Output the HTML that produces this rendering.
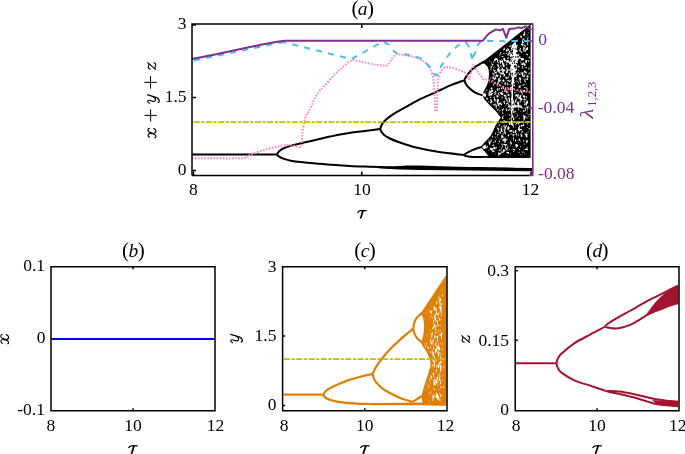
<!DOCTYPE html><html><head><meta charset="utf-8"><title>Bifurcation diagrams</title><style>html,body{margin:0;padding:0;background:#fff;width:685px;height:454px;overflow:hidden;}svg{display:block;will-change:transform;font-family:"Liberation Serif",serif;}</style></head><body><svg width="685" height="454" viewBox="0 0 685 454"><rect width="685" height="454" fill="#fff"/><path d="M277.2,154.4 C277.2,153.5 277.8,152.6 278.8,151.6 C279.8,150.6 281.0,149.5 283.2,148.5 C285.4,147.5 288.3,146.4 292.0,145.4 C295.7,144.4 300.8,143.3 305.2,142.3 C309.6,141.3 314.4,140.2 318.5,139.3 C322.6,138.4 324.4,137.7 330.0,136.6 C335.6,135.5 343.6,133.9 352.0,132.6 C360.4,131.3 375.7,129.6 380.4,129.0" fill="none" stroke="#000" stroke-width="2"/>
<path d="M277.2,154.4 C277.2,155.1 277.8,155.7 278.8,156.4 C279.8,157.1 281.0,157.8 283.2,158.6 C285.4,159.4 288.4,160.3 292.0,161.0 C295.6,161.7 300.3,162.0 305.0,162.5 C309.7,163.0 315.0,163.4 320.0,163.8 C325.0,164.2 330.0,164.7 335.0,165.0 C340.0,165.3 345.0,165.6 350.0,165.9 C355.0,166.2 360.0,166.4 365.0,166.6 C370.0,166.8 370.8,166.8 380.0,167.1 C389.2,167.4 394.8,167.9 420.0,168.2 C445.2,168.5 512.5,168.9 531.0,169.0" fill="none" stroke="#000" stroke-width="2"/>
<path d="M380.4,129.0 C380.4,127.4 381.1,125.9 382.0,124.3 C382.9,122.7 384.1,121.4 386.1,119.6 C388.1,117.8 391.0,115.6 394.1,113.6 C397.2,111.6 400.9,109.8 404.9,107.6 C408.9,105.4 413.4,102.7 418.3,100.2 C423.2,97.7 429.0,95.3 434.4,92.8 C439.8,90.3 445.5,87.5 450.5,85.4 C455.5,83.3 462.2,81.1 464.6,80.2" fill="none" stroke="#000" stroke-width="2"/>
<path d="M380.4,129.0 C380.4,130.9 382.3,133.1 383.9,134.7 C385.5,136.3 387.7,137.3 390.0,138.5 C392.3,139.7 393.3,140.2 397.7,141.7 C402.1,143.2 409.2,145.8 416.2,147.5 C423.1,149.2 431.4,150.8 439.4,152.1 C447.4,153.3 460.1,154.5 464.3,155.0" fill="none" stroke="#000" stroke-width="2"/>
<path d="M464.6,80.0 C464.6,78.7 465.6,77.4 466.5,76.0 C467.4,74.6 468.3,73.4 469.9,71.8 C471.4,70.2 473.9,67.8 475.8,66.4 C477.7,65.0 479.9,64.1 481.3,63.2 C482.7,62.4 483.6,61.6 484.0,61.3" fill="none" stroke="#000" stroke-width="2"/>
<path d="M464.6,80.0 C464.6,81.9 465.5,83.9 466.9,85.7 C468.3,87.5 471.1,89.8 472.9,91.1 C474.7,92.4 475.9,92.9 477.5,93.6 C479.1,94.3 481.6,95.0 482.4,95.3" fill="none" stroke="#000" stroke-width="2"/>
<path d="M464.3,155.2 C464.3,153.8 468.7,152.1 470.6,151.0 C472.6,149.9 474.1,149.5 476.0,148.8 C477.9,148.1 481.0,147.3 482.0,147.0" fill="none" stroke="#000" stroke-width="2"/>
<path d="M464.3,155.2 C464.3,155.6 465.5,156.0 467.0,156.3 C468.5,156.6 470.9,156.9 473.2,157.0 C475.5,157.1 478.4,157.0 481.0,157.0 C483.6,157.0 487.2,156.8 488.5,156.8" fill="none" stroke="#000" stroke-width="2"/>
<path d="M192.0,154.4 L277.2,154.4" fill="none" stroke="#000" stroke-width="2"/>
<path d="M378.0,167.7 C380.0,167.5 386.3,166.9 390.0,166.6 C393.7,166.3 395.0,166.1 400.0,165.9 C405.0,165.7 411.7,165.5 420.0,165.6 C428.3,165.7 438.3,166.2 450.0,166.5 C461.7,166.8 476.3,167.0 490.0,167.3 C503.7,167.6 525.0,168.0 532.0,168.1 L532,171.2 L490,170.8 L450,170.2 L420,169.9 L400,169.4 L390,168.9 L378,168.3 Z" fill="#000"/>
<path d="M480.8,63.2 L530.6,24.3 L530.6,158.0 L487.0,158.0 L488.5,156.0 L486.0,153.0 L483.0,149.8 L481.2,147.5 L481.6,145.5 L486.4,140.4 L490.8,135.6 L493.5,130.3 L495.2,125.9 L500.8,117.5 L496.1,111.6 L489.5,105.0 L484.5,99.5 L482.2,95.2 L483.5,92.0 L485.2,88.5 L486.8,85.5 L488.0,82.0 L488.6,78.5 L489.0,74.2 L488.7,70.0 L487.4,66.5 L484.5,63.8 Z" fill="#000"/>
<path fill="#fff" d="M529.16 29.6h0.33v0.33h-0.33zM529.16 29.93h0.33v0.33h-0.33zM529.16 30.26h0.33v0.33h-0.33zM523.88 31.25h0.66v0.33h-0.66zM523.88 31.58h0.66v0.33h-0.66zM523.88 31.91h0.99v0.33h-0.99zM527.84 31.91h0.33v0.33h-0.33zM523.88 32.24h0.99v0.33h-0.99zM527.84 32.24h0.66v0.33h-0.66zM524.21 32.57h0.99v0.33h-0.99zM527.84 32.57h0.66v0.33h-0.66zM524.21 32.9h0.99v0.33h-0.99zM528.17 32.9h0.33v0.33h-0.33zM524.21 33.23h0.99v0.33h-0.99zM523.88 33.56h1.32v0.33h-1.32zM523.22 33.89h1.98v0.33h-1.98zM526.85 33.89h0.66v0.33h-0.66zM522.89 34.22h1.98v0.33h-1.98zM526.85 34.22h0.66v0.33h-0.66zM523.22 34.55h1.65v0.33h-1.65zM523.22 34.88h1.65v0.33h-1.65zM523.22 35.21h1.65v0.33h-1.65zM521.57 35.54h0.33v0.33h-0.33zM523.88 35.54h0.99v0.33h-0.99zM527.51 35.54h0.66v0.33h-0.66zM520.25 35.87h1.65v0.33h-1.65zM527.51 35.87h0.66v0.33h-0.66zM519.92 36.2h1.98v0.33h-1.98zM527.84 36.2h0.33v0.33h-0.33zM519.92 36.53h1.98v0.33h-1.98zM525.86 36.53h0.33v0.33h-0.33zM527.84 36.53h0.33v0.33h-0.33zM520.25 36.86h1.65v0.33h-1.65zM525.53 36.86h0.66v0.33h-0.66zM520.91 37.19h0.99v0.33h-0.99zM525.53 37.19h0.66v0.33h-0.66zM528.5 37.19h0.66v0.33h-0.66zM521.24 37.52h0.66v0.33h-0.66zM528.5 37.52h0.66v0.33h-0.66zM521.24 37.85h0.33v0.33h-0.33zM527.18 37.85h0.66v0.33h-0.66zM528.5 37.85h0.33v0.33h-0.33zM527.18 38.18h0.99v0.33h-0.99zM522.56 38.51h0.99v0.33h-0.99zM523.88 38.51h0.33v0.33h-0.33zM527.18 38.51h0.99v0.33h-0.99zM522.56 38.84h1.98v0.33h-1.98zM527.18 38.84h0.99v0.33h-0.99zM522.56 39.17h1.98v0.33h-1.98zM527.51 39.17h0.66v0.33h-0.66zM529.49 39.17h0.33v0.33h-0.33zM517.61 39.5h0.33v0.33h-0.33zM522.23 39.5h0.33v0.33h-0.33zM522.89 39.5h1.65v0.33h-1.65zM527.51 39.5h0.66v0.33h-0.66zM517.28 39.83h0.66v0.33h-0.66zM522.23 39.83h0.99v0.33h-0.99zM526.19 39.83h0.33v0.33h-0.33zM527.51 39.83h0.66v0.33h-0.66zM516.62 40.16h1.32v0.33h-1.32zM522.23 40.16h0.99v0.33h-0.99zM526.19 40.16h1.98v0.33h-1.98zM516.62 40.49h0.99v0.33h-0.99zM522.23 40.49h0.66v0.33h-0.66zM525.86 40.49h2.31v0.33h-2.31zM516.62 40.82h0.99v0.33h-0.99zM522.23 40.82h0.66v0.33h-0.66zM525.86 40.82h2.31v0.33h-2.31zM516.95 41.15h0.66v0.33h-0.66zM522.23 41.15h0.99v0.33h-0.99zM525.86 41.15h2.31v0.33h-2.31zM514.97 41.48h0.33v0.33h-0.33zM522.23 41.48h0.99v0.33h-0.99zM524.87 41.48h0.33v0.33h-0.33zM526.19 41.48h1.98v0.33h-1.98zM514.97 41.81h0.33v0.33h-0.33zM521.9 41.81h1.98v0.33h-1.98zM526.19 41.81h1.98v0.33h-1.98zM514.31 42.14h1.32v0.33h-1.32zM521.9 42.14h1.98v0.33h-1.98zM527.18 42.14h0.99v0.33h-0.99zM514.31 42.47h1.65v0.33h-1.65zM521.9 42.47h1.98v0.33h-1.98zM527.51 42.47h0.33v0.33h-0.33zM513.65 42.8h2.31v0.33h-2.31zM521.9 42.8h1.65v0.33h-1.65zM527.51 42.8h0.33v0.33h-0.33zM513.32 43.13h2.64v0.33h-2.64zM521.9 43.13h0.99v0.33h-0.99zM527.51 43.13h0.33v0.33h-0.33zM513.32 43.46h2.64v0.33h-2.64zM521.9 43.46h0.66v0.33h-0.66zM527.18 43.46h0.99v0.33h-0.99zM512.99 43.79h2.97v0.33h-2.97zM520.91 43.79h0.66v0.33h-0.66zM522.23 43.79h0.33v0.33h-0.33zM527.18 43.79h0.99v0.33h-0.99zM512.99 44.12h2.97v0.33h-2.97zM520.91 44.12h2.31v0.33h-2.31zM527.18 44.12h0.99v0.33h-0.99zM512 44.45h4.29v0.33h-4.29zM520.91 44.45h2.64v0.33h-2.64zM527.18 44.45h0.99v0.33h-0.99zM512 44.78h2.31v0.33h-2.31zM514.64 44.78h1.65v0.33h-1.65zM516.95 44.78h0.66v0.33h-0.66zM521.24 44.78h2.31v0.33h-2.31zM524.21 44.78h0.99v0.33h-0.99zM527.18 44.78h0.99v0.33h-0.99zM510.68 45.11h0.99v0.33h-0.99zM512 45.11h2.31v0.33h-2.31zM514.64 45.11h1.65v0.33h-1.65zM516.62 45.11h0.99v0.33h-0.99zM521.9 45.11h1.65v0.33h-1.65zM524.21 45.11h1.32v0.33h-1.32zM527.51 45.11h0.33v0.33h-0.33zM510.35 45.44h0.66v0.33h-0.66zM511.67 45.44h5.94v0.33h-5.94zM521.9 45.44h1.32v0.33h-1.32zM524.21 45.44h1.32v0.33h-1.32zM507.71 45.77h0.33v0.33h-0.33zM509.69 45.77h1.32v0.33h-1.32zM511.67 45.77h5.94v0.33h-5.94zM524.54 45.77h1.32v0.33h-1.32zM507.71 46.1h0.66v0.33h-0.66zM509.36 46.1h1.32v0.33h-1.32zM511.67 46.1h5.61v0.33h-5.61zM524.87 46.1h0.99v0.33h-0.99zM507.71 46.43h0.33v0.33h-0.33zM509.36 46.43h1.32v0.33h-1.32zM511.67 46.43h5.61v0.33h-5.61zM523.88 46.43h0.33v0.33h-0.33zM525.2 46.43h0.66v0.33h-0.66zM509.69 46.76h0.99v0.33h-0.99zM511.67 46.76h5.61v0.33h-5.61zM523.55 46.76h0.99v0.33h-0.99zM525.53 46.76h0.33v0.33h-0.33zM511.34 47.09h5.61v0.33h-5.61zM523.55 47.09h0.99v0.33h-0.99zM527.18 47.09h0.66v0.33h-0.66zM504.08 47.42h0.33v0.33h-0.33zM511.34 47.42h5.61v0.33h-5.61zM518.6 47.42h0.66v0.33h-0.66zM523.22 47.42h1.65v0.33h-1.65zM526.85 47.42h0.99v0.33h-0.99zM503.75 47.75h0.66v0.33h-0.66zM511.34 47.75h5.61v0.33h-5.61zM518.6 47.75h0.66v0.33h-0.66zM523.22 47.75h1.65v0.33h-1.65zM526.52 47.75h1.32v0.33h-1.32zM503.75 48.08h0.99v0.33h-0.99zM507.05 48.08h0.33v0.33h-0.33zM511.01 48.08h1.65v0.33h-1.65zM513.32 48.08h0.99v0.33h-0.99zM514.64 48.08h0.99v0.33h-0.99zM515.96 48.08h0.99v0.33h-0.99zM518.6 48.08h0.33v0.33h-0.33zM519.92 48.08h0.99v0.33h-0.99zM523.22 48.08h0.66v0.33h-0.66zM524.21 48.08h0.66v0.33h-0.66zM526.19 48.08h1.65v0.33h-1.65zM503.75 48.41h0.99v0.33h-0.99zM507.05 48.41h0.66v0.33h-0.66zM511.01 48.41h1.32v0.33h-1.32zM513.32 48.41h0.99v0.33h-0.99zM514.64 48.41h0.66v0.33h-0.66zM516.29 48.41h0.66v0.33h-0.66zM519.92 48.41h0.99v0.33h-0.99zM522.89 48.41h0.99v0.33h-0.99zM524.21 48.41h0.99v0.33h-0.99zM525.86 48.41h1.98v0.33h-1.98zM503.75 48.74h0.99v0.33h-0.99zM506.72 48.74h0.99v0.33h-0.99zM508.37 48.74h0.66v0.33h-0.66zM511.34 48.74h0.99v0.33h-0.99zM513.32 48.74h1.98v0.33h-1.98zM516.29 48.74h0.66v0.33h-0.66zM519.92 48.74h0.66v0.33h-0.66zM522.89 48.74h0.99v0.33h-0.99zM524.21 48.74h0.99v0.33h-0.99zM525.53 48.74h2.64v0.33h-2.64zM503.42 49.07h1.32v0.33h-1.32zM506.72 49.07h0.66v0.33h-0.66zM508.04 49.07h0.99v0.33h-0.99zM511.67 49.07h0.66v0.33h-0.66zM513.32 49.07h2.31v0.33h-2.31zM516.62 49.07h0.33v0.33h-0.33zM519.59 49.07h0.99v0.33h-0.99zM522.89 49.07h0.99v0.33h-0.99zM524.54 49.07h0.33v0.33h-0.33zM525.53 49.07h2.64v0.33h-2.64zM503.42 49.4h1.32v0.33h-1.32zM506.72 49.4h0.66v0.33h-0.66zM508.04 49.4h0.99v0.33h-0.99zM511.67 49.4h0.66v0.33h-0.66zM512.99 49.4h2.64v0.33h-2.64zM516.62 49.4h0.33v0.33h-0.33zM519.59 49.4h0.99v0.33h-0.99zM522.89 49.4h0.99v0.33h-0.99zM525.53 49.4h2.31v0.33h-2.31zM503.09 49.73h1.32v0.33h-1.32zM506.06 49.73h1.65v0.33h-1.65zM508.04 49.73h0.99v0.33h-0.99zM510.68 49.73h5.28v0.33h-5.28zM516.62 49.73h0.33v0.33h-0.33zM519.26 49.73h0.99v0.33h-0.99zM522.89 49.73h0.99v0.33h-0.99zM524.21 49.73h0.66v0.33h-0.66zM525.53 49.73h1.98v0.33h-1.98zM503.42 50.06h0.66v0.33h-0.66zM506.06 50.06h2.97v0.33h-2.97zM510.68 50.06h1.32v0.33h-1.32zM512.66 50.06h4.95v0.33h-4.95zM519.26 50.06h0.99v0.33h-0.99zM523.22 50.06h0.66v0.33h-0.66zM524.21 50.06h0.66v0.33h-0.66zM525.2 50.06h0.99v0.33h-0.99zM503.42 50.39h0.33v0.33h-0.33zM505.73 50.39h2.31v0.33h-2.31zM508.7 50.39h0.33v0.33h-0.33zM510.68 50.39h0.99v0.33h-0.99zM512.99 50.39h4.62v0.33h-4.62zM519.26 50.39h1.65v0.33h-1.65zM523.88 50.39h2.31v0.33h-2.31zM505.73 50.72h1.98v0.33h-1.98zM509.03 50.72h0.66v0.33h-0.66zM510.68 50.72h0.66v0.33h-0.66zM512.99 50.72h4.62v0.33h-4.62zM519.59 50.72h1.65v0.33h-1.65zM523.88 50.72h2.31v0.33h-2.31zM506.06 51.05h1.32v0.33h-1.32zM509.03 51.05h0.99v0.33h-0.99zM512.99 51.05h4.62v0.33h-4.62zM519.92 51.05h1.65v0.33h-1.65zM523.55 51.05h2.31v0.33h-2.31zM509.03 51.38h0.99v0.33h-0.99zM512.99 51.38h4.62v0.33h-4.62zM520.25 51.38h1.32v0.33h-1.32zM523.55 51.38h0.33v0.33h-0.33zM525.2 51.38h0.33v0.33h-0.33zM528.17 51.38h0.33v0.33h-0.33zM509.03 51.71h0.99v0.33h-0.99zM512.99 51.71h4.29v0.33h-4.29zM520.91 51.71h0.66v0.33h-0.66zM523.55 51.71h0.33v0.33h-0.33zM500.78 52.04h0.33v0.33h-0.33zM509.03 52.04h0.99v0.33h-0.99zM512.99 52.04h4.29v0.33h-4.29zM521.24 52.04h0.66v0.33h-0.66zM523.55 52.04h0.33v0.33h-0.33zM500.45 52.37h0.99v0.33h-0.99zM508.37 52.37h1.32v0.33h-1.32zM510.35 52.37h0.33v0.33h-0.33zM511.67 52.37h0.99v0.33h-0.99zM512.99 52.37h2.97v0.33h-2.97zM521.24 52.37h0.99v0.33h-0.99zM500.12 52.7h1.32v0.33h-1.32zM505.73 52.7h0.99v0.33h-0.99zM508.04 52.7h1.65v0.33h-1.65zM510.35 52.7h5.61v0.33h-5.61zM521.24 52.7h0.99v0.33h-0.99zM500.12 53.03h0.99v0.33h-0.99zM503.42 53.03h0.99v0.33h-0.99zM505.73 53.03h0.99v0.33h-0.99zM508.04 53.03h1.65v0.33h-1.65zM510.35 53.03h0.99v0.33h-0.99zM512.33 53.03h3.63v0.33h-3.63zM500.12 53.36h0.66v0.33h-0.66zM503.09 53.36h1.32v0.33h-1.32zM505.73 53.36h0.99v0.33h-0.99zM508.37 53.36h1.32v0.33h-1.32zM510.35 53.36h0.99v0.33h-0.99zM512.66 53.36h3.63v0.33h-3.63zM526.19 53.36h0.33v0.33h-0.33zM499.79 53.69h0.99v0.33h-0.99zM503.09 53.69h1.65v0.33h-1.65zM506.06 53.69h0.33v0.33h-0.33zM507.71 53.69h0.33v0.33h-0.33zM508.7 53.69h0.99v0.33h-0.99zM510.35 53.69h0.99v0.33h-0.99zM512.66 53.69h3.96v0.33h-3.96zM518.6 53.69h0.33v0.33h-0.33zM525.86 53.69h0.99v0.33h-0.99zM497.15 54.02h0.33v0.33h-0.33zM499.79 54.02h0.66v0.33h-0.66zM504.08 54.02h0.33v0.33h-0.33zM507.38 54.02h0.99v0.33h-0.99zM508.7 54.02h0.66v0.33h-0.66zM510.35 54.02h1.32v0.33h-1.32zM512.99 54.02h4.29v0.33h-4.29zM518.6 54.02h0.66v0.33h-0.66zM525.86 54.02h1.98v0.33h-1.98zM499.46 54.35h0.99v0.33h-0.99zM507.38 54.35h1.98v0.33h-1.98zM510.35 54.35h1.65v0.33h-1.65zM512.99 54.35h4.29v0.33h-4.29zM518.27 54.35h0.99v0.33h-0.99zM526.19 54.35h1.98v0.33h-1.98zM499.46 54.68h0.99v0.33h-0.99zM507.38 54.68h1.98v0.33h-1.98zM510.02 54.68h2.31v0.33h-2.31zM512.99 54.68h4.29v0.33h-4.29zM517.61 54.68h1.65v0.33h-1.65zM526.85 54.68h1.32v0.33h-1.32zM499.46 55.01h0.66v0.33h-0.66zM507.38 55.01h1.98v0.33h-1.98zM510.02 55.01h2.31v0.33h-2.31zM512.99 55.01h5.94v0.33h-5.94zM527.18 55.01h0.66v0.33h-0.66zM499.79 55.34h0.33v0.33h-0.33zM508.7 55.34h0.66v0.33h-0.66zM510.02 55.34h8.91v0.33h-8.91zM499.79 55.67h0.33v0.33h-0.33zM501.77 55.67h0.33v0.33h-0.33zM509.03 55.67h0.33v0.33h-0.33zM510.02 55.67h8.58v0.33h-8.58zM499.79 56h0.33v0.33h-0.33zM501.77 56h1.32v0.33h-1.32zM510.02 56h5.61v0.33h-5.61zM516.29 56h0.99v0.33h-0.99zM499.79 56.33h0.33v0.33h-0.33zM501.77 56.33h1.65v0.33h-1.65zM510.02 56.33h1.65v0.33h-1.65zM512.33 56.33h0.66v0.33h-0.66zM513.98 56.33h1.32v0.33h-1.32zM516.29 56.33h0.99v0.33h-0.99zM518.6 56.33h0.99v0.33h-0.99zM519.92 56.33h0.33v0.33h-0.33zM528.83 56.33h0.66v0.33h-0.66zM499.79 56.66h0.33v0.33h-0.33zM502.1 56.66h0.99v0.33h-0.99zM510.02 56.66h0.66v0.33h-0.66zM512.66 56.66h0.33v0.33h-0.33zM513.98 56.66h1.32v0.33h-1.32zM516.29 56.66h0.99v0.33h-0.99zM518.6 56.66h1.98v0.33h-1.98zM528.83 56.66h0.66v0.33h-0.66zM499.46 56.99h0.33v0.33h-0.33zM502.1 56.99h0.99v0.33h-0.99zM507.71 56.99h0.66v0.33h-0.66zM512.66 56.99h0.66v0.33h-0.66zM513.65 56.99h1.32v0.33h-1.32zM516.29 56.99h0.99v0.33h-0.99zM518.6 56.99h1.98v0.33h-1.98zM528.83 56.99h0.99v0.33h-0.99zM499.46 57.32h0.33v0.33h-0.33zM507.71 57.32h0.99v0.33h-0.99zM512.99 57.32h1.98v0.33h-1.98zM515.96 57.32h1.65v0.33h-1.65zM518.6 57.32h1.98v0.33h-1.98zM528.83 57.32h0.99v0.33h-0.99zM504.08 57.65h0.66v0.33h-0.66zM507.71 57.65h0.99v0.33h-0.99zM511.01 57.65h0.66v0.33h-0.66zM512 57.65h5.61v0.33h-5.61zM518.27 57.65h2.31v0.33h-2.31zM528.83 57.65h0.99v0.33h-0.99zM495.5 57.98h0.99v0.33h-0.99zM503.75 57.98h1.32v0.33h-1.32zM507.05 57.98h1.65v0.33h-1.65zM510.02 57.98h4.29v0.33h-4.29zM514.64 57.98h2.97v0.33h-2.97zM518.27 57.98h2.31v0.33h-2.31zM521.57 57.98h0.99v0.33h-0.99zM528.83 57.98h0.99v0.33h-0.99zM494.84 58.31h2.31v0.33h-2.31zM503.09 58.31h1.98v0.33h-1.98zM507.05 58.31h1.32v0.33h-1.32zM510.02 58.31h1.65v0.33h-1.65zM512 58.31h7.59v0.33h-7.59zM520.25 58.31h3.63v0.33h-3.63zM528.83 58.31h0.66v0.33h-0.66zM494.51 58.64h2.97v0.33h-2.97zM503.09 58.64h1.98v0.33h-1.98zM508.04 58.64h0.33v0.33h-0.33zM510.68 58.64h0.66v0.33h-0.66zM512.33 58.64h6.93v0.33h-6.93zM520.58 58.64h3.63v0.33h-3.63zM528.83 58.64h0.33v0.33h-0.33zM494.51 58.97h2.97v0.33h-2.97zM503.42 58.97h1.65v0.33h-1.65zM511.01 58.97h0.33v0.33h-0.33zM512.33 58.97h5.94v0.33h-5.94zM520.91 58.97h3.3v0.33h-3.3zM494.18 59.3h3.63v0.33h-3.63zM501.44 59.3h0.66v0.33h-0.66zM503.42 59.3h1.65v0.33h-1.65zM511.01 59.3h0.66v0.33h-0.66zM512.33 59.3h5.94v0.33h-5.94zM520.91 59.3h3.3v0.33h-3.3zM494.18 59.63h2.31v0.33h-2.31zM496.82 59.63h1.32v0.33h-1.32zM501.44 59.63h0.66v0.33h-0.66zM503.75 59.63h1.98v0.33h-1.98zM507.05 59.63h0.33v0.33h-0.33zM510.68 59.63h4.29v0.33h-4.29zM515.63 59.63h0.33v0.33h-0.33zM516.29 59.63h1.98v0.33h-1.98zM520.91 59.63h2.97v0.33h-2.97zM494.18 59.96h1.98v0.33h-1.98zM497.15 59.96h0.99v0.33h-0.99zM499.79 59.96h0.66v0.33h-0.66zM501.77 59.96h0.99v0.33h-0.99zM503.75 59.96h2.31v0.33h-2.31zM506.72 59.96h0.99v0.33h-0.99zM510.68 59.96h4.29v0.33h-4.29zM515.63 59.96h0.33v0.33h-0.33zM516.29 59.96h1.98v0.33h-1.98zM520.91 59.96h2.31v0.33h-2.31zM526.19 59.96h1.32v0.33h-1.32zM528.5 59.96h0.66v0.33h-0.66zM494.18 60.29h1.65v0.33h-1.65zM497.15 60.29h0.99v0.33h-0.99zM499.46 60.29h1.32v0.33h-1.32zM501.77 60.29h1.32v0.33h-1.32zM504.08 60.29h1.98v0.33h-1.98zM506.72 60.29h2.31v0.33h-2.31zM510.68 60.29h0.99v0.33h-0.99zM512 60.29h1.98v0.33h-1.98zM514.64 60.29h0.33v0.33h-0.33zM515.63 60.29h2.31v0.33h-2.31zM520.91 60.29h0.99v0.33h-0.99zM525.2 60.29h2.31v0.33h-2.31zM528.5 60.29h0.66v0.33h-0.66zM489.23 60.62h0.66v0.33h-0.66zM494.18 60.62h1.32v0.33h-1.32zM497.15 60.62h0.99v0.33h-0.99zM499.13 60.62h1.65v0.33h-1.65zM501.77 60.62h1.32v0.33h-1.32zM504.08 60.62h4.95v0.33h-4.95zM510.35 60.62h0.99v0.33h-0.99zM512 60.62h1.65v0.33h-1.65zM514.97 60.62h2.64v0.33h-2.64zM525.2 60.62h1.65v0.33h-1.65zM528.17 60.62h0.99v0.33h-0.99zM488.9 60.95h1.32v0.33h-1.32zM494.84 60.95h0.33v0.33h-0.33zM497.15 60.95h0.99v0.33h-0.99zM499.13 60.95h1.65v0.33h-1.65zM501.44 60.95h1.65v0.33h-1.65zM504.08 60.95h4.95v0.33h-4.95zM510.35 60.95h0.99v0.33h-0.99zM512 60.95h1.32v0.33h-1.32zM514.64 60.95h2.64v0.33h-2.64zM525.2 60.95h1.65v0.33h-1.65zM528.17 60.95h0.99v0.33h-0.99zM489.23 61.28h0.99v0.33h-0.99zM493.52 61.28h0.66v0.33h-0.66zM497.15 61.28h0.99v0.33h-0.99zM499.46 61.28h3.63v0.33h-3.63zM504.08 61.28h0.33v0.33h-0.33zM505.4 61.28h0.33v0.33h-0.33zM506.06 61.28h2.97v0.33h-2.97zM510.35 61.28h0.99v0.33h-0.99zM512 61.28h1.32v0.33h-1.32zM514.64 61.28h2.64v0.33h-2.64zM520.58 61.28h0.33v0.33h-0.33zM525.2 61.28h1.65v0.33h-1.65zM528.17 61.28h0.66v0.33h-0.66zM491.54 61.61h0.33v0.33h-0.33zM493.19 61.61h0.99v0.33h-0.99zM497.15 61.61h0.99v0.33h-0.99zM499.79 61.61h3.3v0.33h-3.3zM506.39 61.61h2.97v0.33h-2.97zM509.69 61.61h0.33v0.33h-0.33zM510.35 61.61h1.32v0.33h-1.32zM512 61.61h1.32v0.33h-1.32zM514.64 61.61h2.97v0.33h-2.97zM520.58 61.61h0.33v0.33h-0.33zM525.2 61.61h1.65v0.33h-1.65zM528.17 61.61h0.66v0.33h-0.66zM491.54 61.94h0.33v0.33h-0.33zM493.19 61.94h0.99v0.33h-0.99zM497.48 61.94h0.99v0.33h-0.99zM499.79 61.94h1.32v0.33h-1.32zM501.44 61.94h1.65v0.33h-1.65zM506.39 61.94h7.59v0.33h-7.59zM514.64 61.94h2.97v0.33h-2.97zM520.58 61.94h0.33v0.33h-0.33zM525.2 61.94h1.65v0.33h-1.65zM491.54 62.27h0.33v0.33h-0.33zM493.52 62.27h0.66v0.33h-0.66zM495.17 62.27h0.33v0.33h-0.33zM497.48 62.27h0.99v0.33h-0.99zM499.79 62.27h1.32v0.33h-1.32zM501.77 62.27h1.32v0.33h-1.32zM506.39 62.27h7.92v0.33h-7.92zM514.97 62.27h2.97v0.33h-2.97zM520.25 62.27h0.66v0.33h-0.66zM523.22 62.27h0.66v0.33h-0.66zM525.2 62.27h1.65v0.33h-1.65zM491.54 62.6h0.33v0.33h-0.33zM493.52 62.6h0.33v0.33h-0.33zM497.81 62.6h0.99v0.33h-0.99zM499.79 62.6h1.32v0.33h-1.32zM501.77 62.6h1.32v0.33h-1.32zM506.39 62.6h0.99v0.33h-0.99zM508.7 62.6h3.3v0.33h-3.3zM512.66 62.6h1.32v0.33h-1.32zM514.97 62.6h1.32v0.33h-1.32zM516.62 62.6h1.32v0.33h-1.32zM520.25 62.6h0.66v0.33h-0.66zM523.22 62.6h0.99v0.33h-0.99zM525.86 62.6h0.99v0.33h-0.99zM491.54 62.93h0.33v0.33h-0.33zM497.81 62.93h0.99v0.33h-0.99zM499.79 62.93h0.99v0.33h-0.99zM501.77 62.93h1.65v0.33h-1.65zM506.39 62.93h0.99v0.33h-0.99zM509.03 62.93h2.97v0.33h-2.97zM512.99 62.93h0.99v0.33h-0.99zM514.97 62.93h0.99v0.33h-0.99zM516.95 62.93h0.66v0.33h-0.66zM523.22 62.93h0.99v0.33h-0.99zM526.19 62.93h0.66v0.33h-0.66zM491.54 63.26h0.66v0.33h-0.66zM498.14 63.26h0.33v0.33h-0.33zM500.12 63.26h0.66v0.33h-0.66zM502.1 63.26h1.65v0.33h-1.65zM506.72 63.26h0.33v0.33h-0.33zM509.03 63.26h2.97v0.33h-2.97zM512.99 63.26h0.99v0.33h-0.99zM514.97 63.26h0.99v0.33h-0.99zM516.95 63.26h0.33v0.33h-0.33zM521.24 63.26h0.66v0.33h-0.66zM522.23 63.26h1.98v0.33h-1.98zM524.87 63.26h0.33v0.33h-0.33zM491.54 63.59h0.66v0.33h-0.66zM500.12 63.59h0.66v0.33h-0.66zM502.1 63.59h1.65v0.33h-1.65zM509.36 63.59h1.32v0.33h-1.32zM511.01 63.59h1.32v0.33h-1.32zM512.99 63.59h0.99v0.33h-0.99zM514.64 63.59h1.32v0.33h-1.32zM521.24 63.59h3.96v0.33h-3.96zM491.54 63.92h0.66v0.33h-0.66zM500.45 63.92h0.33v0.33h-0.33zM502.43 63.92h1.65v0.33h-1.65zM505.73 63.92h0.33v0.33h-0.33zM509.36 63.92h1.32v0.33h-1.32zM511.01 63.92h4.95v0.33h-4.95zM521.24 63.92h4.29v0.33h-4.29zM491.54 64.25h1.98v0.33h-1.98zM496.82 64.25h0.99v0.33h-0.99zM502.43 64.25h1.65v0.33h-1.65zM506.06 64.25h0.99v0.33h-0.99zM509.36 64.25h1.32v0.33h-1.32zM511.01 64.25h5.94v0.33h-5.94zM521.24 64.25h4.29v0.33h-4.29zM491.54 64.58h1.98v0.33h-1.98zM496.82 64.58h1.98v0.33h-1.98zM502.43 64.58h1.98v0.33h-1.98zM506.06 64.58h0.99v0.33h-0.99zM510.02 64.58h0.33v0.33h-0.33zM511.01 64.58h5.94v0.33h-5.94zM521.57 64.58h1.65v0.33h-1.65zM523.88 64.58h1.65v0.33h-1.65zM491.54 64.91h2.31v0.33h-2.31zM496.82 64.91h1.98v0.33h-1.98zM500.45 64.91h0.33v0.33h-0.33zM502.43 64.91h1.98v0.33h-1.98zM506.06 64.91h0.99v0.33h-0.99zM511.01 64.91h4.29v0.33h-4.29zM515.63 64.91h1.32v0.33h-1.32zM523.88 64.91h1.65v0.33h-1.65zM491.87 65.24h0.99v0.33h-0.99zM497.15 65.24h1.65v0.33h-1.65zM500.45 65.24h0.66v0.33h-0.66zM502.76 65.24h1.98v0.33h-1.98zM506.39 65.24h0.66v0.33h-0.66zM511.34 65.24h3.3v0.33h-3.3zM515.96 65.24h1.32v0.33h-1.32zM518.27 65.24h0.33v0.33h-0.33zM524.21 65.24h0.99v0.33h-0.99zM497.48 65.57h1.32v0.33h-1.32zM500.45 65.57h0.99v0.33h-0.99zM502.76 65.57h1.98v0.33h-1.98zM511.01 65.57h2.97v0.33h-2.97zM515.96 65.57h1.32v0.33h-1.32zM518.27 65.57h0.66v0.33h-0.66zM524.21 65.57h0.99v0.33h-0.99zM491.54 65.9h0.33v0.33h-0.33zM497.81 65.9h0.99v0.33h-0.99zM500.45 65.9h0.99v0.33h-0.99zM502.76 65.9h1.98v0.33h-1.98zM511.01 65.9h2.97v0.33h-2.97zM516.29 65.9h0.99v0.33h-0.99zM517.94 65.9h0.99v0.33h-0.99zM522.56 65.9h0.33v0.33h-0.33zM524.54 65.9h0.33v0.33h-0.33zM491.21 66.23h0.99v0.33h-0.99zM497.81 66.23h0.99v0.33h-0.99zM500.45 66.23h0.99v0.33h-0.99zM502.76 66.23h1.98v0.33h-1.98zM510.35 66.23h3.63v0.33h-3.63zM516.29 66.23h0.33v0.33h-0.33zM516.95 66.23h0.33v0.33h-0.33zM517.94 66.23h1.65v0.33h-1.65zM522.23 66.23h0.99v0.33h-0.99zM490.88 66.56h1.65v0.33h-1.65zM494.18 66.56h0.33v0.33h-0.33zM498.14 66.56h0.99v0.33h-0.99zM500.78 66.56h0.66v0.33h-0.66zM503.09 66.56h1.32v0.33h-1.32zM510.02 66.56h4.29v0.33h-4.29zM514.97 66.56h0.33v0.33h-0.33zM517.94 66.56h1.65v0.33h-1.65zM522.23 66.56h0.99v0.33h-0.99zM490.55 66.89h1.65v0.33h-1.65zM494.18 66.89h0.33v0.33h-0.33zM498.47 66.89h0.99v0.33h-0.99zM510.02 66.89h4.62v0.33h-4.62zM514.97 66.89h0.33v0.33h-0.33zM517.94 66.89h1.65v0.33h-1.65zM522.23 66.89h0.99v0.33h-0.99zM525.86 66.89h0.99v0.33h-0.99zM490.55 67.22h1.32v0.33h-1.32zM493.52 67.22h0.99v0.33h-0.99zM498.47 67.22h1.32v0.33h-1.32zM502.1 67.22h0.33v0.33h-0.33zM506.72 67.22h0.66v0.33h-0.66zM510.02 67.22h4.62v0.33h-4.62zM515.96 67.22h0.66v0.33h-0.66zM518.27 67.22h0.33v0.33h-0.33zM519.26 67.22h0.33v0.33h-0.33zM522.56 67.22h0.66v0.33h-0.66zM525.53 67.22h1.32v0.33h-1.32zM529.16 67.22h0.66v0.33h-0.66zM490.55 67.55h0.99v0.33h-0.99zM493.19 67.55h0.99v0.33h-0.99zM498.47 67.55h1.32v0.33h-1.32zM502.1 67.55h0.33v0.33h-0.33zM506.06 67.55h1.32v0.33h-1.32zM510.02 67.55h4.62v0.33h-4.62zM515.63 67.55h1.65v0.33h-1.65zM522.56 67.55h0.66v0.33h-0.66zM525.53 67.55h1.32v0.33h-1.32zM528.83 67.55h0.99v0.33h-0.99zM490.88 67.88h0.66v0.33h-0.66zM493.52 67.88h0.33v0.33h-0.33zM498.47 67.88h0.99v0.33h-0.99zM501.77 67.88h0.99v0.33h-0.99zM505.73 67.88h1.65v0.33h-1.65zM510.35 67.88h4.29v0.33h-4.29zM515.96 67.88h1.32v0.33h-1.32zM522.56 67.88h0.66v0.33h-0.66zM525.53 67.88h0.99v0.33h-0.99zM528.83 67.88h0.99v0.33h-0.99zM498.14 68.21h0.99v0.33h-0.99zM501.77 68.21h0.99v0.33h-0.99zM505.73 68.21h1.65v0.33h-1.65zM510.68 68.21h3.96v0.33h-3.96zM515.96 68.21h0.33v0.33h-0.33zM516.62 68.21h0.33v0.33h-0.33zM522.23 68.21h1.32v0.33h-1.32zM525.53 68.21h0.66v0.33h-0.66zM528.5 68.21h0.99v0.33h-0.99zM490.88 68.54h0.33v0.33h-0.33zM497.48 68.54h1.65v0.33h-1.65zM501.77 68.54h0.99v0.33h-0.99zM506.06 68.54h1.32v0.33h-1.32zM510.68 68.54h0.99v0.33h-0.99zM512 68.54h2.97v0.33h-2.97zM515.96 68.54h0.33v0.33h-0.33zM516.62 68.54h0.33v0.33h-0.33zM521.57 68.54h0.66v0.33h-0.66zM522.89 68.54h0.33v0.33h-0.33zM528.5 68.54h0.66v0.33h-0.66zM490.55 68.87h0.99v0.33h-0.99zM497.15 68.87h1.98v0.33h-1.98zM501.44 68.87h1.32v0.33h-1.32zM506.72 68.87h0.66v0.33h-0.66zM509.03 68.87h0.33v0.33h-0.33zM510.02 68.87h1.65v0.33h-1.65zM512.33 68.87h3.96v0.33h-3.96zM516.62 68.87h0.33v0.33h-0.33zM521.9 68.87h0.33v0.33h-0.33zM528.5 68.87h0.66v0.33h-0.66zM490.55 69.2h0.99v0.33h-0.99zM493.52 69.2h0.66v0.33h-0.66zM497.15 69.2h2.31v0.33h-2.31zM501.44 69.2h1.32v0.33h-1.32zM503.09 69.2h0.99v0.33h-0.99zM506.72 69.2h0.99v0.33h-0.99zM508.7 69.2h0.99v0.33h-0.99zM510.02 69.2h1.65v0.33h-1.65zM512.33 69.2h4.62v0.33h-4.62zM528.5 69.2h0.66v0.33h-0.66zM490.55 69.53h0.66v0.33h-0.66zM493.19 69.53h0.99v0.33h-0.99zM497.15 69.53h2.64v0.33h-2.64zM500.12 69.53h2.64v0.33h-2.64zM503.09 69.53h1.65v0.33h-1.65zM506.72 69.53h0.99v0.33h-0.99zM508.37 69.53h3.3v0.33h-3.3zM512.33 69.53h4.62v0.33h-4.62zM518.6 69.53h0.33v0.33h-0.33zM528.5 69.53h0.66v0.33h-0.66zM490.55 69.86h0.66v0.33h-0.66zM493.19 69.86h1.32v0.33h-1.32zM495.17 69.86h0.33v0.33h-0.33zM497.15 69.86h5.61v0.33h-5.61zM503.09 69.86h1.98v0.33h-1.98zM506.72 69.86h3.3v0.33h-3.3zM510.35 69.86h1.32v0.33h-1.32zM512.33 69.86h4.62v0.33h-4.62zM518.27 69.86h0.66v0.33h-0.66zM528.83 69.86h0.33v0.33h-0.33zM493.19 70.19h1.32v0.33h-1.32zM494.84 70.19h0.99v0.33h-0.99zM497.15 70.19h3.3v0.33h-3.3zM501.11 70.19h1.65v0.33h-1.65zM503.09 70.19h2.31v0.33h-2.31zM506.72 70.19h2.64v0.33h-2.64zM510.35 70.19h1.32v0.33h-1.32zM512.33 70.19h3.63v0.33h-3.63zM518.6 70.19h0.33v0.33h-0.33zM519.59 70.19h0.33v0.33h-0.33zM489.56 70.52h0.66v0.33h-0.66zM493.19 70.52h2.31v0.33h-2.31zM497.15 70.52h2.97v0.33h-2.97zM501.77 70.52h3.63v0.33h-3.63zM506.72 70.52h1.32v0.33h-1.32zM510.35 70.52h5.61v0.33h-5.61zM519.59 70.52h0.33v0.33h-0.33zM524.21 70.52h0.33v0.33h-0.33zM489.89 70.85h0.33v0.33h-0.33zM493.85 70.85h0.99v0.33h-0.99zM497.15 70.85h2.64v0.33h-2.64zM502.1 70.85h1.65v0.33h-1.65zM504.41 70.85h0.99v0.33h-0.99zM506.39 70.85h1.32v0.33h-1.32zM510.35 70.85h5.61v0.33h-5.61zM523.88 70.85h0.99v0.33h-0.99zM494.18 71.18h0.99v0.33h-0.99zM497.48 71.18h2.31v0.33h-2.31zM502.1 71.18h1.65v0.33h-1.65zM504.74 71.18h0.33v0.33h-0.33zM506.39 71.18h1.32v0.33h-1.32zM509.69 71.18h0.33v0.33h-0.33zM510.35 71.18h4.29v0.33h-4.29zM515.3 71.18h0.66v0.33h-0.66zM523.88 71.18h2.31v0.33h-2.31zM494.51 71.51h0.66v0.33h-0.66zM496.16 71.51h0.66v0.33h-0.66zM497.81 71.51h0.33v0.33h-0.33zM498.47 71.51h1.32v0.33h-1.32zM502.43 71.51h1.32v0.33h-1.32zM506.06 71.51h1.98v0.33h-1.98zM509.69 71.51h0.33v0.33h-0.33zM510.35 71.51h4.29v0.33h-4.29zM515.3 71.51h0.66v0.33h-0.66zM523.88 71.51h2.64v0.33h-2.64zM494.51 71.84h2.31v0.33h-2.31zM498.47 71.84h1.32v0.33h-1.32zM502.43 71.84h1.32v0.33h-1.32zM505.73 71.84h2.31v0.33h-2.31zM509.69 71.84h0.33v0.33h-0.33zM510.68 71.84h4.29v0.33h-4.29zM515.3 71.84h0.33v0.33h-0.33zM517.94 71.84h0.66v0.33h-0.66zM523.88 71.84h2.64v0.33h-2.64zM494.51 72.17h2.31v0.33h-2.31zM498.8 72.17h0.99v0.33h-0.99zM502.43 72.17h1.32v0.33h-1.32zM505.73 72.17h2.64v0.33h-2.64zM509.69 72.17h0.33v0.33h-0.33zM510.68 72.17h4.95v0.33h-4.95zM517.94 72.17h0.66v0.33h-0.66zM520.58 72.17h0.66v0.33h-0.66zM522.23 72.17h0.33v0.33h-0.33zM523.88 72.17h2.64v0.33h-2.64zM494.51 72.5h2.31v0.33h-2.31zM498.8 72.5h2.64v0.33h-2.64zM502.43 72.5h1.32v0.33h-1.32zM505.73 72.5h1.32v0.33h-1.32zM507.71 72.5h0.33v0.33h-0.33zM509.69 72.5h0.66v0.33h-0.66zM510.68 72.5h4.95v0.33h-4.95zM517.61 72.5h0.99v0.33h-0.99zM520.58 72.5h2.97v0.33h-2.97zM525.2 72.5h1.65v0.33h-1.65zM528.83 72.5h0.66v0.33h-0.66zM492.53 72.83h0.66v0.33h-0.66zM494.51 72.83h2.31v0.33h-2.31zM499.13 72.83h2.97v0.33h-2.97zM502.43 72.83h1.32v0.33h-1.32zM506.06 72.83h0.66v0.33h-0.66zM509.69 72.83h0.66v0.33h-0.66zM510.68 72.83h0.33v0.33h-0.33zM511.34 72.83h0.66v0.33h-0.66zM512.99 72.83h2.64v0.33h-2.64zM516.62 72.83h0.66v0.33h-0.66zM517.61 72.83h0.99v0.33h-0.99zM520.91 72.83h2.64v0.33h-2.64zM525.53 72.83h1.32v0.33h-1.32zM528.83 72.83h0.99v0.33h-0.99zM492.53 73.16h0.99v0.33h-0.99zM494.51 73.16h0.33v0.33h-0.33zM499.79 73.16h3.96v0.33h-3.96zM509.69 73.16h0.33v0.33h-0.33zM510.68 73.16h0.33v0.33h-0.33zM513.32 73.16h1.98v0.33h-1.98zM516.62 73.16h0.66v0.33h-0.66zM517.94 73.16h0.33v0.33h-0.33zM521.24 73.16h1.98v0.33h-1.98zM525.86 73.16h0.99v0.33h-0.99zM528.83 73.16h0.99v0.33h-0.99zM492.53 73.49h1.32v0.33h-1.32zM494.18 73.49h0.66v0.33h-0.66zM500.12 73.49h3.96v0.33h-3.96zM508.7 73.49h1.32v0.33h-1.32zM513.32 73.49h1.98v0.33h-1.98zM516.29 73.49h0.99v0.33h-0.99zM519.26 73.49h0.66v0.33h-0.66zM521.57 73.49h1.65v0.33h-1.65zM526.19 73.49h0.33v0.33h-0.33zM528.5 73.49h1.32v0.33h-1.32zM492.53 73.82h1.65v0.33h-1.65zM501.11 73.82h3.63v0.33h-3.63zM508.7 73.82h1.32v0.33h-1.32zM511.34 73.82h0.66v0.33h-0.66zM512.99 73.82h0.99v0.33h-0.99zM514.97 73.82h0.33v0.33h-0.33zM516.29 73.82h0.99v0.33h-0.99zM518.93 73.82h1.65v0.33h-1.65zM521.57 73.82h1.65v0.33h-1.65zM528.17 73.82h1.32v0.33h-1.32zM492.86 74.15h1.32v0.33h-1.32zM501.77 74.15h0.99v0.33h-0.99zM504.08 74.15h0.99v0.33h-0.99zM508.7 74.15h1.32v0.33h-1.32zM511.34 74.15h2.31v0.33h-2.31zM514.97 74.15h0.33v0.33h-0.33zM515.96 74.15h1.32v0.33h-1.32zM518.93 74.15h1.65v0.33h-1.65zM521.9 74.15h1.32v0.33h-1.32zM524.21 74.15h0.66v0.33h-0.66zM528.5 74.15h0.66v0.33h-0.66zM493.19 74.48h0.99v0.33h-0.99zM495.83 74.48h0.99v0.33h-0.99zM500.45 74.48h0.33v0.33h-0.33zM502.1 74.48h0.66v0.33h-0.66zM503.75 74.48h1.32v0.33h-1.32zM508.7 74.48h1.32v0.33h-1.32zM511.34 74.48h3.63v0.33h-3.63zM515.63 74.48h1.32v0.33h-1.32zM518.93 74.48h1.65v0.33h-1.65zM521.9 74.48h1.32v0.33h-1.32zM524.21 74.48h0.99v0.33h-0.99zM493.52 74.81h0.66v0.33h-0.66zM495.83 74.81h1.65v0.33h-1.65zM497.81 74.81h0.66v0.33h-0.66zM500.12 74.81h0.66v0.33h-0.66zM503.75 74.81h1.32v0.33h-1.32zM509.03 74.81h0.99v0.33h-0.99zM511.34 74.81h1.32v0.33h-1.32zM512.99 74.81h1.98v0.33h-1.98zM515.3 74.81h1.32v0.33h-1.32zM519.26 74.81h0.33v0.33h-0.33zM521.9 74.81h1.32v0.33h-1.32zM524.21 74.81h0.99v0.33h-0.99zM493.85 75.14h0.66v0.33h-0.66zM495.83 75.14h2.64v0.33h-2.64zM500.12 75.14h0.66v0.33h-0.66zM503.42 75.14h1.65v0.33h-1.65zM509.69 75.14h0.66v0.33h-0.66zM511.01 75.14h1.32v0.33h-1.32zM512.99 75.14h1.98v0.33h-1.98zM515.3 75.14h1.32v0.33h-1.32zM521.9 75.14h1.32v0.33h-1.32zM524.21 75.14h0.99v0.33h-0.99zM526.85 75.14h0.66v0.33h-0.66zM493.85 75.47h0.66v0.33h-0.66zM495.5 75.47h2.97v0.33h-2.97zM499.79 75.47h0.99v0.33h-0.99zM503.42 75.47h1.32v0.33h-1.32zM510.02 75.47h0.33v0.33h-0.33zM511.01 75.47h1.32v0.33h-1.32zM512.99 75.47h3.63v0.33h-3.63zM522.23 75.47h1.32v0.33h-1.32zM524.21 75.47h0.99v0.33h-0.99zM526.52 75.47h1.32v0.33h-1.32zM493.85 75.8h0.66v0.33h-0.66zM495.5 75.8h2.64v0.33h-2.64zM499.79 75.8h1.32v0.33h-1.32zM503.42 75.8h1.32v0.33h-1.32zM508.7 75.8h0.33v0.33h-0.33zM510.02 75.8h0.33v0.33h-0.33zM511.01 75.8h1.32v0.33h-1.32zM512.99 75.8h3.63v0.33h-3.63zM522.56 75.8h2.31v0.33h-2.31zM526.52 75.8h1.65v0.33h-1.65zM493.85 76.13h0.66v0.33h-0.66zM495.5 76.13h0.99v0.33h-0.99zM496.82 76.13h1.32v0.33h-1.32zM499.79 76.13h1.32v0.33h-1.32zM503.42 76.13h0.99v0.33h-0.99zM508.37 76.13h0.66v0.33h-0.66zM511.34 76.13h5.28v0.33h-5.28zM522.56 76.13h2.31v0.33h-2.31zM526.52 76.13h1.98v0.33h-1.98zM492.53 76.46h1.65v0.33h-1.65zM495.5 76.46h0.99v0.33h-0.99zM497.15 76.46h0.99v0.33h-0.99zM499.79 76.46h1.32v0.33h-1.32zM503.75 76.46h0.66v0.33h-0.66zM505.73 76.46h0.66v0.33h-0.66zM508.37 76.46h0.66v0.33h-0.66zM511.34 76.46h2.31v0.33h-2.31zM513.98 76.46h2.31v0.33h-2.31zM522.56 76.46h2.31v0.33h-2.31zM526.52 76.46h2.31v0.33h-2.31zM492.53 76.79h1.32v0.33h-1.32zM495.17 76.79h0.99v0.33h-0.99zM497.15 76.79h0.66v0.33h-0.66zM499.79 76.79h0.99v0.33h-0.99zM505.4 76.79h1.32v0.33h-1.32zM508.04 76.79h0.99v0.33h-0.99zM511.34 76.79h3.96v0.33h-3.96zM523.88 76.79h0.99v0.33h-0.99zM526.85 76.79h1.98v0.33h-1.98zM490.88 77.12h0.33v0.33h-0.33zM492.53 77.12h1.32v0.33h-1.32zM495.17 77.12h0.99v0.33h-0.99zM499.79 77.12h0.99v0.33h-0.99zM505.4 77.12h1.32v0.33h-1.32zM507.71 77.12h1.32v0.33h-1.32zM511.34 77.12h2.97v0.33h-2.97zM514.64 77.12h0.33v0.33h-0.33zM526.85 77.12h0.66v0.33h-0.66zM528.5 77.12h0.33v0.33h-0.33zM490.55 77.45h0.66v0.33h-0.66zM492.53 77.45h0.99v0.33h-0.99zM495.17 77.45h0.66v0.33h-0.66zM499.79 77.45h0.66v0.33h-0.66zM502.43 77.45h0.33v0.33h-0.33zM505.4 77.45h1.32v0.33h-1.32zM507.38 77.45h1.32v0.33h-1.32zM511.67 77.45h2.64v0.33h-2.64zM518.93 77.45h1.65v0.33h-1.65zM526.85 77.45h0.66v0.33h-0.66zM490.55 77.78h0.66v0.33h-0.66zM492.53 77.78h1.32v0.33h-1.32zM494.84 77.78h0.99v0.33h-0.99zM499.79 77.78h0.33v0.33h-0.33zM502.76 77.78h0.33v0.33h-0.33zM505.4 77.78h2.64v0.33h-2.64zM512 77.78h2.31v0.33h-2.31zM516.29 77.78h0.33v0.33h-0.33zM518.93 77.78h1.98v0.33h-1.98zM526.52 77.78h0.99v0.33h-0.99zM490.55 78.11h0.66v0.33h-0.66zM492.53 78.11h1.65v0.33h-1.65zM494.51 78.11h1.32v0.33h-1.32zM499.13 78.11h0.99v0.33h-0.99zM505.4 78.11h2.31v0.33h-2.31zM512 78.11h2.31v0.33h-2.31zM516.29 78.11h0.66v0.33h-0.66zM518.93 78.11h1.98v0.33h-1.98zM526.52 78.11h0.99v0.33h-0.99zM490.55 78.44h0.33v0.33h-0.33zM492.53 78.44h3.63v0.33h-3.63zM498.47 78.44h1.65v0.33h-1.65zM505.73 78.44h1.32v0.33h-1.32zM512 78.44h1.98v0.33h-1.98zM516.29 78.44h0.66v0.33h-0.66zM518.93 78.44h1.98v0.33h-1.98zM524.87 78.44h0.99v0.33h-0.99zM526.52 78.44h1.32v0.33h-1.32zM492.53 78.77h0.33v0.33h-0.33zM493.19 78.77h3.3v0.33h-3.3zM498.14 78.77h1.65v0.33h-1.65zM506.39 78.77h0.33v0.33h-0.33zM512 78.77h1.98v0.33h-1.98zM516.62 78.77h0.33v0.33h-0.33zM518.93 78.77h1.98v0.33h-1.98zM523.55 78.77h0.33v0.33h-0.33zM524.87 78.77h0.66v0.33h-0.66zM526.52 78.77h1.32v0.33h-1.32zM489.89 79.1h0.33v0.33h-0.33zM494.18 79.1h1.32v0.33h-1.32zM496.16 79.1h0.33v0.33h-0.33zM498.14 79.1h1.65v0.33h-1.65zM511.67 79.1h2.31v0.33h-2.31zM519.26 79.1h1.65v0.33h-1.65zM523.55 79.1h0.66v0.33h-0.66zM524.87 79.1h0.66v0.33h-0.66zM526.52 79.1h1.32v0.33h-1.32zM489.89 79.43h0.33v0.33h-0.33zM494.18 79.43h0.99v0.33h-0.99zM498.14 79.43h1.32v0.33h-1.32zM500.12 79.43h0.66v0.33h-0.66zM503.09 79.43h0.99v0.33h-0.99zM511.67 79.43h2.31v0.33h-2.31zM518.27 79.43h0.66v0.33h-0.66zM519.92 79.43h0.99v0.33h-0.99zM521.57 79.43h0.33v0.33h-0.33zM523.55 79.43h0.99v0.33h-0.99zM524.87 79.43h0.66v0.33h-0.66zM526.52 79.43h1.32v0.33h-1.32zM489.89 79.76h0.33v0.33h-0.33zM492.53 79.76h0.99v0.33h-0.99zM494.51 79.76h0.66v0.33h-0.66zM498.14 79.76h1.32v0.33h-1.32zM500.12 79.76h0.99v0.33h-0.99zM502.76 79.76h1.32v0.33h-1.32zM507.71 79.76h0.66v0.33h-0.66zM510.02 79.76h0.33v0.33h-0.33zM511.67 79.76h2.64v0.33h-2.64zM518.27 79.76h0.66v0.33h-0.66zM519.92 79.76h0.99v0.33h-0.99zM521.57 79.76h0.33v0.33h-0.33zM524.21 79.76h0.99v0.33h-0.99zM526.52 79.76h1.32v0.33h-1.32zM492.53 80.09h0.99v0.33h-0.99zM498.14 80.09h1.32v0.33h-1.32zM500.12 80.09h0.99v0.33h-0.99zM502.43 80.09h1.98v0.33h-1.98zM507.38 80.09h1.32v0.33h-1.32zM509.69 80.09h0.99v0.33h-0.99zM511.67 80.09h2.64v0.33h-2.64zM519.59 80.09h0.99v0.33h-0.99zM524.21 80.09h0.99v0.33h-0.99zM492.53 80.42h0.99v0.33h-0.99zM498.14 80.42h2.97v0.33h-2.97zM502.43 80.42h1.98v0.33h-1.98zM507.38 80.42h1.32v0.33h-1.32zM509.69 80.42h0.99v0.33h-0.99zM511.67 80.42h2.64v0.33h-2.64zM516.62 80.42h0.66v0.33h-0.66zM519.59 80.42h0.99v0.33h-0.99zM524.21 80.42h0.99v0.33h-0.99zM498.14 80.75h2.64v0.33h-2.64zM502.43 80.75h1.98v0.33h-1.98zM506.06 80.75h0.66v0.33h-0.66zM507.38 80.75h3.3v0.33h-3.3zM511.67 80.75h2.64v0.33h-2.64zM515.63 80.75h0.33v0.33h-0.33zM516.62 80.75h0.99v0.33h-0.99zM519.59 80.75h0.99v0.33h-0.99zM524.54 80.75h0.99v0.33h-0.99zM498.14 81.08h2.31v0.33h-2.31zM502.43 81.08h1.98v0.33h-1.98zM506.06 81.08h0.33v0.33h-0.33zM508.7 81.08h1.65v0.33h-1.65zM511.67 81.08h2.31v0.33h-2.31zM515.63 81.08h0.33v0.33h-0.33zM516.62 81.08h0.99v0.33h-0.99zM519.59 81.08h0.99v0.33h-0.99zM524.54 81.08h1.32v0.33h-1.32zM497.81 81.41h2.31v0.33h-2.31zM503.42 81.41h0.66v0.33h-0.66zM508.7 81.41h1.32v0.33h-1.32zM511.67 81.41h2.31v0.33h-2.31zM515.63 81.41h0.33v0.33h-0.33zM516.62 81.41h0.99v0.33h-0.99zM519.59 81.41h0.66v0.33h-0.66zM524.87 81.41h0.99v0.33h-0.99zM497.81 81.74h0.66v0.33h-0.66zM499.46 81.74h0.33v0.33h-0.33zM509.03 81.74h0.66v0.33h-0.66zM511.67 81.74h2.31v0.33h-2.31zM516.62 81.74h0.66v0.33h-0.66zM518.6 81.74h0.33v0.33h-0.33zM519.92 81.74h0.33v0.33h-0.33zM520.58 81.74h0.33v0.33h-0.33zM524.87 81.74h0.66v0.33h-0.66zM489.23 82.07h0.33v0.33h-0.33zM497.48 82.07h0.99v0.33h-0.99zM501.77 82.07h0.33v0.33h-0.33zM511.67 82.07h2.97v0.33h-2.97zM518.27 82.07h0.66v0.33h-0.66zM520.25 82.07h0.99v0.33h-0.99zM525.2 82.07h0.33v0.33h-0.33zM489.23 82.4h0.66v0.33h-0.66zM494.84 82.4h0.33v0.33h-0.33zM497.48 82.4h1.32v0.33h-1.32zM501.44 82.4h0.99v0.33h-0.99zM504.74 82.4h0.99v0.33h-0.99zM506.72 82.4h0.66v0.33h-0.66zM511.01 82.4h3.96v0.33h-3.96zM517.94 82.4h0.66v0.33h-0.66zM520.25 82.4h0.99v0.33h-0.99zM488.9 82.73h0.66v0.33h-0.66zM494.51 82.73h1.32v0.33h-1.32zM497.48 82.73h1.32v0.33h-1.32zM501.44 82.73h0.99v0.33h-0.99zM504.41 82.73h1.65v0.33h-1.65zM506.72 82.73h0.99v0.33h-0.99zM511.01 82.73h3.63v0.33h-3.63zM517.94 82.73h0.66v0.33h-0.66zM520.25 82.73h0.99v0.33h-0.99zM488.9 83.06h0.33v0.33h-0.33zM494.84 83.06h0.99v0.33h-0.99zM497.48 83.06h1.32v0.33h-1.32zM501.77 83.06h0.66v0.33h-0.66zM504.41 83.06h1.65v0.33h-1.65zM506.72 83.06h0.99v0.33h-0.99zM511.01 83.06h3.63v0.33h-3.63zM517.94 83.06h0.66v0.33h-0.66zM493.19 83.39h0.66v0.33h-0.66zM495.17 83.39h0.66v0.33h-0.66zM497.81 83.39h0.99v0.33h-0.99zM504.41 83.39h1.32v0.33h-1.32zM507.05 83.39h0.66v0.33h-0.66zM511.01 83.39h0.33v0.33h-0.33zM511.67 83.39h1.32v0.33h-1.32zM513.65 83.39h0.66v0.33h-0.66zM493.19 83.72h0.66v0.33h-0.66zM495.17 83.72h0.66v0.33h-0.66zM498.14 83.72h0.66v0.33h-0.66zM504.41 83.72h1.32v0.33h-1.32zM507.05 83.72h0.66v0.33h-0.66zM511.67 83.72h1.32v0.33h-1.32zM493.19 84.05h0.66v0.33h-0.66zM499.79 84.05h0.33v0.33h-0.33zM504.41 84.05h1.32v0.33h-1.32zM506.72 84.05h0.99v0.33h-0.99zM509.69 84.05h0.33v0.33h-0.33zM511.67 84.05h1.32v0.33h-1.32zM523.55 84.05h0.99v0.33h-0.99zM493.19 84.38h0.99v0.33h-0.99zM499.46 84.38h0.66v0.33h-0.66zM504.74 84.38h0.66v0.33h-0.66zM506.72 84.38h2.31v0.33h-2.31zM509.69 84.38h0.66v0.33h-0.66zM511.67 84.38h1.32v0.33h-1.32zM513.65 84.38h0.99v0.33h-0.99zM523.22 84.38h1.65v0.33h-1.65zM526.52 84.38h0.66v0.33h-0.66zM493.52 84.71h0.66v0.33h-0.66zM497.15 84.71h0.33v0.33h-0.33zM498.8 84.71h1.32v0.33h-1.32zM504.08 84.71h0.33v0.33h-0.33zM506.72 84.71h0.99v0.33h-0.99zM508.37 84.71h0.33v0.33h-0.33zM510.02 84.71h0.66v0.33h-0.66zM511.67 84.71h1.32v0.33h-1.32zM513.65 84.71h1.32v0.33h-1.32zM522.56 84.71h1.98v0.33h-1.98zM526.52 84.71h0.33v0.33h-0.33zM493.52 85.04h0.66v0.33h-0.66zM497.15 85.04h0.66v0.33h-0.66zM498.8 85.04h1.32v0.33h-1.32zM507.05 85.04h0.66v0.33h-0.66zM510.02 85.04h0.66v0.33h-0.66zM511.67 85.04h1.32v0.33h-1.32zM513.32 85.04h1.65v0.33h-1.65zM519.59 85.04h0.66v0.33h-0.66zM522.23 85.04h1.65v0.33h-1.65zM493.52 85.37h0.66v0.33h-0.66zM496.82 85.37h0.99v0.33h-0.99zM498.8 85.37h0.99v0.33h-0.99zM510.35 85.37h0.33v0.33h-0.33zM511.67 85.37h1.32v0.33h-1.32zM513.32 85.37h1.65v0.33h-1.65zM519.59 85.37h0.99v0.33h-0.99zM522.56 85.37h0.99v0.33h-0.99zM493.52 85.7h0.66v0.33h-0.66zM497.15 85.7h0.99v0.33h-0.99zM503.09 85.7h0.33v0.33h-0.33zM511.67 85.7h1.32v0.33h-1.32zM513.32 85.7h1.65v0.33h-1.65zM519.26 85.7h1.32v0.33h-1.32zM497.48 86.03h0.66v0.33h-0.66zM502.76 86.03h0.66v0.33h-0.66zM511.67 86.03h1.32v0.33h-1.32zM513.65 86.03h0.99v0.33h-0.99zM518.93 86.03h1.65v0.33h-1.65zM497.81 86.36h0.33v0.33h-0.33zM502.76 86.36h0.99v0.33h-0.99zM511.67 86.36h1.32v0.33h-1.32zM513.65 86.36h0.66v0.33h-0.66zM518.6 86.36h1.98v0.33h-1.98zM502.76 86.69h0.99v0.33h-0.99zM511.67 86.69h1.32v0.33h-1.32zM518.6 86.69h1.98v0.33h-1.98zM525.86 86.69h0.33v0.33h-0.33zM502.76 87.02h0.99v0.33h-0.99zM507.38 87.02h0.33v0.33h-0.33zM510.02 87.02h0.33v0.33h-0.33zM511.01 87.02h0.33v0.33h-0.33zM511.67 87.02h1.32v0.33h-1.32zM518.6 87.02h1.98v0.33h-1.98zM523.88 87.02h0.99v0.33h-0.99zM525.86 87.02h0.66v0.33h-0.66zM491.21 87.35h0.66v0.33h-0.66zM501.44 87.35h0.33v0.33h-0.33zM503.09 87.35h0.66v0.33h-0.66zM505.73 87.35h0.33v0.33h-0.33zM507.05 87.35h0.66v0.33h-0.66zM510.02 87.35h2.97v0.33h-2.97zM518.6 87.35h1.98v0.33h-1.98zM523.88 87.35h0.99v0.33h-0.99zM525.53 87.35h0.99v0.33h-0.99zM490.88 87.68h1.32v0.33h-1.32zM501.11 87.68h1.32v0.33h-1.32zM503.42 87.68h0.66v0.33h-0.66zM505.4 87.68h0.66v0.33h-0.66zM507.38 87.68h0.66v0.33h-0.66zM510.02 87.68h2.97v0.33h-2.97zM523.88 87.68h0.66v0.33h-0.66zM525.2 87.68h1.32v0.33h-1.32zM490.55 88.01h1.98v0.33h-1.98zM497.15 88.01h0.33v0.33h-0.33zM498.8 88.01h0.99v0.33h-0.99zM501.11 88.01h1.32v0.33h-1.32zM503.09 88.01h0.99v0.33h-0.99zM505.4 88.01h0.66v0.33h-0.66zM507.71 88.01h0.33v0.33h-0.33zM510.02 88.01h3.63v0.33h-3.63zM523.88 88.01h0.33v0.33h-0.33zM524.87 88.01h0.66v0.33h-0.66zM526.19 88.01h0.99v0.33h-0.99zM490.55 88.34h1.98v0.33h-1.98zM496.82 88.34h0.99v0.33h-0.99zM498.8 88.34h0.99v0.33h-0.99zM501.11 88.34h1.32v0.33h-1.32zM503.09 88.34h0.66v0.33h-0.66zM505.07 88.34h0.99v0.33h-0.99zM507.71 88.34h0.33v0.33h-0.33zM510.02 88.34h3.63v0.33h-3.63zM525.2 88.34h0.33v0.33h-0.33zM526.52 88.34h0.99v0.33h-0.99zM490.55 88.67h1.65v0.33h-1.65zM496.82 88.67h0.99v0.33h-0.99zM498.8 88.67h0.99v0.33h-0.99zM501.11 88.67h1.32v0.33h-1.32zM503.09 88.67h0.66v0.33h-0.66zM505.07 88.67h0.99v0.33h-0.99zM507.71 88.67h0.33v0.33h-0.33zM509.69 88.67h3.96v0.33h-3.96zM520.91 88.67h0.66v0.33h-0.66zM526.52 88.67h0.99v0.33h-0.99zM490.88 89h1.32v0.33h-1.32zM496.82 89h0.99v0.33h-0.99zM498.8 89h0.99v0.33h-0.99zM501.11 89h0.99v0.33h-0.99zM503.42 89h0.33v0.33h-0.33zM504.74 89h1.32v0.33h-1.32zM507.71 89h0.66v0.33h-0.66zM509.69 89h3.96v0.33h-3.96zM520.91 89h0.66v0.33h-0.66zM526.52 89h0.99v0.33h-0.99zM486.59 89.33h0.33v0.33h-0.33zM491.21 89.33h0.99v0.33h-0.99zM496.82 89.33h0.99v0.33h-0.99zM498.47 89.33h0.99v0.33h-0.99zM504.74 89.33h1.65v0.33h-1.65zM507.71 89.33h0.66v0.33h-0.66zM509.69 89.33h3.3v0.33h-3.3zM521.24 89.33h0.33v0.33h-0.33zM526.52 89.33h0.99v0.33h-0.99zM486.26 89.66h0.99v0.33h-0.99zM491.87 89.66h0.66v0.33h-0.66zM497.15 89.66h0.99v0.33h-0.99zM498.47 89.66h0.99v0.33h-0.99zM504.41 89.66h1.65v0.33h-1.65zM507.71 89.66h0.66v0.33h-0.66zM509.69 89.66h3.3v0.33h-3.3zM522.89 89.66h0.33v0.33h-0.33zM524.21 89.66h0.33v0.33h-0.33zM526.85 89.66h0.66v0.33h-0.66zM486.26 89.99h0.99v0.33h-0.99zM491.87 89.99h0.99v0.33h-0.99zM497.15 89.99h0.99v0.33h-0.99zM498.47 89.99h0.99v0.33h-0.99zM504.41 89.99h1.32v0.33h-1.32zM508.04 89.99h0.33v0.33h-0.33zM509.69 89.99h0.33v0.33h-0.33zM510.35 89.99h0.99v0.33h-0.99zM511.67 89.99h1.32v0.33h-1.32zM522.89 89.99h0.66v0.33h-0.66zM524.21 89.99h0.66v0.33h-0.66zM526.85 89.99h0.66v0.33h-0.66zM486.26 90.32h0.99v0.33h-0.99zM489.23 90.32h0.33v0.33h-0.33zM490.55 90.32h0.99v0.33h-0.99zM491.87 90.32h1.32v0.33h-1.32zM497.15 90.32h0.66v0.33h-0.66zM502.1 90.32h0.33v0.33h-0.33zM504.41 90.32h0.99v0.33h-0.99zM510.68 90.32h0.33v0.33h-0.33zM511.67 90.32h1.32v0.33h-1.32zM515.96 90.32h0.33v0.33h-0.33zM521.57 90.32h0.66v0.33h-0.66zM522.89 90.32h0.66v0.33h-0.66zM523.88 90.32h0.99v0.33h-0.99zM526.85 90.32h0.66v0.33h-0.66zM488.9 90.65h0.99v0.33h-0.99zM490.55 90.65h2.64v0.33h-2.64zM495.17 90.65h0.66v0.33h-0.66zM497.15 90.65h0.66v0.33h-0.66zM502.1 90.65h0.33v0.33h-0.33zM504.41 90.65h0.99v0.33h-0.99zM510.68 90.65h0.33v0.33h-0.33zM511.67 90.65h1.32v0.33h-1.32zM515.63 90.65h0.99v0.33h-0.99zM521.24 90.65h0.99v0.33h-0.99zM523.22 90.65h1.98v0.33h-1.98zM526.85 90.65h0.66v0.33h-0.66zM488.9 90.98h3.96v0.33h-3.96zM495.17 90.98h0.66v0.33h-0.66zM502.1 90.98h0.66v0.33h-0.66zM504.41 90.98h0.99v0.33h-0.99zM510.68 90.98h2.31v0.33h-2.31zM515.96 90.98h0.66v0.33h-0.66zM518.93 90.98h0.33v0.33h-0.33zM520.58 90.98h1.65v0.33h-1.65zM523.22 90.98h2.31v0.33h-2.31zM485.27 91.31h0.33v0.33h-0.33zM489.23 91.31h3.63v0.33h-3.63zM495.17 91.31h0.99v0.33h-0.99zM502.1 91.31h0.99v0.33h-0.99zM504.41 91.31h2.31v0.33h-2.31zM510.68 91.31h2.31v0.33h-2.31zM516.29 91.31h0.33v0.33h-0.33zM518.93 91.31h0.66v0.33h-0.66zM520.58 91.31h1.65v0.33h-1.65zM523.22 91.31h2.31v0.33h-2.31zM484.94 91.64h0.66v0.33h-0.66zM489.23 91.64h2.31v0.33h-2.31zM491.87 91.64h0.66v0.33h-0.66zM494.18 91.64h0.33v0.33h-0.33zM495.17 91.64h0.99v0.33h-0.99zM499.79 91.64h0.33v0.33h-0.33zM502.1 91.64h0.99v0.33h-0.99zM504.41 91.64h2.64v0.33h-2.64zM510.68 91.64h2.31v0.33h-2.31zM518.93 91.64h0.66v0.33h-0.66zM520.58 91.64h1.32v0.33h-1.32zM523.22 91.64h0.99v0.33h-0.99zM524.87 91.64h0.66v0.33h-0.66zM485.27 91.97h0.33v0.33h-0.33zM488.9 91.97h0.66v0.33h-0.66zM490.22 91.97h1.32v0.33h-1.32zM493.85 91.97h0.99v0.33h-0.99zM495.17 91.97h0.99v0.33h-0.99zM499.46 91.97h0.99v0.33h-0.99zM502.1 91.97h0.66v0.33h-0.66zM506.06 91.97h0.99v0.33h-0.99zM511.01 91.97h1.98v0.33h-1.98zM514.31 91.97h1.32v0.33h-1.32zM518.93 91.97h0.66v0.33h-0.66zM520.91 91.97h0.99v0.33h-0.99zM523.22 91.97h0.66v0.33h-0.66zM525.2 91.97h0.33v0.33h-0.33zM485.27 92.3h0.33v0.33h-0.33zM488.57 92.3h0.99v0.33h-0.99zM490.22 92.3h1.32v0.33h-1.32zM493.85 92.3h0.99v0.33h-0.99zM495.17 92.3h0.66v0.33h-0.66zM499.46 92.3h0.99v0.33h-0.99zM500.78 92.3h1.65v0.33h-1.65zM506.39 92.3h0.66v0.33h-0.66zM511.67 92.3h1.32v0.33h-1.32zM514.31 92.3h1.32v0.33h-1.32zM521.24 92.3h0.99v0.33h-0.99zM488.57 92.63h1.32v0.33h-1.32zM490.55 92.63h0.99v0.33h-0.99zM493.85 92.63h0.99v0.33h-0.99zM497.81 92.63h0.66v0.33h-0.66zM499.46 92.63h2.64v0.33h-2.64zM506.39 92.63h0.33v0.33h-0.33zM511.67 92.63h1.32v0.33h-1.32zM514.31 92.63h0.99v0.33h-0.99zM521.24 92.63h1.65v0.33h-1.65zM488.57 92.96h1.65v0.33h-1.65zM490.88 92.96h1.98v0.33h-1.98zM497.81 92.96h0.99v0.33h-0.99zM500.12 92.96h1.98v0.33h-1.98zM506.06 92.96h0.66v0.33h-0.66zM511.34 92.96h1.65v0.33h-1.65zM514.64 92.96h0.33v0.33h-0.33zM521.57 92.96h1.32v0.33h-1.32zM488.57 93.29h1.98v0.33h-1.98zM491.21 93.29h1.65v0.33h-1.65zM495.17 93.29h0.66v0.33h-0.66zM497.81 93.29h0.99v0.33h-0.99zM500.45 93.29h2.97v0.33h-2.97zM506.06 93.29h0.66v0.33h-0.66zM511.34 93.29h1.65v0.33h-1.65zM521.57 93.29h0.99v0.33h-0.99zM488.57 93.62h1.98v0.33h-1.98zM491.21 93.62h1.65v0.33h-1.65zM494.51 93.62h1.98v0.33h-1.98zM497.81 93.62h0.99v0.33h-0.99zM500.45 93.62h2.97v0.33h-2.97zM506.06 93.62h0.33v0.33h-0.33zM511.34 93.62h1.65v0.33h-1.65zM521.9 93.62h0.66v0.33h-0.66zM488.57 93.95h3.96v0.33h-3.96zM494.51 93.95h1.98v0.33h-1.98zM498.14 93.95h0.66v0.33h-0.66zM500.78 93.95h2.64v0.33h-2.64zM511.34 93.95h1.65v0.33h-1.65zM515.96 93.95h0.66v0.33h-0.66zM518.27 93.95h0.66v0.33h-0.66zM521.9 93.95h0.66v0.33h-0.66zM488.57 94.28h3.96v0.33h-3.96zM494.51 94.28h0.99v0.33h-0.99zM498.14 94.28h0.99v0.33h-0.99zM500.78 94.28h2.64v0.33h-2.64zM507.38 94.28h1.98v0.33h-1.98zM511.67 94.28h1.32v0.33h-1.32zM515.63 94.28h0.99v0.33h-0.99zM517.61 94.28h1.32v0.33h-1.32zM521.9 94.28h0.66v0.33h-0.66zM488.57 94.61h0.99v0.33h-0.99zM489.89 94.61h2.31v0.33h-2.31zM494.51 94.61h0.99v0.33h-0.99zM498.47 94.61h0.99v0.33h-0.99zM501.11 94.61h1.98v0.33h-1.98zM504.08 94.61h0.33v0.33h-0.33zM505.73 94.61h0.33v0.33h-0.33zM507.38 94.61h1.98v0.33h-1.98zM511.67 94.61h1.32v0.33h-1.32zM515.63 94.61h0.99v0.33h-0.99zM517.28 94.61h1.65v0.33h-1.65zM520.58 94.61h0.33v0.33h-0.33zM521.9 94.61h0.33v0.33h-0.33zM484.28 94.94h1.32v0.33h-1.32zM488.57 94.94h0.99v0.33h-0.99zM490.22 94.94h1.98v0.33h-1.98zM496.49 94.94h0.66v0.33h-0.66zM498.47 94.94h1.32v0.33h-1.32zM503.75 94.94h0.99v0.33h-0.99zM505.4 94.94h0.66v0.33h-0.66zM507.38 94.94h1.98v0.33h-1.98zM511.67 94.94h1.32v0.33h-1.32zM515.3 94.94h3.3v0.33h-3.3zM519.59 94.94h0.33v0.33h-0.33zM520.58 94.94h0.66v0.33h-0.66zM521.9 94.94h0.33v0.33h-0.33zM484.28 95.27h1.65v0.33h-1.65zM488.57 95.27h1.32v0.33h-1.32zM490.22 95.27h1.98v0.33h-1.98zM496.49 95.27h0.99v0.33h-0.99zM498.8 95.27h0.99v0.33h-0.99zM503.75 95.27h2.64v0.33h-2.64zM507.71 95.27h1.65v0.33h-1.65zM511.67 95.27h1.32v0.33h-1.32zM513.32 95.27h0.33v0.33h-0.33zM515.3 95.27h3.3v0.33h-3.3zM519.59 95.27h1.65v0.33h-1.65zM522.89 95.27h0.66v0.33h-0.66zM484.61 95.6h1.32v0.33h-1.32zM488.57 95.6h1.32v0.33h-1.32zM490.88 95.6h0.33v0.33h-0.33zM496.49 95.6h1.65v0.33h-1.65zM503.75 95.6h2.64v0.33h-2.64zM508.04 95.6h1.32v0.33h-1.32zM511.34 95.6h1.65v0.33h-1.65zM515.3 95.6h2.97v0.33h-2.97zM519.59 95.6h1.65v0.33h-1.65zM522.56 95.6h2.31v0.33h-2.31zM483.62 95.93h0.33v0.33h-0.33zM484.61 95.93h1.32v0.33h-1.32zM488.9 95.93h0.66v0.33h-0.66zM496.49 95.93h1.65v0.33h-1.65zM504.08 95.93h2.31v0.33h-2.31zM509.03 95.93h0.33v0.33h-0.33zM511.34 95.93h1.65v0.33h-1.65zM515.63 95.93h2.64v0.33h-2.64zM519.59 95.93h1.32v0.33h-1.32zM522.89 95.93h2.31v0.33h-2.31zM483.95 96.26h0.33v0.33h-0.33zM484.61 96.26h0.99v0.33h-0.99zM496.49 96.26h1.98v0.33h-1.98zM504.41 96.26h2.31v0.33h-2.31zM511.34 96.26h1.65v0.33h-1.65zM515.63 96.26h0.66v0.33h-0.66zM516.95 96.26h1.32v0.33h-1.32zM519.59 96.26h1.32v0.33h-1.32zM522.89 96.26h2.31v0.33h-2.31zM526.19 96.26h0.66v0.33h-0.66zM483.95 96.59h0.33v0.33h-0.33zM484.61 96.59h0.66v0.33h-0.66zM490.55 96.59h0.66v0.33h-0.66zM493.85 96.59h0.66v0.33h-0.66zM496.49 96.59h1.98v0.33h-1.98zM501.77 96.59h0.66v0.33h-0.66zM504.74 96.59h0.66v0.33h-0.66zM506.39 96.59h0.33v0.33h-0.33zM511.34 96.59h1.65v0.33h-1.65zM515.63 96.59h0.33v0.33h-0.33zM517.28 96.59h1.32v0.33h-1.32zM519.59 96.59h1.32v0.33h-1.32zM522.89 96.59h2.31v0.33h-2.31zM525.86 96.59h0.99v0.33h-0.99zM484.28 96.92h0.66v0.33h-0.66zM490.55 96.92h0.99v0.33h-0.99zM493.52 96.92h1.32v0.33h-1.32zM496.49 96.92h1.98v0.33h-1.98zM501.77 96.92h0.66v0.33h-0.66zM504.74 96.92h0.66v0.33h-0.66zM506.39 96.92h0.33v0.33h-0.33zM511.34 96.92h1.65v0.33h-1.65zM515.63 96.92h0.33v0.33h-0.33zM517.28 96.92h1.32v0.33h-1.32zM519.59 96.92h1.32v0.33h-1.32zM523.22 96.92h1.98v0.33h-1.98zM525.86 96.92h0.99v0.33h-0.99zM487.58 97.25h0.33v0.33h-0.33zM490.22 97.25h0.99v0.33h-0.99zM493.52 97.25h1.32v0.33h-1.32zM497.81 97.25h0.66v0.33h-0.66zM501.77 97.25h0.66v0.33h-0.66zM505.07 97.25h0.33v0.33h-0.33zM506.39 97.25h0.66v0.33h-0.66zM511.34 97.25h1.65v0.33h-1.65zM517.61 97.25h3.3v0.33h-3.3zM523.55 97.25h1.32v0.33h-1.32zM525.86 97.25h0.99v0.33h-0.99zM487.58 97.58h0.33v0.33h-0.33zM490.22 97.58h0.99v0.33h-0.99zM493.52 97.58h1.32v0.33h-1.32zM495.83 97.58h0.33v0.33h-0.33zM501.44 97.58h0.99v0.33h-0.99zM505.07 97.58h0.66v0.33h-0.66zM506.72 97.58h0.33v0.33h-0.33zM508.37 97.58h0.99v0.33h-0.99zM511.34 97.58h1.65v0.33h-1.65zM517.61 97.58h3.63v0.33h-3.63zM524.21 97.58h0.66v0.33h-0.66zM526.19 97.58h0.66v0.33h-0.66zM487.25 97.91h0.66v0.33h-0.66zM490.55 97.91h0.33v0.33h-0.33zM494.18 97.91h0.66v0.33h-0.66zM495.83 97.91h0.33v0.33h-0.33zM501.44 97.91h0.99v0.33h-0.99zM504.74 97.91h0.99v0.33h-0.99zM506.72 97.91h0.33v0.33h-0.33zM508.37 97.91h1.32v0.33h-1.32zM511.34 97.91h1.65v0.33h-1.65zM517.94 97.91h3.63v0.33h-3.63zM524.54 97.91h0.33v0.33h-0.33zM526.19 97.91h0.66v0.33h-0.66zM486.26 98.24h1.65v0.33h-1.65zM488.57 98.24h0.33v0.33h-0.33zM494.18 98.24h0.66v0.33h-0.66zM501.77 98.24h0.33v0.33h-0.33zM504.74 98.24h1.32v0.33h-1.32zM506.39 98.24h0.66v0.33h-0.66zM508.37 98.24h1.65v0.33h-1.65zM511.34 98.24h1.65v0.33h-1.65zM518.27 98.24h3.63v0.33h-3.63zM526.19 98.24h0.66v0.33h-0.66zM485.93 98.57h1.98v0.33h-1.98zM494.18 98.57h0.66v0.33h-0.66zM497.48 98.57h0.33v0.33h-0.33zM504.74 98.57h2.31v0.33h-2.31zM508.37 98.57h1.65v0.33h-1.65zM510.68 98.57h2.31v0.33h-2.31zM514.64 98.57h0.33v0.33h-0.33zM516.29 98.57h0.99v0.33h-0.99zM518.93 98.57h3.3v0.33h-3.3zM524.54 98.57h0.66v0.33h-0.66zM485.93 98.9h1.65v0.33h-1.65zM493.85 98.9h0.99v0.33h-0.99zM497.15 98.9h1.32v0.33h-1.32zM506.06 98.9h1.32v0.33h-1.32zM508.37 98.9h1.65v0.33h-1.65zM510.68 98.9h2.31v0.33h-2.31zM514.64 98.9h0.33v0.33h-0.33zM515.96 98.9h1.32v0.33h-1.32zM519.59 98.9h2.97v0.33h-2.97zM524.21 98.9h1.32v0.33h-1.32zM485.93 99.23h1.65v0.33h-1.65zM490.22 99.23h0.99v0.33h-0.99zM493.85 99.23h1.32v0.33h-1.32zM497.15 99.23h1.65v0.33h-1.65zM506.06 99.23h1.32v0.33h-1.32zM508.7 99.23h1.32v0.33h-1.32zM510.68 99.23h2.31v0.33h-2.31zM515.96 99.23h0.99v0.33h-0.99zM519.92 99.23h3.3v0.33h-3.3zM524.21 99.23h1.65v0.33h-1.65zM490.22 99.56h1.32v0.33h-1.32zM493.85 99.56h2.31v0.33h-2.31zM497.15 99.56h1.65v0.33h-1.65zM506.39 99.56h0.99v0.33h-0.99zM509.03 99.56h0.99v0.33h-0.99zM511.01 99.56h1.98v0.33h-1.98zM513.32 99.56h0.33v0.33h-0.33zM515.63 99.56h0.99v0.33h-0.99zM520.25 99.56h1.65v0.33h-1.65zM522.56 99.56h0.99v0.33h-0.99zM523.88 99.56h1.98v0.33h-1.98zM490.22 99.89h1.32v0.33h-1.32zM493.85 99.89h2.31v0.33h-2.31zM496.82 99.89h1.98v0.33h-1.98zM506.39 99.89h1.32v0.33h-1.32zM509.03 99.89h0.99v0.33h-0.99zM511.34 99.89h1.32v0.33h-1.32zM513.32 99.89h0.66v0.33h-0.66zM515.63 99.89h0.66v0.33h-0.66zM520.58 99.89h0.99v0.33h-0.99zM522.89 99.89h0.33v0.33h-0.33zM523.88 99.89h1.98v0.33h-1.98zM490.22 100.22h1.65v0.33h-1.65zM494.18 100.22h1.32v0.33h-1.32zM496.82 100.22h1.98v0.33h-1.98zM506.39 100.22h1.32v0.33h-1.32zM509.03 100.22h0.99v0.33h-0.99zM511.34 100.22h1.32v0.33h-1.32zM512.99 100.22h0.99v0.33h-0.99zM515.3 100.22h0.99v0.33h-0.99zM520.58 100.22h0.99v0.33h-0.99zM524.21 100.22h0.99v0.33h-0.99zM526.85 100.22h0.33v0.33h-0.33zM490.55 100.55h1.32v0.33h-1.32zM494.51 100.55h0.99v0.33h-0.99zM496.82 100.55h1.98v0.33h-1.98zM504.08 100.55h0.33v0.33h-0.33zM506.39 100.55h1.32v0.33h-1.32zM508.7 100.55h1.32v0.33h-1.32zM511.34 100.55h1.32v0.33h-1.32zM512.99 100.55h0.99v0.33h-0.99zM514.97 100.55h1.32v0.33h-1.32zM520.58 100.55h0.99v0.33h-0.99zM526.52 100.55h0.99v0.33h-0.99zM487.91 100.88h0.66v0.33h-0.66zM490.88 100.88h1.32v0.33h-1.32zM494.84 100.88h0.33v0.33h-0.33zM496.82 100.88h1.98v0.33h-1.98zM504.08 100.88h0.66v0.33h-0.66zM506.39 100.88h1.32v0.33h-1.32zM508.7 100.88h1.32v0.33h-1.32zM511.34 100.88h1.32v0.33h-1.32zM512.99 100.88h0.99v0.33h-0.99zM514.97 100.88h1.32v0.33h-1.32zM519.92 100.88h1.32v0.33h-1.32zM523.88 100.88h0.66v0.33h-0.66zM526.52 100.88h0.99v0.33h-0.99zM487.91 101.21h0.66v0.33h-0.66zM491.21 101.21h0.99v0.33h-0.99zM494.84 101.21h0.33v0.33h-0.33zM496.82 101.21h1.98v0.33h-1.98zM503.75 101.21h1.32v0.33h-1.32zM507.05 101.21h0.33v0.33h-0.33zM508.7 101.21h1.65v0.33h-1.65zM511.34 101.21h2.64v0.33h-2.64zM514.97 101.21h1.32v0.33h-1.32zM519.59 101.21h1.32v0.33h-1.32zM523.88 101.21h0.66v0.33h-0.66zM526.52 101.21h1.32v0.33h-1.32zM487.91 101.54h0.66v0.33h-0.66zM490.88 101.54h1.65v0.33h-1.65zM494.84 101.54h0.66v0.33h-0.66zM496.82 101.54h1.98v0.33h-1.98zM501.44 101.54h0.33v0.33h-0.33zM503.75 101.54h1.32v0.33h-1.32zM508.7 101.54h1.65v0.33h-1.65zM511.34 101.54h2.31v0.33h-2.31zM514.64 101.54h1.65v0.33h-1.65zM519.59 101.54h0.99v0.33h-0.99zM523.55 101.54h0.99v0.33h-0.99zM526.19 101.54h1.98v0.33h-1.98zM487.91 101.87h0.66v0.33h-0.66zM490.22 101.87h2.31v0.33h-2.31zM494.84 101.87h0.66v0.33h-0.66zM496.82 101.87h1.32v0.33h-1.32zM502.76 101.87h1.98v0.33h-1.98zM507.71 101.87h0.66v0.33h-0.66zM509.03 101.87h1.32v0.33h-1.32zM511.34 101.87h2.31v0.33h-2.31zM514.64 101.87h1.65v0.33h-1.65zM517.28 101.87h1.32v0.33h-1.32zM519.59 101.87h0.99v0.33h-0.99zM523.55 101.87h0.99v0.33h-0.99zM526.19 101.87h1.98v0.33h-1.98zM489.89 102.2h2.31v0.33h-2.31zM494.84 102.2h0.33v0.33h-0.33zM496.82 102.2h1.32v0.33h-1.32zM503.09 102.2h0.33v0.33h-0.33zM503.75 102.2h0.99v0.33h-0.99zM507.38 102.2h0.99v0.33h-0.99zM509.36 102.2h0.99v0.33h-0.99zM511.34 102.2h2.31v0.33h-2.31zM514.64 102.2h1.32v0.33h-1.32zM517.28 102.2h1.65v0.33h-1.65zM519.59 102.2h0.66v0.33h-0.66zM523.55 102.2h0.99v0.33h-0.99zM525.86 102.2h2.31v0.33h-2.31zM489.89 102.53h1.98v0.33h-1.98zM496.82 102.53h1.32v0.33h-1.32zM499.13 102.53h1.32v0.33h-1.32zM503.75 102.53h0.99v0.33h-0.99zM507.38 102.53h0.99v0.33h-0.99zM511.34 102.53h2.31v0.33h-2.31zM514.64 102.53h0.66v0.33h-0.66zM516.95 102.53h1.98v0.33h-1.98zM519.92 102.53h0.33v0.33h-0.33zM523.88 102.53h0.66v0.33h-0.66zM525.53 102.53h2.64v0.33h-2.64zM490.22 102.86h1.32v0.33h-1.32zM496.82 102.86h1.32v0.33h-1.32zM499.13 102.86h1.65v0.33h-1.65zM504.08 102.86h0.99v0.33h-0.99zM507.05 102.86h1.32v0.33h-1.32zM511.34 102.86h2.64v0.33h-2.64zM514.64 102.86h0.33v0.33h-0.33zM516.95 102.86h1.98v0.33h-1.98zM525.53 102.86h2.64v0.33h-2.64zM496.82 103.19h4.29v0.33h-4.29zM504.08 103.19h0.99v0.33h-0.99zM506.06 103.19h2.31v0.33h-2.31zM511.34 103.19h2.64v0.33h-2.64zM514.31 103.19h0.33v0.33h-0.33zM516.95 103.19h2.31v0.33h-2.31zM525.53 103.19h2.31v0.33h-2.31zM495.17 103.52h0.33v0.33h-0.33zM497.48 103.52h3.96v0.33h-3.96zM504.08 103.52h0.99v0.33h-0.99zM506.06 103.52h1.65v0.33h-1.65zM511.34 103.52h3.3v0.33h-3.3zM517.28 103.52h1.98v0.33h-1.98zM524.54 103.52h0.66v0.33h-0.66zM525.53 103.52h1.65v0.33h-1.65zM493.52 103.85h0.66v0.33h-0.66zM494.84 103.85h0.99v0.33h-0.99zM497.81 103.85h4.29v0.33h-4.29zM504.41 103.85h0.33v0.33h-0.33zM506.06 103.85h1.32v0.33h-1.32zM508.37 103.85h0.66v0.33h-0.66zM511.34 103.85h1.32v0.33h-1.32zM513.98 103.85h0.66v0.33h-0.66zM517.61 103.85h1.65v0.33h-1.65zM524.21 103.85h0.99v0.33h-0.99zM525.53 103.85h1.65v0.33h-1.65zM491.21 104.18h0.66v0.33h-0.66zM493.52 104.18h0.66v0.33h-0.66zM494.84 104.18h0.99v0.33h-0.99zM497.81 104.18h1.98v0.33h-1.98zM500.45 104.18h1.65v0.33h-1.65zM506.72 104.18h0.66v0.33h-0.66zM508.37 104.18h0.99v0.33h-0.99zM511.34 104.18h1.32v0.33h-1.32zM513.98 104.18h0.66v0.33h-0.66zM517.61 104.18h1.65v0.33h-1.65zM524.21 104.18h0.99v0.33h-0.99zM525.53 104.18h1.32v0.33h-1.32zM491.21 104.51h0.66v0.33h-0.66zM493.19 104.51h2.64v0.33h-2.64zM496.49 104.51h0.33v0.33h-0.33zM498.14 104.51h1.32v0.33h-1.32zM500.78 104.51h1.32v0.33h-1.32zM508.37 104.51h0.99v0.33h-0.99zM511.34 104.51h1.32v0.33h-1.32zM513.65 104.51h1.32v0.33h-1.32zM517.28 104.51h1.98v0.33h-1.98zM524.21 104.51h0.99v0.33h-0.99zM525.86 104.51h0.99v0.33h-0.99zM493.19 104.84h2.31v0.33h-2.31zM496.16 104.84h0.99v0.33h-0.99zM497.81 104.84h1.32v0.33h-1.32zM501.11 104.84h0.99v0.33h-0.99zM508.37 104.84h0.99v0.33h-0.99zM511.34 104.84h1.32v0.33h-1.32zM513.65 104.84h2.31v0.33h-2.31zM517.28 104.84h1.98v0.33h-1.98zM524.21 104.84h0.99v0.33h-0.99zM525.53 104.84h1.32v0.33h-1.32zM493.85 105.17h1.32v0.33h-1.32zM495.83 105.17h1.32v0.33h-1.32zM497.81 105.17h1.32v0.33h-1.32zM505.07 105.17h0.66v0.33h-0.66zM508.37 105.17h0.99v0.33h-0.99zM511.34 105.17h1.32v0.33h-1.32zM513.32 105.17h3.3v0.33h-3.3zM517.28 105.17h2.31v0.33h-2.31zM520.25 105.17h0.66v0.33h-0.66zM524.21 105.17h0.66v0.33h-0.66zM525.86 105.17h0.66v0.33h-0.66zM494.18 105.5h0.66v0.33h-0.66zM495.83 105.5h0.99v0.33h-0.99zM498.14 105.5h1.32v0.33h-1.32zM505.07 105.5h0.66v0.33h-0.66zM508.37 105.5h1.98v0.33h-1.98zM511.34 105.5h2.64v0.33h-2.64zM514.31 105.5h2.64v0.33h-2.64zM517.28 105.5h3.96v0.33h-3.96zM526.19 105.5h0.33v0.33h-0.33zM495.83 105.83h0.99v0.33h-0.99zM498.47 105.83h0.99v0.33h-0.99zM504.74 105.83h0.66v0.33h-0.66zM508.37 105.83h2.31v0.33h-2.31zM511.34 105.83h2.64v0.33h-2.64zM514.31 105.83h2.64v0.33h-2.64zM517.28 105.83h4.29v0.33h-4.29zM528.17 105.83h0.33v0.33h-0.33zM495.5 106.16h0.99v0.33h-0.99zM498.8 106.16h0.99v0.33h-0.99zM504.74 106.16h0.33v0.33h-0.33zM508.04 106.16h2.64v0.33h-2.64zM511.34 106.16h2.64v0.33h-2.64zM514.31 106.16h7.26v0.33h-7.26zM527.84 106.16h0.66v0.33h-0.66zM495.5 106.49h0.99v0.33h-0.99zM499.13 106.49h0.66v0.33h-0.66zM508.04 106.49h2.64v0.33h-2.64zM511.34 106.49h10.56v0.33h-10.56zM526.52 106.49h2.31v0.33h-2.31zM495.5 106.82h0.99v0.33h-0.99zM507.38 106.82h0.66v0.33h-0.66zM508.37 106.82h13.86v0.33h-13.86zM526.52 106.82h1.98v0.33h-1.98zM495.5 107.15h1.32v0.33h-1.32zM499.79 107.15h0.33v0.33h-0.33zM507.38 107.15h0.66v0.33h-0.66zM509.36 107.15h6.93v0.33h-6.93zM517.94 107.15h0.99v0.33h-0.99zM519.92 107.15h2.64v0.33h-2.64zM526.19 107.15h2.31v0.33h-2.31zM495.83 107.48h0.99v0.33h-0.99zM499.79 107.48h0.33v0.33h-0.33zM507.38 107.48h0.33v0.33h-0.33zM510.68 107.48h1.98v0.33h-1.98zM513.32 107.48h0.99v0.33h-0.99zM514.64 107.48h0.66v0.33h-0.66zM518.27 107.48h0.66v0.33h-0.66zM520.25 107.48h0.33v0.33h-0.33zM521.24 107.48h1.32v0.33h-1.32zM523.88 107.48h0.33v0.33h-0.33zM524.87 107.48h0.66v0.33h-0.66zM526.19 107.48h1.98v0.33h-1.98zM496.16 107.81h0.66v0.33h-0.66zM510.68 107.81h1.98v0.33h-1.98zM513.32 107.81h0.66v0.33h-0.66zM518.27 107.81h0.66v0.33h-0.66zM521.57 107.81h0.99v0.33h-0.99zM523.55 107.81h0.66v0.33h-0.66zM524.87 107.81h0.66v0.33h-0.66zM526.52 107.81h1.65v0.33h-1.65zM496.16 108.14h0.66v0.33h-0.66zM503.42 108.14h0.33v0.33h-0.33zM506.06 108.14h0.33v0.33h-0.33zM511.01 108.14h1.65v0.33h-1.65zM513.32 108.14h0.66v0.33h-0.66zM521.57 108.14h0.99v0.33h-0.99zM523.55 108.14h0.66v0.33h-0.66zM524.87 108.14h0.99v0.33h-0.99zM527.51 108.14h0.66v0.33h-0.66zM497.81 108.47h0.66v0.33h-0.66zM503.09 108.47h0.66v0.33h-0.66zM506.06 108.47h0.66v0.33h-0.66zM509.36 108.47h0.66v0.33h-0.66zM511.34 108.47h1.32v0.33h-1.32zM513.32 108.47h0.33v0.33h-0.33zM521.57 108.47h0.99v0.33h-0.99zM524.87 108.47h0.99v0.33h-0.99zM527.18 108.47h0.99v0.33h-0.99zM497.48 108.8h0.99v0.33h-0.99zM502.43 108.8h1.65v0.33h-1.65zM505.73 108.8h0.99v0.33h-0.99zM509.36 108.8h0.99v0.33h-0.99zM511.34 108.8h2.31v0.33h-2.31zM517.94 108.8h0.66v0.33h-0.66zM525.2 108.8h0.66v0.33h-0.66zM527.18 108.8h0.66v0.33h-0.66zM497.48 109.13h0.99v0.33h-0.99zM502.1 109.13h1.65v0.33h-1.65zM505.73 109.13h0.99v0.33h-0.99zM509.03 109.13h1.32v0.33h-1.32zM511.34 109.13h2.31v0.33h-2.31zM517.94 109.13h0.66v0.33h-0.66zM525.2 109.13h0.66v0.33h-0.66zM527.18 109.13h0.66v0.33h-0.66zM497.15 109.46h1.32v0.33h-1.32zM502.1 109.46h0.99v0.33h-0.99zM505.73 109.46h1.32v0.33h-1.32zM508.7 109.46h1.32v0.33h-1.32zM511.34 109.46h2.31v0.33h-2.31zM517.94 109.46h0.66v0.33h-0.66zM525.2 109.46h0.99v0.33h-0.99zM527.18 109.46h0.66v0.33h-0.66zM497.15 109.79h1.32v0.33h-1.32zM499.79 109.79h0.66v0.33h-0.66zM501.77 109.79h1.32v0.33h-1.32zM506.06 109.79h1.32v0.33h-1.32zM508.37 109.79h0.99v0.33h-0.99zM511.34 109.79h2.31v0.33h-2.31zM517.94 109.79h0.66v0.33h-0.66zM519.92 109.79h0.33v0.33h-0.33zM524.87 109.79h1.32v0.33h-1.32zM527.18 109.79h0.33v0.33h-0.33zM497.15 110.12h1.32v0.33h-1.32zM499.46 110.12h0.99v0.33h-0.99zM502.1 110.12h0.99v0.33h-0.99zM506.06 110.12h1.32v0.33h-1.32zM508.04 110.12h1.32v0.33h-1.32zM510.68 110.12h2.97v0.33h-2.97zM517.94 110.12h0.66v0.33h-0.66zM522.89 110.12h0.66v0.33h-0.66zM524.87 110.12h1.32v0.33h-1.32zM527.18 110.12h0.33v0.33h-0.33zM499.46 110.45h0.99v0.33h-0.99zM502.1 110.45h0.99v0.33h-0.99zM506.06 110.45h1.32v0.33h-1.32zM508.37 110.45h0.99v0.33h-0.99zM510.68 110.45h1.98v0.33h-1.98zM513.32 110.45h0.33v0.33h-0.33zM522.89 110.45h0.99v0.33h-0.99zM524.21 110.45h1.65v0.33h-1.65zM499.46 110.78h0.99v0.33h-0.99zM502.1 110.78h0.99v0.33h-0.99zM506.39 110.78h0.66v0.33h-0.66zM508.7 110.78h0.33v0.33h-0.33zM510.68 110.78h1.98v0.33h-1.98zM513.32 110.78h0.66v0.33h-0.66zM515.3 110.78h0.33v0.33h-0.33zM522.89 110.78h2.31v0.33h-2.31zM499.46 111.11h0.66v0.33h-0.66zM502.43 111.11h0.66v0.33h-0.66zM511.01 111.11h1.32v0.33h-1.32zM513.32 111.11h0.66v0.33h-0.66zM514.64 111.11h1.32v0.33h-1.32zM522.89 111.11h1.98v0.33h-1.98zM527.18 111.11h0.33v0.33h-0.33zM511.01 111.44h1.32v0.33h-1.32zM513.32 111.44h0.66v0.33h-0.66zM514.64 111.44h1.32v0.33h-1.32zM520.25 111.44h0.99v0.33h-0.99zM522.89 111.44h0.66v0.33h-0.66zM526.85 111.44h0.66v0.33h-0.66zM511.01 111.77h1.32v0.33h-1.32zM512.99 111.77h0.99v0.33h-0.99zM514.31 111.77h1.32v0.33h-1.32zM520.25 111.77h0.99v0.33h-0.99zM527.18 111.77h0.33v0.33h-0.33zM498.8 112.1h0.33v0.33h-0.33zM502.76 112.1h0.33v0.33h-0.33zM511.01 112.1h1.32v0.33h-1.32zM512.99 112.1h0.99v0.33h-0.99zM514.31 112.1h0.99v0.33h-0.99zM527.18 112.1h0.33v0.33h-0.33zM498.47 112.43h0.66v0.33h-0.66zM502.43 112.43h0.66v0.33h-0.66zM511.01 112.43h1.32v0.33h-1.32zM512.99 112.43h0.99v0.33h-0.99zM514.31 112.43h0.66v0.33h-0.66zM498.8 112.76h0.33v0.33h-0.33zM502.43 112.76h0.99v0.33h-0.99zM511.01 112.76h1.32v0.33h-1.32zM502.43 113.09h0.99v0.33h-0.99zM511.34 113.09h0.99v0.33h-0.99zM515.63 113.09h0.66v0.33h-0.66zM525.53 113.09h0.66v0.33h-0.66zM527.18 113.09h0.33v0.33h-0.33zM502.1 113.42h0.99v0.33h-0.99zM511.34 113.42h0.99v0.33h-0.99zM515.63 113.42h0.66v0.33h-0.66zM525.53 113.42h0.66v0.33h-0.66zM527.18 113.42h0.66v0.33h-0.66zM502.43 113.75h0.66v0.33h-0.66zM508.7 113.75h0.33v0.33h-0.33zM511.34 113.75h0.99v0.33h-0.99zM515.96 113.75h0.33v0.33h-0.33zM527.18 113.75h0.66v0.33h-0.66zM529.16 113.75h0.66v0.33h-0.66zM508.7 114.08h0.66v0.33h-0.66zM511.34 114.08h0.99v0.33h-0.99zM528.83 114.08h0.99v0.33h-0.99zM505.07 114.41h0.33v0.33h-0.33zM509.03 114.41h0.99v0.33h-0.99zM511.34 114.41h0.99v0.33h-0.99zM517.28 114.41h0.66v0.33h-0.66zM518.93 114.41h0.33v0.33h-0.33zM528.83 114.41h0.99v0.33h-0.99zM505.07 114.74h0.33v0.33h-0.33zM509.36 114.74h0.66v0.33h-0.66zM511.34 114.74h1.32v0.33h-1.32zM517.28 114.74h0.99v0.33h-0.99zM522.89 114.74h0.33v0.33h-0.33zM529.16 114.74h0.66v0.33h-0.66zM505.07 115.07h0.33v0.33h-0.33zM509.36 115.07h0.66v0.33h-0.66zM511.34 115.07h1.65v0.33h-1.65zM517.28 115.07h0.99v0.33h-0.99zM522.89 115.07h0.66v0.33h-0.66zM529.49 115.07h0.33v0.33h-0.33zM503.09 115.4h0.66v0.33h-0.66zM504.74 115.4h0.33v0.33h-0.33zM509.36 115.4h0.66v0.33h-0.66zM511.34 115.4h1.98v0.33h-1.98zM517.28 115.4h0.99v0.33h-0.99zM522.89 115.4h0.99v0.33h-0.99zM524.21 115.4h1.32v0.33h-1.32zM502.76 115.73h0.99v0.33h-0.99zM504.74 115.73h0.33v0.33h-0.33zM509.36 115.73h0.33v0.33h-0.33zM511.34 115.73h1.98v0.33h-1.98zM517.28 115.73h0.66v0.33h-0.66zM523.22 115.73h2.31v0.33h-2.31zM528.17 115.73h0.33v0.33h-0.33zM502.76 116.06h0.99v0.33h-0.99zM511.34 116.06h1.98v0.33h-1.98zM517.28 116.06h0.66v0.33h-0.66zM523.22 116.06h2.31v0.33h-2.31zM527.84 116.06h0.99v0.33h-0.99zM502.43 116.39h0.99v0.33h-0.99zM511.34 116.39h1.98v0.33h-1.98zM523.22 116.39h2.31v0.33h-2.31zM527.84 116.39h0.66v0.33h-0.66zM502.43 116.72h0.66v0.33h-0.66zM511.34 116.72h1.98v0.33h-1.98zM515.96 116.72h0.33v0.33h-0.33zM523.22 116.72h2.31v0.33h-2.31zM501.77 117.05h1.32v0.33h-1.32zM511.34 117.05h1.98v0.33h-1.98zM515.63 117.05h0.66v0.33h-0.66zM523.88 117.05h1.65v0.33h-1.65zM526.52 117.05h0.66v0.33h-0.66zM501.77 117.38h1.32v0.33h-1.32zM511.01 117.38h1.32v0.33h-1.32zM512.66 117.38h0.99v0.33h-0.99zM515.63 117.38h0.66v0.33h-0.66zM522.89 117.38h0.33v0.33h-0.33zM523.88 117.38h1.65v0.33h-1.65zM526.52 117.38h0.66v0.33h-0.66zM501.77 117.71h1.32v0.33h-1.32zM511.01 117.71h0.99v0.33h-0.99zM512.99 117.71h0.99v0.33h-0.99zM515.3 117.71h0.99v0.33h-0.99zM523.22 117.71h2.31v0.33h-2.31zM526.52 117.71h0.99v0.33h-0.99zM501.77 118.04h1.65v0.33h-1.65zM509.69 118.04h0.66v0.33h-0.66zM511.01 118.04h0.66v0.33h-0.66zM512.99 118.04h0.99v0.33h-0.99zM519.59 118.04h0.33v0.33h-0.33zM523.22 118.04h1.98v0.33h-1.98zM526.52 118.04h0.99v0.33h-0.99zM502.1 118.37h1.32v0.33h-1.32zM509.69 118.37h0.99v0.33h-0.99zM511.01 118.37h0.33v0.33h-0.33zM512.99 118.37h1.32v0.33h-1.32zM518.27 118.37h0.33v0.33h-0.33zM519.26 118.37h0.66v0.33h-0.66zM523.22 118.37h1.98v0.33h-1.98zM526.85 118.37h0.33v0.33h-0.33zM502.43 118.7h0.66v0.33h-0.66zM507.71 118.7h0.66v0.33h-0.66zM509.36 118.7h1.32v0.33h-1.32zM511.01 118.7h0.33v0.33h-0.33zM512.99 118.7h1.32v0.33h-1.32zM519.26 118.7h0.66v0.33h-0.66zM523.55 118.7h1.32v0.33h-1.32zM507.71 119.03h0.66v0.33h-0.66zM509.36 119.03h0.99v0.33h-0.99zM511.01 119.03h0.66v0.33h-0.66zM512.99 119.03h1.32v0.33h-1.32zM519.26 119.03h0.33v0.33h-0.33zM523.55 119.03h0.99v0.33h-0.99zM509.36 119.36h0.66v0.33h-0.66zM511.01 119.36h0.66v0.33h-0.66zM512.99 119.36h1.32v0.33h-1.32zM523.55 119.36h0.99v0.33h-0.99zM511.01 119.69h0.66v0.33h-0.66zM512.99 119.69h0.99v0.33h-0.99zM523.55 119.69h0.99v0.33h-0.99zM503.75 120.02h0.33v0.33h-0.33zM511.01 120.02h0.66v0.33h-0.66zM513.32 120.02h0.33v0.33h-0.33zM523.55 120.02h0.99v0.33h-0.99zM503.42 120.35h0.99v0.33h-0.99zM506.72 120.35h0.33v0.33h-0.33zM511.01 120.35h1.32v0.33h-1.32zM523.55 120.35h0.66v0.33h-0.66zM500.45 120.68h0.66v0.33h-0.66zM503.42 120.68h1.98v0.33h-1.98zM506.72 120.68h0.33v0.33h-0.33zM511.01 120.68h1.32v0.33h-1.32zM523.55 120.68h0.33v0.33h-0.33zM526.52 120.68h0.66v0.33h-0.66zM500.45 121.01h0.66v0.33h-0.66zM503.75 121.01h2.31v0.33h-2.31zM506.72 121.01h0.66v0.33h-0.66zM511.01 121.01h1.98v0.33h-1.98zM521.9 121.01h0.33v0.33h-0.33zM523.55 121.01h0.33v0.33h-0.33zM526.85 121.01h0.66v0.33h-0.66zM504.08 121.34h1.98v0.33h-1.98zM506.72 121.34h0.99v0.33h-0.99zM510.02 121.34h0.33v0.33h-0.33zM511.01 121.34h1.98v0.33h-1.98zM518.27 121.34h1.32v0.33h-1.32zM521.57 121.34h0.99v0.33h-0.99zM523.22 121.34h0.33v0.33h-0.33zM526.85 121.34h0.66v0.33h-0.66zM527.84 121.34h0.66v0.33h-0.66zM504.41 121.67h3.3v0.33h-3.3zM509.69 121.67h2.64v0.33h-2.64zM512.66 121.67h0.33v0.33h-0.33zM516.29 121.67h0.33v0.33h-0.33zM518.27 121.67h1.65v0.33h-1.65zM521.24 121.67h2.31v0.33h-2.31zM527.18 121.67h1.32v0.33h-1.32zM504.41 122h2.97v0.33h-2.97zM509.69 122h0.99v0.33h-0.99zM511.01 122h1.32v0.33h-1.32zM515.96 122h0.99v0.33h-0.99zM518.27 122h1.98v0.33h-1.98zM520.91 122h1.32v0.33h-1.32zM522.56 122h0.99v0.33h-0.99zM527.51 122h0.99v0.33h-0.99zM503.09 122.33h0.33v0.33h-0.33zM504.74 122.33h2.31v0.33h-2.31zM509.36 122.33h1.32v0.33h-1.32zM511.01 122.33h1.32v0.33h-1.32zM515.96 122.33h0.99v0.33h-0.99zM517.94 122.33h2.31v0.33h-2.31zM521.24 122.33h0.66v0.33h-0.66zM522.56 122.33h0.99v0.33h-0.99zM503.09 122.66h0.66v0.33h-0.66zM509.03 122.66h1.65v0.33h-1.65zM511.01 122.66h1.32v0.33h-1.32zM515.96 122.66h1.32v0.33h-1.32zM517.94 122.66h2.31v0.33h-2.31zM522.89 122.66h0.66v0.33h-0.66zM503.09 122.99h0.66v0.33h-0.66zM509.03 122.99h1.65v0.33h-1.65zM511.01 122.99h1.32v0.33h-1.32zM515.96 122.99h1.32v0.33h-1.32zM517.61 122.99h2.31v0.33h-2.31zM522.89 122.99h0.66v0.33h-0.66zM509.03 123.32h1.65v0.33h-1.65zM511.01 123.32h1.65v0.33h-1.65zM513.65 123.32h0.33v0.33h-0.33zM515.96 123.32h0.99v0.33h-0.99zM517.61 123.32h1.32v0.33h-1.32zM522.89 123.32h0.66v0.33h-0.66zM526.85 123.32h0.66v0.33h-0.66zM499.46 123.65h0.33v0.33h-0.33zM509.03 123.65h1.65v0.33h-1.65zM511.01 123.65h1.98v0.33h-1.98zM513.32 123.65h0.66v0.33h-0.66zM515.63 123.65h0.99v0.33h-0.99zM517.94 123.65h0.66v0.33h-0.66zM523.22 123.65h0.33v0.33h-0.33zM526.52 123.65h0.99v0.33h-0.99zM498.8 123.98h1.32v0.33h-1.32zM509.03 123.98h1.65v0.33h-1.65zM511.01 123.98h2.64v0.33h-2.64zM515.63 123.98h0.66v0.33h-0.66zM517.94 123.98h0.66v0.33h-0.66zM523.22 123.98h0.66v0.33h-0.66zM526.85 123.98h0.66v0.33h-0.66zM498.8 124.31h0.99v0.33h-0.99zM502.1 124.31h0.33v0.33h-0.33zM504.08 124.31h0.33v0.33h-0.33zM509.03 124.31h1.65v0.33h-1.65zM511.01 124.31h2.31v0.33h-2.31zM515.3 124.31h0.99v0.33h-0.99zM518.27 124.31h0.33v0.33h-0.33zM523.22 124.31h0.66v0.33h-0.66zM526.85 124.31h0.66v0.33h-0.66zM498.8 124.64h0.66v0.33h-0.66zM502.1 124.64h0.33v0.33h-0.33zM503.75 124.64h0.66v0.33h-0.66zM511.01 124.64h2.31v0.33h-2.31zM515.63 124.64h0.33v0.33h-0.33zM518.27 124.64h0.33v0.33h-0.33zM521.9 124.64h0.33v0.33h-0.33zM523.22 124.64h0.99v0.33h-0.99zM527.18 124.64h0.33v0.33h-0.33zM498.8 124.97h0.66v0.33h-0.66zM503.75 124.97h0.66v0.33h-0.66zM505.73 124.97h0.66v0.33h-0.66zM512 124.97h1.32v0.33h-1.32zM518.27 124.97h0.33v0.33h-0.33zM521.24 124.97h1.32v0.33h-1.32zM522.89 124.97h1.32v0.33h-1.32zM498.8 125.3h0.66v0.33h-0.66zM503.42 125.3h0.99v0.33h-0.99zM505.73 125.3h0.99v0.33h-0.99zM512.33 125.3h0.99v0.33h-0.99zM518.93 125.3h0.66v0.33h-0.66zM520.91 125.3h3.3v0.33h-3.3zM498.47 125.63h0.99v0.33h-0.99zM501.77 125.63h0.33v0.33h-0.33zM503.42 125.63h0.99v0.33h-0.99zM505.4 125.63h1.65v0.33h-1.65zM512.33 125.63h1.32v0.33h-1.32zM518.93 125.63h0.99v0.33h-0.99zM520.91 125.63h2.97v0.33h-2.97zM496.16 125.96h0.66v0.33h-0.66zM498.47 125.96h0.99v0.33h-0.99zM501.44 125.96h0.66v0.33h-0.66zM503.42 125.96h0.99v0.33h-0.99zM505.4 125.96h1.65v0.33h-1.65zM512.66 125.96h0.99v0.33h-0.99zM518.93 125.96h0.99v0.33h-0.99zM520.91 125.96h1.32v0.33h-1.32zM496.16 126.29h0.66v0.33h-0.66zM501.44 126.29h0.66v0.33h-0.66zM503.42 126.29h1.32v0.33h-1.32zM505.4 126.29h1.32v0.33h-1.32zM512.99 126.29h0.99v0.33h-0.99zM516.29 126.29h0.66v0.33h-0.66zM519.26 126.29h0.99v0.33h-0.99zM520.91 126.29h1.32v0.33h-1.32zM501.11 126.62h0.99v0.33h-0.99zM503.75 126.62h0.99v0.33h-0.99zM505.4 126.62h0.99v0.33h-0.99zM508.04 126.62h0.99v0.33h-0.99zM513.32 126.62h0.66v0.33h-0.66zM519.26 126.62h0.99v0.33h-0.99zM521.24 126.62h0.66v0.33h-0.66zM526.85 126.62h0.33v0.33h-0.33zM501.11 126.95h1.32v0.33h-1.32zM504.41 126.95h1.65v0.33h-1.65zM507.38 126.95h1.65v0.33h-1.65zM513.32 126.95h0.66v0.33h-0.66zM519.26 126.95h0.66v0.33h-0.66zM526.85 126.95h0.66v0.33h-0.66zM497.48 127.28h0.66v0.33h-0.66zM501.77 127.28h0.66v0.33h-0.66zM504.41 127.28h1.65v0.33h-1.65zM507.38 127.28h1.98v0.33h-1.98zM513.32 127.28h0.66v0.33h-0.66zM518.27 127.28h1.65v0.33h-1.65zM526.85 127.28h0.66v0.33h-0.66zM497.15 127.61h0.99v0.33h-0.99zM500.78 127.61h0.33v0.33h-0.33zM502.1 127.61h0.33v0.33h-0.33zM504.41 127.61h1.65v0.33h-1.65zM507.38 127.61h1.98v0.33h-1.98zM513.65 127.61h0.66v0.33h-0.66zM517.94 127.61h1.65v0.33h-1.65zM526.85 127.61h0.66v0.33h-0.66zM497.15 127.94h1.32v0.33h-1.32zM500.78 127.94h0.66v0.33h-0.66zM504.41 127.94h1.65v0.33h-1.65zM507.38 127.94h2.31v0.33h-2.31zM513.65 127.94h0.33v0.33h-0.33zM517.94 127.94h1.65v0.33h-1.65zM528.83 127.94h0.99v0.33h-0.99zM497.15 128.27h1.65v0.33h-1.65zM500.45 128.27h1.32v0.33h-1.32zM504.41 128.27h1.65v0.33h-1.65zM507.38 128.27h2.31v0.33h-2.31zM518.27 128.27h1.65v0.33h-1.65zM528.5 128.27h1.32v0.33h-1.32zM497.15 128.6h1.65v0.33h-1.65zM500.45 128.6h1.65v0.33h-1.65zM503.75 128.6h0.33v0.33h-0.33zM504.74 128.6h0.99v0.33h-0.99zM507.38 128.6h1.98v0.33h-1.98zM518.27 128.6h1.98v0.33h-1.98zM528.5 128.6h1.32v0.33h-1.32zM497.15 128.93h1.98v0.33h-1.98zM500.45 128.93h1.65v0.33h-1.65zM503.42 128.93h0.66v0.33h-0.66zM505.07 128.93h0.66v0.33h-0.66zM507.38 128.93h1.65v0.33h-1.65zM517.94 128.93h4.29v0.33h-4.29zM528.5 128.93h1.32v0.33h-1.32zM497.81 129.26h1.32v0.33h-1.32zM500.78 129.26h1.32v0.33h-1.32zM503.42 129.26h0.99v0.33h-0.99zM505.07 129.26h0.33v0.33h-0.33zM507.38 129.26h1.32v0.33h-1.32zM517.94 129.26h4.29v0.33h-4.29zM524.21 129.26h0.33v0.33h-0.33zM498.14 129.59h0.99v0.33h-0.99zM501.11 129.59h0.99v0.33h-0.99zM503.75 129.59h1.65v0.33h-1.65zM507.38 129.59h0.99v0.33h-0.99zM517.94 129.59h3.96v0.33h-3.96zM524.21 129.59h0.33v0.33h-0.33zM498.14 129.92h0.66v0.33h-0.66zM501.11 129.92h0.99v0.33h-0.99zM503.75 129.92h1.65v0.33h-1.65zM508.04 129.92h0.33v0.33h-0.33zM510.68 129.92h0.99v0.33h-0.99zM515.3 129.92h0.33v0.33h-0.33zM517.94 129.92h2.64v0.33h-2.64zM520.91 129.92h0.66v0.33h-0.66zM498.14 130.25h0.66v0.33h-0.66zM501.11 130.25h1.32v0.33h-1.32zM504.08 130.25h0.99v0.33h-0.99zM509.69 130.25h2.97v0.33h-2.97zM514.97 130.25h0.99v0.33h-0.99zM518.27 130.25h0.66v0.33h-0.66zM519.26 130.25h0.99v0.33h-0.99zM498.14 130.58h0.33v0.33h-0.33zM500.78 130.58h1.98v0.33h-1.98zM504.08 130.58h0.99v0.33h-0.99zM509.03 130.58h3.63v0.33h-3.63zM514.97 130.58h1.65v0.33h-1.65zM519.26 130.58h0.99v0.33h-0.99zM527.84 130.58h0.33v0.33h-0.33zM497.81 130.91h0.66v0.33h-0.66zM500.78 130.91h1.98v0.33h-1.98zM504.08 130.91h0.66v0.33h-0.66zM508.7 130.91h3.96v0.33h-3.96zM514.97 130.91h1.65v0.33h-1.65zM519.59 130.91h0.33v0.33h-0.33zM522.89 130.91h0.33v0.33h-0.33zM527.84 130.91h0.66v0.33h-0.66zM497.81 131.24h0.66v0.33h-0.66zM500.78 131.24h1.98v0.33h-1.98zM504.08 131.24h0.66v0.33h-0.66zM505.73 131.24h0.33v0.33h-0.33zM509.03 131.24h3.63v0.33h-3.63zM513.32 131.24h0.66v0.33h-0.66zM514.97 131.24h1.32v0.33h-1.32zM519.59 131.24h0.33v0.33h-0.33zM521.57 131.24h1.65v0.33h-1.65zM527.84 131.24h0.66v0.33h-0.66zM498.14 131.57h0.33v0.33h-0.33zM500.45 131.57h0.99v0.33h-0.99zM501.77 131.57h0.33v0.33h-0.33zM504.08 131.57h0.66v0.33h-0.66zM505.4 131.57h0.66v0.33h-0.66zM510.35 131.57h0.99v0.33h-0.99zM512.99 131.57h0.99v0.33h-0.99zM514.64 131.57h1.65v0.33h-1.65zM519.59 131.57h0.33v0.33h-0.33zM521.24 131.57h1.98v0.33h-1.98zM527.84 131.57h0.66v0.33h-0.66zM498.14 131.9h0.33v0.33h-0.33zM499.79 131.9h1.32v0.33h-1.32zM503.42 131.9h1.32v0.33h-1.32zM505.4 131.9h0.66v0.33h-0.66zM512.99 131.9h1.32v0.33h-1.32zM514.64 131.9h1.32v0.33h-1.32zM521.24 131.9h1.98v0.33h-1.98zM526.52 131.9h0.33v0.33h-0.33zM527.84 131.9h0.33v0.33h-0.33zM498.14 132.23h0.66v0.33h-0.66zM499.79 132.23h0.99v0.33h-0.99zM503.42 132.23h1.32v0.33h-1.32zM505.4 132.23h0.66v0.33h-0.66zM512.99 132.23h1.32v0.33h-1.32zM514.64 132.23h1.32v0.33h-1.32zM521.24 132.23h0.66v0.33h-0.66zM526.52 132.23h0.66v0.33h-0.66zM494.84 132.56h0.66v0.33h-0.66zM498.47 132.56h0.33v0.33h-0.33zM499.46 132.56h1.65v0.33h-1.65zM503.75 132.56h2.31v0.33h-2.31zM512.99 132.56h0.99v0.33h-0.99zM514.97 132.56h0.99v0.33h-0.99zM521.24 132.56h0.33v0.33h-0.33zM526.52 132.56h0.66v0.33h-0.66zM494.84 132.89h0.99v0.33h-0.99zM499.46 132.89h1.65v0.33h-1.65zM504.74 132.89h1.32v0.33h-1.32zM526.85 132.89h0.33v0.33h-0.33zM494.84 133.22h0.99v0.33h-0.99zM499.46 133.22h1.65v0.33h-1.65zM504.74 133.22h1.32v0.33h-1.32zM510.68 133.22h0.99v0.33h-0.99zM515.96 133.22h0.66v0.33h-0.66zM494.84 133.55h0.99v0.33h-0.99zM499.46 133.55h0.33v0.33h-0.33zM502.43 133.55h0.99v0.33h-0.99zM504.74 133.55h0.99v0.33h-0.99zM510.68 133.55h0.99v0.33h-0.99zM515.96 133.55h0.99v0.33h-0.99zM520.58 133.55h0.66v0.33h-0.66zM524.54 133.55h1.32v0.33h-1.32zM526.19 133.55h0.99v0.33h-0.99zM494.84 133.88h0.66v0.33h-0.66zM497.48 133.88h0.99v0.33h-0.99zM502.43 133.88h1.32v0.33h-1.32zM504.74 133.88h0.99v0.33h-0.99zM510.35 133.88h1.32v0.33h-1.32zM512.66 133.88h0.66v0.33h-0.66zM515.96 133.88h0.99v0.33h-0.99zM520.25 133.88h1.32v0.33h-1.32zM524.54 133.88h2.97v0.33h-2.97zM497.15 134.21h1.65v0.33h-1.65zM502.76 134.21h0.99v0.33h-0.99zM510.68 134.21h0.66v0.33h-0.66zM512.66 134.21h1.32v0.33h-1.32zM515.63 134.21h1.32v0.33h-1.32zM518.27 134.21h0.33v0.33h-0.33zM520.25 134.21h1.65v0.33h-1.65zM524.87 134.21h2.64v0.33h-2.64zM497.15 134.54h1.65v0.33h-1.65zM502.76 134.54h0.99v0.33h-0.99zM508.37 134.54h0.66v0.33h-0.66zM512.66 134.54h1.65v0.33h-1.65zM515.63 134.54h1.32v0.33h-1.32zM517.94 134.54h0.66v0.33h-0.66zM520.25 134.54h0.33v0.33h-0.33zM521.24 134.54h0.99v0.33h-0.99zM524.87 134.54h2.64v0.33h-2.64zM497.15 134.87h0.99v0.33h-0.99zM508.04 134.87h1.32v0.33h-1.32zM512.66 134.87h1.65v0.33h-1.65zM515.96 134.87h0.66v0.33h-0.66zM517.94 134.87h0.99v0.33h-0.99zM521.24 134.87h0.99v0.33h-0.99zM525.2 134.87h2.31v0.33h-2.31zM497.15 135.2h0.99v0.33h-0.99zM501.11 135.2h0.66v0.33h-0.66zM502.43 135.2h0.33v0.33h-0.33zM507.71 135.2h1.65v0.33h-1.65zM512.66 135.2h1.32v0.33h-1.32zM515.96 135.2h0.66v0.33h-0.66zM517.94 135.2h0.99v0.33h-0.99zM520.91 135.2h1.32v0.33h-1.32zM525.53 135.2h1.98v0.33h-1.98zM497.48 135.53h0.33v0.33h-0.33zM501.11 135.53h1.98v0.33h-1.98zM507.71 135.53h1.32v0.33h-1.32zM512.66 135.53h0.99v0.33h-0.99zM515.96 135.53h0.66v0.33h-0.66zM518.6 135.53h0.33v0.33h-0.33zM520.58 135.53h1.98v0.33h-1.98zM525.53 135.53h1.65v0.33h-1.65zM491.87 135.86h0.66v0.33h-0.66zM501.11 135.86h1.98v0.33h-1.98zM507.71 135.86h1.32v0.33h-1.32zM512.66 135.86h0.66v0.33h-0.66zM520.58 135.86h1.98v0.33h-1.98zM525.53 135.86h1.65v0.33h-1.65zM491.87 136.19h0.99v0.33h-0.99zM494.18 136.19h0.66v0.33h-0.66zM501.11 136.19h2.31v0.33h-2.31zM505.73 136.19h0.33v0.33h-0.33zM512.66 136.19h0.66v0.33h-0.66zM520.58 136.19h1.98v0.33h-1.98zM525.53 136.19h1.98v0.33h-1.98zM491.87 136.52h0.99v0.33h-0.99zM494.18 136.52h0.66v0.33h-0.66zM496.16 136.52h0.66v0.33h-0.66zM501.44 136.52h1.98v0.33h-1.98zM512.99 136.52h0.33v0.33h-0.33zM520.91 136.52h0.99v0.33h-0.99zM525.53 136.52h1.98v0.33h-1.98zM491.87 136.85h0.99v0.33h-0.99zM495.17 136.85h0.66v0.33h-0.66zM497.48 136.85h0.66v0.33h-0.66zM501.44 136.85h2.31v0.33h-2.31zM526.19 136.85h1.32v0.33h-1.32zM491.87 137.18h0.66v0.33h-0.66zM495.17 137.18h0.33v0.33h-0.33zM497.48 137.18h0.66v0.33h-0.66zM501.44 137.18h2.31v0.33h-2.31zM504.74 137.18h0.33v0.33h-0.33zM526.52 137.18h0.66v0.33h-0.66zM495.17 137.51h0.33v0.33h-0.33zM497.48 137.51h0.66v0.33h-0.66zM501.11 137.51h2.31v0.33h-2.31zM504.74 137.51h0.66v0.33h-0.66zM513.32 137.51h0.66v0.33h-0.66zM495.17 137.84h0.33v0.33h-0.33zM501.11 137.84h0.33v0.33h-0.33zM504.74 137.84h0.66v0.33h-0.66zM512.99 137.84h0.99v0.33h-0.99zM497.15 138.17h0.33v0.33h-0.33zM504.41 138.17h0.99v0.33h-0.99zM512.99 138.17h0.99v0.33h-0.99zM499.46 138.5h0.99v0.33h-0.99zM501.11 138.5h0.66v0.33h-0.66zM503.75 138.5h1.65v0.33h-1.65zM507.05 138.5h0.33v0.33h-0.33zM512.99 138.5h0.99v0.33h-0.99zM499.79 138.83h0.66v0.33h-0.66zM501.44 138.83h0.33v0.33h-0.33zM503.09 138.83h2.31v0.33h-2.31zM506.72 138.83h0.66v0.33h-0.66zM512.99 138.83h0.99v0.33h-0.99zM519.26 138.83h0.66v0.33h-0.66zM496.16 139.16h0.66v0.33h-0.66zM500.12 139.16h0.33v0.33h-0.33zM501.44 139.16h0.33v0.33h-0.33zM502.76 139.16h2.97v0.33h-2.97zM506.39 139.16h0.99v0.33h-0.99zM511.67 139.16h0.33v0.33h-0.33zM514.97 139.16h0.66v0.33h-0.66zM518.93 139.16h1.32v0.33h-1.32zM488.24 139.49h0.33v0.33h-0.33zM490.88 139.49h0.66v0.33h-0.66zM496.49 139.49h0.33v0.33h-0.33zM502.43 139.49h4.62v0.33h-4.62zM511.67 139.49h0.33v0.33h-0.33zM514.97 139.49h0.66v0.33h-0.66zM518.27 139.49h1.98v0.33h-1.98zM525.86 139.49h0.33v0.33h-0.33zM488.24 139.82h0.66v0.33h-0.66zM490.55 139.82h1.32v0.33h-1.32zM502.43 139.82h4.62v0.33h-4.62zM512.99 139.82h0.99v0.33h-0.99zM514.97 139.82h0.99v0.33h-0.99zM517.94 139.82h2.31v0.33h-2.31zM523.55 139.82h0.66v0.33h-0.66zM525.86 139.82h0.33v0.33h-0.33zM527.51 139.82h0.66v0.33h-0.66zM488.24 140.15h0.66v0.33h-0.66zM490.55 140.15h1.32v0.33h-1.32zM502.43 140.15h1.32v0.33h-1.32zM504.08 140.15h2.97v0.33h-2.97zM512.99 140.15h0.99v0.33h-0.99zM514.97 140.15h0.99v0.33h-0.99zM517.61 140.15h2.31v0.33h-2.31zM523.55 140.15h0.99v0.33h-0.99zM525.86 140.15h0.66v0.33h-0.66zM527.51 140.15h0.66v0.33h-0.66zM488.57 140.48h0.33v0.33h-0.33zM490.55 140.48h1.32v0.33h-1.32zM494.84 140.48h0.66v0.33h-0.66zM498.8 140.48h0.99v0.33h-0.99zM502.43 140.48h0.99v0.33h-0.99zM504.08 140.48h1.65v0.33h-1.65zM506.39 140.48h0.66v0.33h-0.66zM513.65 140.48h0.33v0.33h-0.33zM514.97 140.48h0.99v0.33h-0.99zM517.61 140.48h0.33v0.33h-0.33zM523.22 140.48h0.99v0.33h-0.99zM527.18 140.48h0.99v0.33h-0.99zM490.55 140.81h0.99v0.33h-0.99zM494.51 140.81h1.32v0.33h-1.32zM498.8 140.81h0.99v0.33h-0.99zM502.76 140.81h0.66v0.33h-0.66zM504.41 140.81h0.99v0.33h-0.99zM510.35 140.81h0.66v0.33h-0.66zM514.97 140.81h0.99v0.33h-0.99zM523.22 140.81h0.66v0.33h-0.66zM526.19 140.81h1.98v0.33h-1.98zM488.9 141.14h0.66v0.33h-0.66zM490.55 141.14h0.99v0.33h-0.99zM494.51 141.14h1.32v0.33h-1.32zM498.8 141.14h0.99v0.33h-0.99zM502.76 141.14h0.66v0.33h-0.66zM504.41 141.14h1.32v0.33h-1.32zM510.02 141.14h0.99v0.33h-0.99zM515.3 141.14h0.66v0.33h-0.66zM523.22 141.14h0.33v0.33h-0.33zM525.86 141.14h1.98v0.33h-1.98zM488.24 141.47h2.97v0.33h-2.97zM494.84 141.47h0.99v0.33h-0.99zM498.8 141.47h0.99v0.33h-0.99zM504.41 141.47h1.32v0.33h-1.32zM510.35 141.47h0.99v0.33h-0.99zM515.3 141.47h0.33v0.33h-0.33zM520.25 141.47h0.66v0.33h-0.66zM523.22 141.47h0.33v0.33h-0.33zM525.86 141.47h1.65v0.33h-1.65zM488.57 141.8h1.98v0.33h-1.98zM493.52 141.8h0.33v0.33h-0.33zM494.84 141.8h0.99v0.33h-0.99zM498.8 141.8h0.99v0.33h-0.99zM504.08 141.8h1.65v0.33h-1.65zM510.35 141.8h0.99v0.33h-0.99zM518.6 141.8h0.33v0.33h-0.33zM520.25 141.8h0.66v0.33h-0.66zM523.22 141.8h0.33v0.33h-0.33zM525.86 141.8h1.65v0.33h-1.65zM488.57 142.13h1.98v0.33h-1.98zM493.19 142.13h0.99v0.33h-0.99zM504.41 142.13h1.32v0.33h-1.32zM510.02 142.13h1.32v0.33h-1.32zM518.6 142.13h0.33v0.33h-0.33zM526.19 142.13h1.32v0.33h-1.32zM488.57 142.46h1.98v0.33h-1.98zM493.19 142.46h0.99v0.33h-0.99zM504.74 142.46h0.99v0.33h-0.99zM509.69 142.46h1.65v0.33h-1.65zM526.19 142.46h0.99v0.33h-0.99zM488.57 142.79h1.98v0.33h-1.98zM493.19 142.79h0.99v0.33h-0.99zM501.77 142.79h0.33v0.33h-0.33zM505.07 142.79h0.33v0.33h-0.33zM509.69 142.79h1.98v0.33h-1.98zM526.85 142.79h0.33v0.33h-0.33zM488.9 143.12h1.32v0.33h-1.32zM498.14 143.12h0.33v0.33h-0.33zM501.77 143.12h0.33v0.33h-0.33zM510.35 143.12h1.65v0.33h-1.65zM488.9 143.45h1.32v0.33h-1.32zM498.14 143.45h0.66v0.33h-0.66zM501.77 143.45h0.66v0.33h-0.66zM510.68 143.45h1.32v0.33h-1.32zM524.54 143.45h0.33v0.33h-0.33zM488.9 143.78h0.99v0.33h-0.99zM498.14 143.78h0.66v0.33h-0.66zM501.77 143.78h0.66v0.33h-0.66zM504.08 143.78h0.66v0.33h-0.66zM510.68 143.78h0.99v0.33h-0.99zM524.21 143.78h0.66v0.33h-0.66zM488.9 144.11h0.99v0.33h-0.99zM493.85 144.11h0.33v0.33h-0.33zM501.44 144.11h0.99v0.33h-0.99zM503.09 144.11h1.98v0.33h-1.98zM505.4 144.11h1.32v0.33h-1.32zM510.68 144.11h0.99v0.33h-0.99zM515.3 144.11h0.33v0.33h-0.33zM515.96 144.11h0.99v0.33h-0.99zM524.21 144.11h0.66v0.33h-0.66zM484.61 144.44h0.99v0.33h-0.99zM488.9 144.44h0.66v0.33h-0.66zM493.52 144.44h0.66v0.33h-0.66zM501.44 144.44h0.99v0.33h-0.99zM503.09 144.44h3.96v0.33h-3.96zM510.68 144.44h0.66v0.33h-0.66zM515.3 144.44h1.65v0.33h-1.65zM517.28 144.44h0.99v0.33h-0.99zM524.21 144.44h0.33v0.33h-0.33zM484.61 144.77h1.32v0.33h-1.32zM488.9 144.77h0.66v0.33h-0.66zM492.86 144.77h1.32v0.33h-1.32zM501.77 144.77h0.66v0.33h-0.66zM504.08 144.77h3.3v0.33h-3.3zM515.3 144.77h2.97v0.33h-2.97zM484.61 145.1h1.32v0.33h-1.32zM492.2 145.1h1.98v0.33h-1.98zM502.1 145.1h0.33v0.33h-0.33zM504.41 145.1h1.65v0.33h-1.65zM506.72 145.1h0.66v0.33h-0.66zM515.3 145.1h2.97v0.33h-2.97zM484.61 145.43h0.66v0.33h-0.66zM487.58 145.43h0.33v0.33h-0.33zM492.2 145.43h1.65v0.33h-1.65zM502.1 145.43h0.33v0.33h-0.33zM504.74 145.43h1.32v0.33h-1.32zM507.05 145.43h0.33v0.33h-0.33zM515.63 145.43h2.31v0.33h-2.31zM487.25 145.76h0.66v0.33h-0.66zM492.2 145.76h0.33v0.33h-0.33zM502.1 145.76h0.66v0.33h-0.66zM505.07 145.76h0.66v0.33h-0.66zM506.72 145.76h0.66v0.33h-0.66zM510.02 145.76h0.66v0.33h-0.66zM515.63 145.76h2.31v0.33h-2.31zM486.92 146.09h0.99v0.33h-0.99zM501.77 146.09h0.99v0.33h-0.99zM505.07 146.09h0.66v0.33h-0.66zM506.72 146.09h0.66v0.33h-0.66zM510.35 146.09h0.33v0.33h-0.33zM515.63 146.09h1.98v0.33h-1.98zM520.25 146.09h0.66v0.33h-0.66zM486.59 146.42h1.32v0.33h-1.32zM499.13 146.42h0.66v0.33h-0.66zM501.77 146.42h0.99v0.33h-0.99zM507.05 146.42h0.33v0.33h-0.33zM515.63 146.42h1.98v0.33h-1.98zM520.25 146.42h0.66v0.33h-0.66zM486.26 146.75h1.65v0.33h-1.65zM493.52 146.75h1.32v0.33h-1.32zM496.16 146.75h0.33v0.33h-0.33zM499.13 146.75h0.66v0.33h-0.66zM501.77 146.75h0.99v0.33h-0.99zM505.07 146.75h0.33v0.33h-0.33zM507.38 146.75h0.99v0.33h-0.99zM515.63 146.75h1.65v0.33h-1.65zM520.25 146.75h0.66v0.33h-0.66zM486.26 147.08h1.32v0.33h-1.32zM493.52 147.08h1.32v0.33h-1.32zM495.83 147.08h0.99v0.33h-0.99zM499.13 147.08h0.33v0.33h-0.33zM501.77 147.08h0.66v0.33h-0.66zM505.07 147.08h0.66v0.33h-0.66zM507.38 147.08h0.99v0.33h-0.99zM515.63 147.08h1.32v0.33h-1.32zM520.58 147.08h0.33v0.33h-0.33zM527.51 147.08h0.33v0.33h-0.33zM486.26 147.41h0.99v0.33h-0.99zM493.19 147.41h3.63v0.33h-3.63zM501.77 147.41h0.33v0.33h-0.33zM505.07 147.41h0.99v0.33h-0.99zM507.38 147.41h0.99v0.33h-0.99zM526.85 147.41h0.99v0.33h-0.99zM485.93 147.74h0.99v0.33h-0.99zM489.56 147.74h0.99v0.33h-0.99zM492.86 147.74h3.96v0.33h-3.96zM501.77 147.74h0.33v0.33h-0.33zM505.07 147.74h0.99v0.33h-0.99zM507.38 147.74h0.99v0.33h-0.99zM526.52 147.74h1.32v0.33h-1.32zM485.93 148.07h0.66v0.33h-0.66zM489.89 148.07h1.98v0.33h-1.98zM492.53 148.07h3.96v0.33h-3.96zM501.44 148.07h0.66v0.33h-0.66zM505.07 148.07h1.32v0.33h-1.32zM507.05 148.07h0.66v0.33h-0.66zM518.27 148.07h0.33v0.33h-0.33zM526.52 148.07h0.99v0.33h-0.99zM489.89 148.4h5.61v0.33h-5.61zM500.78 148.4h0.99v0.33h-0.99zM505.4 148.4h2.31v0.33h-2.31zM518.27 148.4h0.33v0.33h-0.33zM489.89 148.73h3.63v0.33h-3.63zM494.18 148.73h0.99v0.33h-0.99zM500.45 148.73h1.32v0.33h-1.32zM505.4 148.73h1.98v0.33h-1.98zM512.66 148.73h0.66v0.33h-0.66zM525.2 148.73h2.31v0.33h-2.31zM489.89 149.06h3.3v0.33h-3.3zM494.51 149.06h0.66v0.33h-0.66zM500.78 149.06h0.66v0.33h-0.66zM503.09 149.06h0.33v0.33h-0.33zM506.06 149.06h1.32v0.33h-1.32zM509.69 149.06h0.33v0.33h-0.33zM512.66 149.06h1.98v0.33h-1.98zM519.26 149.06h0.66v0.33h-0.66zM524.87 149.06h2.97v0.33h-2.97zM490.22 149.39h1.98v0.33h-1.98zM492.53 149.39h0.66v0.33h-0.66zM494.84 149.39h0.33v0.33h-0.33zM498.8 149.39h0.99v0.33h-0.99zM500.78 149.39h0.66v0.33h-0.66zM502.76 149.39h1.65v0.33h-1.65zM506.39 149.39h0.99v0.33h-0.99zM509.36 149.39h0.66v0.33h-0.66zM512.33 149.39h2.64v0.33h-2.64zM518.93 149.39h1.32v0.33h-1.32zM524.54 149.39h3.3v0.33h-3.3zM490.55 149.72h1.32v0.33h-1.32zM492.53 149.72h0.66v0.33h-0.66zM494.84 149.72h0.33v0.33h-0.33zM498.8 149.72h0.99v0.33h-0.99zM500.78 149.72h0.66v0.33h-0.66zM502.76 149.72h2.64v0.33h-2.64zM506.39 149.72h0.99v0.33h-0.99zM509.36 149.72h0.66v0.33h-0.66zM513.32 149.72h2.31v0.33h-2.31zM519.26 149.72h0.99v0.33h-0.99zM524.87 149.72h2.97v0.33h-2.97zM488.57 150.05h0.66v0.33h-0.66zM490.88 150.05h0.99v0.33h-0.99zM492.53 150.05h0.66v0.33h-0.66zM494.84 150.05h0.33v0.33h-0.33zM498.8 150.05h0.99v0.33h-0.99zM500.45 150.05h0.66v0.33h-0.66zM502.76 150.05h2.64v0.33h-2.64zM506.72 150.05h0.99v0.33h-0.99zM513.98 150.05h0.99v0.33h-0.99zM526.85 150.05h0.66v0.33h-0.66zM488.57 150.38h0.66v0.33h-0.66zM492.2 150.38h1.32v0.33h-1.32zM494.84 150.38h0.33v0.33h-0.33zM498.8 150.38h0.99v0.33h-0.99zM500.45 150.38h0.66v0.33h-0.66zM503.09 150.38h2.31v0.33h-2.31zM506.72 150.38h0.66v0.33h-0.66zM514.31 150.38h0.33v0.33h-0.33zM488.57 150.71h0.66v0.33h-0.66zM492.2 150.71h1.98v0.33h-1.98zM494.84 150.71h0.33v0.33h-0.33zM498.8 150.71h0.99v0.33h-0.99zM503.09 150.71h1.98v0.33h-1.98zM492.2 151.04h2.31v0.33h-2.31zM503.09 151.04h1.98v0.33h-1.98zM492.2 151.37h2.31v0.33h-2.31zM501.11 151.37h0.99v0.33h-0.99zM503.09 151.37h0.99v0.33h-0.99zM504.74 151.37h0.33v0.33h-0.33zM512.99 151.37h0.99v0.33h-0.99zM522.56 151.37h0.66v0.33h-0.66zM492.2 151.7h1.32v0.33h-1.32zM501.11 151.7h2.64v0.33h-2.64zM507.71 151.7h0.99v0.33h-0.99zM512.99 151.7h0.99v0.33h-0.99zM518.6 151.7h0.66v0.33h-0.66zM522.56 151.7h0.99v0.33h-0.99zM492.2 152.03h0.99v0.33h-0.99zM495.5 152.03h0.33v0.33h-0.33zM500.78 152.03h2.97v0.33h-2.97zM507.05 152.03h1.98v0.33h-1.98zM512.99 152.03h0.33v0.33h-0.33zM518.27 152.03h1.32v0.33h-1.32zM522.23 152.03h1.32v0.33h-1.32zM498.47 152.36h0.66v0.33h-0.66zM500.78 152.36h1.65v0.33h-1.65zM502.76 152.36h0.66v0.33h-0.66zM506.39 152.36h2.64v0.33h-2.64zM518.6 152.36h0.99v0.33h-0.99zM522.56 152.36h0.66v0.33h-0.66zM498.14 152.69h0.99v0.33h-0.99zM500.78 152.69h0.99v0.33h-0.99zM506.39 152.69h2.64v0.33h-2.64zM522.56 152.69h0.66v0.33h-0.66zM497.81 153.02h2.97v0.33h-2.97zM501.11 153.02h0.33v0.33h-0.33zM506.39 153.02h2.64v0.33h-2.64zM510.35 153.02h0.33v0.33h-0.33zM524.21 153.02h0.33v0.33h-0.33zM495.17 153.35h0.33v0.33h-0.33zM498.14 153.35h2.64v0.33h-2.64zM508.04 153.35h0.66v0.33h-0.66zM510.02 153.35h0.66v0.33h-0.66zM524.21 153.35h0.66v0.33h-0.66zM494.84 153.68h0.66v0.33h-0.66zM498.14 153.68h2.64v0.33h-2.64zM510.02 153.68h0.66v0.33h-0.66zM524.54 153.68h0.33v0.33h-0.33zM495.17 154.01h0.33v0.33h-0.33zM498.47 154.01h2.31v0.33h-2.31zM502.76 154.01h0.66v0.33h-0.66zM498.47 154.34h0.66v0.33h-0.66zM499.46 154.34h0.99v0.33h-0.99zM520.58 154.34h0.66v0.33h-0.66zM490.88 154.67h0.33v0.33h-0.33zM498.47 154.67h0.66v0.33h-0.66zM520.58 154.67h0.66v0.33h-0.66zM490.88 155h0.33v0.33h-0.33zM498.47 155h0.33v0.33h-0.33zM520.91 155h0.33v0.33h-0.33zM498.14 155.33h0.66v0.33h-0.66zM498.14 155.66h0.66v0.33h-0.66z"/>
<circle cx="484.3" cy="147.1" r="1.9" fill="#fff"/><circle cx="484.4" cy="94.8" r="1.7" fill="#fff"/>
<path d="M193.6,122.1 L531,122.1" stroke="#BFBF00" stroke-width="1.8" stroke-dasharray="6.1 1.5 3.2 1.46" fill="none"/>
<path d="M192.0,158.2 C200.3,158.2 232.8,158.6 242.0,158.2 C251.2,157.8 245.6,156.8 247.5,156.0 C249.4,155.2 250.5,154.8 253.4,153.7 C256.3,152.6 261.1,150.8 265.0,149.6 C268.9,148.4 272.8,147.5 276.7,146.7 C280.6,145.9 285.3,145.0 288.4,144.9 C291.5,144.8 293.3,145.7 295.4,145.9 C297.5,146.2 300.0,148.2 301.2,146.4 C302.4,144.6 301.8,139.1 302.3,135.0 C302.8,130.9 303.5,125.2 304.2,122.0 C304.9,118.8 305.5,117.4 306.3,115.5 C307.1,113.6 308.1,112.6 309.1,110.8 C310.1,109.0 311.1,106.9 312.1,104.7 C313.1,102.5 314.1,99.6 315.2,97.5 C316.3,95.4 317.4,93.8 318.8,92.0 C320.2,90.2 321.1,89.5 323.8,86.6 C326.5,83.7 331.4,78.0 334.8,74.5 C338.2,71.0 341.6,67.9 344.5,65.5 C347.4,63.1 349.8,61.0 352.0,60.2 C354.2,59.5 355.8,60.6 358.0,61.0 C360.2,61.4 362.2,61.9 365.0,62.5 C367.8,63.1 371.6,64.1 375.0,64.6 C378.4,65.1 383.5,65.8 385.7,65.7 C387.9,65.6 387.3,65.2 388.3,64.1 C389.3,63.0 390.6,60.6 391.9,59.0 C393.2,57.4 394.2,55.1 395.9,54.4 C397.6,53.7 400.0,54.6 402.1,54.9 C404.2,55.2 406.4,55.6 408.7,56.0 C411.0,56.4 413.5,56.6 415.9,57.5 C418.3,58.4 421.1,59.9 423.0,61.1 C424.9,62.3 425.8,63.1 427.1,64.6 C428.4,66.1 429.8,68.4 430.7,70.3 C431.6,72.2 432.4,75.0 432.7,75.9" fill="none" stroke="#FF85C2" stroke-width="2" stroke-dasharray="1.6 1.47"/>
<path d="M433.2,76 L435.4,111 M436.6,111 L438.4,76" fill="none" stroke="#FF85C2" stroke-width="2" stroke-dasharray="1.6 1.47"/>
<path d="M438.5,75.9 C439.0,75.1 440.4,72.2 441.4,70.8 C442.4,69.4 442.9,68.2 444.5,67.7 C446.1,67.2 448.3,67.0 451.0,67.5 C453.7,68.0 458.3,69.7 460.8,70.7 C463.3,71.8 464.7,72.3 466.1,73.8 C467.5,75.3 468.7,78.9 469.2,79.9" fill="none" stroke="#FF85C2" stroke-width="2" stroke-dasharray="1.6 1.47"/>
<path d="M469.2,79.9 L471.8,70.2 L473.0,64.1" fill="none" stroke="#FF85C2" stroke-width="2" stroke-dasharray="1.6 1.47"/>
<path d="M473.0,66.5 L475.8,69.4 L480.2,74.6 L482.9,79.0 L487.3,79.9 L492.5,81.7 L505.4,88.0 L507.0,93.0 L509.0,88.5 L520.0,90.5 L527.8,92.0 L531.0,92.0" fill="none" stroke="#FF85C2" stroke-width="2" stroke-dasharray="1.6 1.47"/>
<path d="M192.0,60.8 L215.0,56.2 L239.0,51.3 L262.0,46.4 L280.0,42.8 L284.0,42.2" fill="none" stroke="#4DBEEE" stroke-width="2" stroke-dasharray="6.1 6.2" stroke-dashoffset="10.3"/>
<path d="M284.0,42.2 L351.3,59.1 L383.0,41.5 L389.3,45.0 L393.4,50.8 L396.5,53.4 L404.6,54.2 L409.2,54.9 L416.9,57.0 L421.0,58.7 L426.1,63.1 L430.2,67.2 L433.8,73.8 L435.8,75.4 L437.3,74.3 L440.4,67.7 L443.0,63.1 L450.3,52.6 L458.0,45.5 L464.1,41.2" fill="none" stroke="#4DBEEE" stroke-width="2" stroke-dasharray="6.1 6.2" stroke-dashoffset="3.77"/>
<path d="M465.5,41.9 L467.2,44 L469.2,47.2" fill="none" stroke="#4DBEEE" stroke-width="2"/>
<path d="M470.7,53.2 L472.1,58.2 L475.8,51.4" fill="none" stroke="#4DBEEE" stroke-width="2" stroke-linejoin="round"/>
<path d="M477.2,45.6 L480.9,41.1" fill="none" stroke="#4DBEEE" stroke-width="2"/>
<path d="M480.9,41.1 L503.0,41.1 L505.9,42.2 L508.0,41.1 L531.0,41.1" fill="none" stroke="#4DBEEE" stroke-width="2" stroke-dasharray="6.2 6.2" stroke-dashoffset="6.2"/>
<path d="M192.0,59.0 L215.0,54.4 L239.3,49.2 L262.0,44.6 L279.0,41.4 L285.0,40.8 L482.8,40.8 L487.4,35.0 L490.0,32.9 L496.0,29.4 L499.9,30.4 L502.9,28.9 L506.4,37.8 L509.3,28.9 L514.8,28.4 L518.7,27.4 L521.7,27.9 L525.7,26.4 L529.6,28.9 L531.5,29.9" fill="none" stroke="#7E2F8E" stroke-width="2" stroke-linejoin="round"/>
<path d="M192,175.4 L192,24 L532.8,24 M192,175.4 L531,175.4" fill="none" stroke="#000" stroke-width="1.5"/>
<path d="M532.8,23.2 L532.8,176.2" fill="none" stroke="#7E2F8E" stroke-width="1.6"/>
<path d="M192,97.4 L196,97.4 M192,170.6 L196,170.6 M361.8,175.4 L361.8,171.4 M361.8,24 L361.8,28 M531,175.4 L531,171.4 M193.5,175.4 L193.5,171.4 M192,25 L196,25" stroke="#000" stroke-width="1.5" fill="none"/>
<path d="M532.8,41 L528.8,41 M532.8,108.2 L528.8,108.2 M532.8,175.2 L528.8,175.2" stroke="#7E2F8E" stroke-width="1.5" fill="none"/>
<g font-family="Liberation Serif" font-size="17.5" fill="#000" text-anchor="end"><text x="186.5" y="29.1">3</text><text x="186.5" y="102.4">1.5</text><text x="186.6" y="175.2">0</text></g>
<g font-family="Liberation Serif" font-size="17.5" fill="#000" text-anchor="middle"><text x="193.4" y="195.4">8</text><text x="361.9" y="195.4">10</text><text x="530.6" y="195.4">12</text></g>
<g font-family="Liberation Serif" font-size="17.5" fill="#7E2F8E" text-anchor="start"><text x="538.3" y="44.9">0</text><text x="537.7" y="112.7">-0.04</text><text x="538.1" y="179.1">-0.08</text></g>
<text font-family="Liberation Serif" font-size="19.5" letter-spacing="-0.6" font-style="italic" x="362.4" y="14.6" text-anchor="middle"><tspan font-style="normal" font-size="21">(</tspan>a<tspan font-style="normal" font-size="21">)</tspan></text>
<path d="M357.60,212.70 C358.35,211.30 359.05,210.60 360.25,210.55 L366.80,210.55" fill="none" stroke="#000" stroke-width="1.35"/><path d="M362.95,210.70 L361.25,216.40 C361.05,217.20 360.85,217.60 360.55,217.80" fill="none" stroke="#000" stroke-width="1.75" stroke-linecap="round"/>
<g transform="translate(155.8,132.9) rotate(-90) scale(0.97)" fill="none" stroke="#000" stroke-linecap="round"><path d="M-4.6,-6.4 C-4.0,-7.8 -2.0,-8.6 -0.9,-7.3 C-0.3,-6.5 -0.5,-4.8 -0.9,-3.2 C-1.3,-1.6 -1.9,-0.1 -3.6,0.1 C-4.5,0.2 -5.2,-0.4 -5.0,-1.0" stroke-width="1.15"/><path d="M4.7,-6.6 C4.6,-7.6 3.6,-8.4 2.2,-8.0 C0.9,-7.6 0.4,-5.8 -0.1,-4.0 C-0.5,-2.4 -0.6,-0.4 0.8,0.0 C2.2,0.4 3.9,-0.6 4.6,-2.2" stroke-width="1.15"/></g>
<path d="M144.40,115.40 H156.80 M150.60,109.20 V121.60" stroke="#000" stroke-width="1.0" fill="none"/>
<g transform="translate(155.6,98.85) rotate(-90) scale(1.0)" fill="none" stroke="#000" stroke-linecap="round"><path d="M-4.4,-6.0 C-3.8,-7.6 -2.5,-8.4 -1.7,-7.7 C-1.1,-7.1 -1.5,-5.6 -2.1,-4.0 C-2.7,-2.4 -2.9,-0.8 -1.6,-0.2 C-0.3,0.3 1.3,-0.9 2.1,-2.4" stroke-width="1.15"/><path d="M3.9,-8.0 L2.0,-1.2 C1.4,1.4 -0.2,3.6 -2.2,3.6 C-3.1,3.6 -3.7,3.1 -3.5,2.5" stroke-width="1.25"/></g>
<path d="M144.30,82.35 H156.70 M150.50,76.15 V88.55" stroke="#000" stroke-width="1.0" fill="none"/>
<g transform="translate(155.8,65.85) rotate(-90) scale(1.0)" fill="none" stroke="#000" stroke-linecap="round" stroke-linejoin="round"><path d="M-3.4,-5.4 C-3.0,-7.2 -1.8,-8.0 -0.6,-7.4 C0.6,-6.8 1.6,-6.6 2.4,-7.2 C2.9,-7.6 3.2,-8.1 3.3,-8.1 L-3.6,-0.2 M-3.6,-0.2 C-2.8,-1.2 -1.8,-1.2 -0.6,-0.6 C0.6,0.0 1.8,0.3 2.6,-0.8 C2.9,-1.2 3.0,-1.8 3.0,-1.8" stroke-width="1.1"/></g>
<text font-family="Liberation Serif" font-size="19" font-style="italic" fill="#7E2F8E" transform="translate(593.4,113.6) rotate(-90) scale(1.2,1)" text-anchor="middle">λ</text>
<text font-family="Liberation Serif" font-size="12.6" fill="#7E2F8E" transform="translate(595.6,94.2) rotate(-90)" text-anchor="middle">1,2,3</text>
<path d="M51.5,339 L214.5,339" stroke="#0000FA" stroke-width="2" fill="none"/>
<path d="M51,266.8 L215,266.8 L215,410.8 L51,410.8 Z" fill="none" stroke="#000" stroke-width="1.5"/>
<path d="M51,338.8 L53.6,338.8 M133,266.8 L133,269.3 M133,410.8 L133,408.3" stroke="#000" stroke-width="1.5" fill="none"/>
<g font-family="Liberation Serif" font-size="17.5" fill="#000" text-anchor="end"><text x="45" y="271.0">0.1</text><text x="45.4" y="343.0">0</text><text x="45" y="415.0">-0.1</text></g>
<g font-family="Liberation Serif" font-size="17.5" fill="#000" text-anchor="middle"><text x="50.8" y="431.2">8</text><text x="133.1" y="431.2">10</text><text x="215.5" y="431.2">12</text></g>
<text font-family="Liberation Serif" font-size="19.5" letter-spacing="-0.6" font-style="italic" x="133.1" y="257.4" text-anchor="middle"><tspan font-style="normal" font-size="21">(</tspan>b<tspan font-style="normal" font-size="21">)</tspan></text>
<path d="M128.55,448.00 C129.30,446.60 130.00,445.90 131.20,445.85 L137.75,445.85" fill="none" stroke="#000" stroke-width="1.35"/><path d="M133.90,446.00 L132.20,451.70 C132.00,452.50 131.80,452.90 131.50,453.10" fill="none" stroke="#000" stroke-width="1.75" stroke-linecap="round"/>
<g transform="translate(8.5,339.0) rotate(-90) scale(0.95)" fill="none" stroke="#000" stroke-linecap="round"><path d="M-4.6,-6.4 C-4.0,-7.8 -2.0,-8.6 -0.9,-7.3 C-0.3,-6.5 -0.5,-4.8 -0.9,-3.2 C-1.3,-1.6 -1.9,-0.1 -3.6,0.1 C-4.5,0.2 -5.2,-0.4 -5.0,-1.0" stroke-width="1.15"/><path d="M4.7,-6.6 C4.6,-7.6 3.6,-8.4 2.2,-8.0 C0.9,-7.6 0.4,-5.8 -0.1,-4.0 C-0.5,-2.4 -0.6,-0.4 0.8,0.0 C2.2,0.4 3.9,-0.6 4.6,-2.2" stroke-width="1.15"/></g>
<path d="M323.8,394.7 C323.8,393.7 324.5,392.5 325.2,391.6 C325.9,390.7 326.2,390.3 328.2,389.2 C330.2,388.1 333.7,386.3 337.0,384.8 C340.3,383.3 344.0,381.8 348.0,380.4 C352.0,379.0 357.0,377.6 361.2,376.5 C365.4,375.4 371.0,374.2 373.0,373.8" fill="none" stroke="#DF7F06" stroke-width="2.2"/>
<path d="M323.8,394.7 C323.8,395.7 324.5,396.9 325.2,397.6 C325.9,398.3 326.2,398.4 328.2,399.1 C330.2,399.8 332.8,400.9 337.0,401.6 C341.2,402.3 348.0,403.0 353.5,403.4 C359.0,403.8 362.9,403.9 370.0,404.0 C377.1,404.1 383.3,404.1 396.0,404.2 C408.7,404.2 437.7,404.3 446.0,404.3" fill="none" stroke="#DF7F06" stroke-width="2.2"/>
<path d="M373.0,373.8 C373.0,372.5 373.6,371.5 374.4,369.9 C375.2,368.3 376.6,366.0 377.7,364.4 C378.8,362.8 379.3,362.2 381.0,360.0 C382.7,357.8 384.7,354.8 387.9,351.4 C391.1,348.0 395.9,343.4 400.1,339.6 C404.4,335.8 411.2,330.3 413.4,328.4" fill="none" stroke="#DF7F06" stroke-width="2.2"/>
<path d="M373.0,373.8 C373.0,375.8 373.4,377.9 374.4,379.8 C375.4,381.7 377.0,383.6 378.8,385.3 C380.6,387.1 381.4,388.2 385.0,390.3 C388.6,392.4 395.4,396.1 400.1,398.0 C404.8,399.9 411.1,401.3 413.3,402.0" fill="none" stroke="#DF7F06" stroke-width="2.2"/>
<path d="M413.4,328.4 C413.4,326.5 413.8,324.4 414.3,322.7 C414.8,321.0 415.5,319.6 416.5,318.2 C417.5,316.8 419.5,315.2 420.4,314.3 C421.3,313.4 421.7,313.2 422.0,313.0" fill="none" stroke="#DF7F06" stroke-width="2.2"/>
<path d="M413.4,328.4 C413.4,330.3 414.0,332.4 414.7,334.1 C415.4,335.8 416.2,337.2 417.4,338.5 C418.6,339.8 420.9,341.4 421.8,342.1 C422.7,342.9 422.8,342.9 423.0,343.0" fill="none" stroke="#DF7F06" stroke-width="2.2"/>
<path d="M413.3,402.0 C413.3,400.8 416.6,399.5 418.0,398.5 C419.4,397.5 421.3,396.4 422.0,396.0" fill="none" stroke="#DF7F06" stroke-width="2.2"/>
<path d="M283.5,394.7 L323.8,394.7" fill="none" stroke="#DF7F06" stroke-width="2.2"/>
<path d="M373.8,403.3 C400,402.5 430,402.5 446,402.6 L446,405.6 C430,405.4 400,405.2 373.8,404.6 Z" fill="#DF7F06"/>
<path d="M420.4,313.8 L445.8,275.5 L446.6,275.5 L446.6,404.0 L423.0,404.0 L421.3,397.5 L422.2,392.7 L424.7,384.2 L428.1,374.0 L430.7,365.6 L429.8,358.8 L425.6,350.3 L422.2,345.5 L421.3,342.0 L423.1,335.9 L424.0,329.7 L424.0,322.7 L422.7,316.5 Z" fill="#DF7F06"/>
<path fill="#fff" d="M441.25 289.25h0.25v0.25h-0.25zM441.25 289.5h0.5v0.25h-0.5zM441.25 289.75h0.75v0.25h-0.75zM441.25 290h0.25v0.25h-0.25zM441.75 290h0.25v0.25h-0.25zM441.75 290.25h0.25v0.25h-0.25zM442.75 291.5h0.25v0.25h-0.25zM442.5 291.75h0.25v0.25h-0.25zM442.5 292h0.25v0.25h-0.25zM442.25 294.25h0.5v0.25h-0.5zM442.25 294.5h0.5v0.25h-0.5zM439.75 294.75h0.25v0.25h-0.25zM442.25 294.75h0.5v0.25h-0.5zM439.75 295h0.25v0.25h-0.25zM442.25 295h0.5v0.25h-0.5zM442.25 295.25h0.75v0.25h-0.75zM440.75 295.5h0.25v0.25h-0.25zM442 295.5h1v0.25h-1zM439 295.75h0.25v0.25h-0.25zM440.75 295.75h0.25v0.25h-0.25zM442 295.75h1v0.25h-1zM438.75 296h0.5v0.25h-0.5zM442.25 296h0.75v0.25h-0.75zM438.75 296.25h0.5v0.25h-0.5zM442.25 296.25h0.5v0.25h-0.5zM438.75 296.5h0.5v0.25h-0.5zM442.25 296.5h0.5v0.25h-0.5zM438.75 296.75h0.5v0.25h-0.5zM438.75 297h0.5v0.25h-0.5zM438.5 297.25h0.75v0.25h-0.75zM438.5 297.5h0.75v0.25h-0.75zM438.5 297.75h0.75v0.25h-0.75zM438.5 298h0.75v0.25h-0.75zM440.25 298h0.5v0.25h-0.5zM438.5 298.25h0.75v0.25h-0.75zM440.25 298.25h0.75v0.25h-0.75zM438.5 298.5h0.75v0.25h-0.75zM440 298.5h1v0.25h-1zM438.5 298.75h0.75v0.25h-0.75zM440 298.75h1.25v0.25h-1.25zM438.5 299h0.75v0.25h-0.75zM440 299h1.25v0.25h-1.25zM438.5 299.25h0.75v0.25h-0.75zM439.75 299.25h1.5v0.25h-1.5zM438.5 299.5h0.5v0.25h-0.5zM439.5 299.5h1.75v0.25h-1.75zM438.5 299.75h0.5v0.25h-0.5zM439.5 299.75h1.75v0.25h-1.75zM438.5 300h0.5v0.25h-0.5zM439.5 300h1.75v0.25h-1.75zM439.5 300.25h1.5v0.25h-1.5zM439.25 300.5h1.75v0.25h-1.75zM439.25 300.75h1.5v0.25h-1.5zM437 301h0.25v0.25h-0.25zM439.25 301h1v0.25h-1zM437 301.25h0.25v0.25h-0.25zM439.25 301.25h1v0.25h-1zM436.25 301.5h1.25v0.25h-1.25zM439.5 301.5h0.75v0.25h-0.75zM436.25 301.75h1.25v0.25h-1.25zM439.5 301.75h0.75v0.25h-0.75zM436 302h1.5v0.25h-1.5zM439.5 302h0.5v0.25h-0.5zM441.25 302h0.25v0.25h-0.25zM436 302.25h1.5v0.25h-1.5zM439.5 302.25h0.5v0.25h-0.5zM441.25 302.25h0.25v0.25h-0.25zM436 302.5h1.5v0.25h-1.5zM439.5 302.5h0.5v0.25h-0.5zM440.75 302.5h0.75v0.25h-0.75zM432.25 302.75h0.25v0.25h-0.25zM436 302.75h1v0.25h-1zM439.5 302.75h0.5v0.25h-0.5zM440.75 302.75h0.75v0.25h-0.75zM432 303h0.25v0.25h-0.25zM436 303h0.75v0.25h-0.75zM439.5 303h0.5v0.25h-0.5zM440.5 303h1v0.25h-1zM436 303.25h0.75v0.25h-0.75zM439.5 303.25h0.5v0.25h-0.5zM440.5 303.25h1v0.25h-1zM442 303.25h0.25v0.25h-0.25zM436 303.5h0.75v0.25h-0.75zM439.5 303.5h0.5v0.25h-0.5zM440.5 303.5h1v0.25h-1zM442 303.5h0.25v0.25h-0.25zM436 303.75h0.75v0.25h-0.75zM439.5 303.75h0.5v0.25h-0.5zM440.5 303.75h1v0.25h-1zM442 303.75h0.25v0.25h-0.25zM436 304h0.5v0.25h-0.5zM439.5 304h0.5v0.25h-0.5zM440.5 304h1v0.25h-1zM442 304h0.25v0.25h-0.25zM436 304.25h0.5v0.25h-0.5zM439.5 304.25h0.5v0.25h-0.5zM440.5 304.25h1v0.25h-1zM442 304.25h0.25v0.25h-0.25zM439.5 304.5h0.5v0.25h-0.5zM440.5 304.5h1v0.25h-1zM439.5 304.75h0.25v0.25h-0.25zM440.5 304.75h1v0.25h-1zM439.5 305h0.25v0.25h-0.25zM440.75 305h0.75v0.25h-0.75zM440.75 305.25h0.75v0.25h-0.75zM440.75 305.5h0.75v0.25h-0.75zM440.75 305.75h0.5v0.25h-0.5zM434.25 306h0.25v0.25h-0.25zM439.75 306h0.25v0.25h-0.25zM440.75 306h0.5v0.25h-0.5zM434.25 306.25h0.25v0.25h-0.25zM439.5 306.25h1v0.25h-1zM440.75 306.25h0.5v0.25h-0.5zM433.25 306.5h0.25v0.25h-0.25zM434.25 306.5h0.5v0.25h-0.5zM439.5 306.5h1.75v0.25h-1.75zM433.25 306.75h0.5v0.25h-0.5zM434 306.75h0.75v0.25h-0.75zM439.25 306.75h2v0.25h-2zM433.25 307h0.5v0.25h-0.5zM434 307h0.75v0.25h-0.75zM439.25 307h2.25v0.25h-2.25zM433.25 307.25h0.5v0.25h-0.5zM434 307.25h1v0.25h-1zM436.25 307.25h0.25v0.25h-0.25zM439.25 307.25h2.25v0.25h-2.25zM433.25 307.5h0.5v0.25h-0.5zM434 307.5h1.5v0.25h-1.5zM436.25 307.5h0.25v0.25h-0.25zM439.25 307.5h2.25v0.25h-2.25zM433.25 307.75h0.5v0.25h-0.5zM434 307.75h1.5v0.25h-1.5zM436 307.75h0.5v0.25h-0.5zM439.25 307.75h2.25v0.25h-2.25zM433.25 308h0.25v0.25h-0.25zM434 308h1.5v0.25h-1.5zM436 308h0.5v0.25h-0.5zM439.25 308h2.25v0.25h-2.25zM433.25 308.25h0.25v0.25h-0.25zM434 308.25h1.75v0.25h-1.75zM436 308.25h0.5v0.25h-0.5zM439.5 308.25h2v0.25h-2zM434.25 308.5h1.5v0.25h-1.5zM436 308.5h0.5v0.25h-0.5zM439.5 308.5h2v0.25h-2zM434.25 308.75h1.5v0.25h-1.5zM436 308.75h0.5v0.25h-0.5zM439.75 308.75h1.75v0.25h-1.75zM428.75 309h0.25v0.25h-0.25zM434.25 309h1.5v0.25h-1.5zM436 309h0.5v0.25h-0.5zM439.75 309h1.75v0.25h-1.75zM428.75 309.25h0.25v0.25h-0.25zM434.25 309.25h1.5v0.25h-1.5zM436 309.25h0.5v0.25h-0.5zM440 309.25h1.5v0.25h-1.5zM428.75 309.5h0.25v0.25h-0.25zM434.25 309.5h1.5v0.25h-1.5zM436 309.5h0.5v0.25h-0.5zM440 309.5h1.5v0.25h-1.5zM428.75 309.75h0.25v0.25h-0.25zM434.25 309.75h1.5v0.25h-1.5zM436 309.75h0.5v0.25h-0.5zM440.25 309.75h1.25v0.25h-1.25zM428.75 310h0.25v0.25h-0.25zM432.5 310h0.5v0.25h-0.5zM434.25 310h1.5v0.25h-1.5zM436 310h0.75v0.25h-0.75zM440.5 310h1v0.25h-1zM428.75 310.25h0.25v0.25h-0.25zM430.25 310.25h0.5v0.25h-0.5zM432.5 310.25h0.5v0.25h-0.5zM434.25 310.25h1.5v0.25h-1.5zM436 310.25h0.75v0.25h-0.75zM440.5 310.25h1v0.25h-1zM428.75 310.5h0.25v0.25h-0.25zM430.25 310.5h0.75v0.25h-0.75zM432.5 310.5h0.75v0.25h-0.75zM435 310.5h0.5v0.25h-0.5zM436 310.5h0.75v0.25h-0.75zM439.25 310.5h0.25v0.25h-0.25zM440.5 310.5h1v0.25h-1zM428.75 310.75h0.25v0.25h-0.25zM430.25 310.75h0.75v0.25h-0.75zM432.5 310.75h0.5v0.25h-0.5zM435.25 310.75h0.25v0.25h-0.25zM436 310.75h0.75v0.25h-0.75zM439.25 310.75h0.25v0.25h-0.25zM440.5 310.75h1v0.25h-1zM430 311h1v0.25h-1zM431.5 311h0.25v0.25h-0.25zM432.75 311h0.25v0.25h-0.25zM436 311h0.75v0.25h-0.75zM439.25 311h0.25v0.25h-0.25zM440.5 311h1v0.25h-1zM430 311.25h1v0.25h-1zM431.25 311.25h0.75v0.25h-0.75zM436 311.25h0.75v0.25h-0.75zM439.25 311.25h0.25v0.25h-0.25zM440.5 311.25h1v0.25h-1zM430 311.5h1v0.25h-1zM431.25 311.5h0.75v0.25h-0.75zM436.25 311.5h0.5v0.25h-0.5zM439.25 311.5h0.25v0.25h-0.25zM440.5 311.5h1v0.25h-1zM426.25 311.75h0.25v0.25h-0.25zM430 311.75h1v0.25h-1zM431.25 311.75h0.75v0.25h-0.75zM436.25 311.75h0.75v0.25h-0.75zM439.25 311.75h0.25v0.25h-0.25zM440.5 311.75h1v0.25h-1zM426.25 312h0.25v0.25h-0.25zM430 312h1v0.25h-1zM431.25 312h0.75v0.25h-0.75zM436.25 312h0.75v0.25h-0.75zM439.25 312h0.25v0.25h-0.25zM440.5 312h1v0.25h-1zM426.25 312.25h0.25v0.25h-0.25zM430 312.25h0.75v0.25h-0.75zM431.25 312.25h0.75v0.25h-0.75zM436.25 312.25h0.75v0.25h-0.75zM439.25 312.25h0.25v0.25h-0.25zM440.75 312.25h0.75v0.25h-0.75zM426.25 312.5h0.25v0.25h-0.25zM430 312.5h0.75v0.25h-0.75zM431.25 312.5h0.75v0.25h-0.75zM436 312.5h1v0.25h-1zM438.5 312.5h0.25v0.25h-0.25zM439 312.5h0.5v0.25h-0.5zM440.75 312.5h0.75v0.25h-0.75zM426.25 312.75h0.25v0.25h-0.25zM430.25 312.75h0.5v0.25h-0.5zM431.5 312.75h0.5v0.25h-0.5zM435.75 312.75h1.25v0.25h-1.25zM438.25 312.75h1.25v0.25h-1.25zM440.75 312.75h0.75v0.25h-0.75zM426.25 313h0.25v0.25h-0.25zM430.25 313h0.5v0.25h-0.5zM431.5 313h0.5v0.25h-0.5zM435.75 313h1.5v0.25h-1.5zM438.25 313h1v0.25h-1zM441 313h0.5v0.25h-0.5zM426.25 313.25h0.25v0.25h-0.25zM431.5 313.25h0.5v0.25h-0.5zM435.5 313.25h1.75v0.25h-1.75zM438.25 313.25h1v0.25h-1zM441 313.25h0.5v0.25h-0.5zM426.25 313.5h0.25v0.25h-0.25zM431.5 313.5h0.5v0.25h-0.5zM435.5 313.5h1.75v0.25h-1.75zM437.5 313.5h0.25v0.25h-0.25zM438.25 313.5h0.75v0.25h-0.75zM441 313.5h0.5v0.25h-0.5zM431.5 313.75h0.5v0.25h-0.5zM435.5 313.75h3.5v0.25h-3.5zM441 313.75h0.5v0.25h-0.5zM431.5 314h0.5v0.25h-0.5zM435.5 314h1.5v0.25h-1.5zM437.25 314h1.5v0.25h-1.5zM441 314h0.5v0.25h-0.5zM433.75 314.25h0.5v0.25h-0.5zM435.5 314.25h0.75v0.25h-0.75zM437.25 314.25h1.5v0.25h-1.5zM441 314.25h0.5v0.25h-0.5zM433.75 314.5h0.5v0.25h-0.5zM435.5 314.5h0.75v0.25h-0.75zM437.5 314.5h1.25v0.25h-1.25zM441 314.5h0.5v0.25h-0.5zM433.75 314.75h0.5v0.25h-0.5zM435.5 314.75h0.75v0.25h-0.75zM437.5 314.75h1.25v0.25h-1.25zM441 314.75h0.5v0.25h-0.5zM433.75 315h0.5v0.25h-0.5zM435.5 315h0.75v0.25h-0.75zM437.5 315h1v0.25h-1zM440.75 315h0.75v0.25h-0.75zM433.75 315.25h0.75v0.25h-0.75zM435.5 315.25h0.5v0.25h-0.5zM437.75 315.25h0.75v0.25h-0.75zM440.75 315.25h0.75v0.25h-0.75zM433.75 315.5h0.75v0.25h-0.75zM435.5 315.5h0.5v0.25h-0.5zM438 315.5h0.5v0.25h-0.5zM440.75 315.5h0.75v0.25h-0.75zM433.75 315.75h1v0.25h-1zM435.5 315.75h0.5v0.25h-0.5zM438.25 315.75h0.25v0.25h-0.25zM440.75 315.75h0.75v0.25h-0.75zM430.75 316h0.25v0.25h-0.25zM434 316h1v0.25h-1zM435.5 316h0.5v0.25h-0.5zM438.25 316h0.25v0.25h-0.25zM441 316h0.5v0.25h-0.5zM430.5 316.25h0.75v0.25h-0.75zM434 316.25h1v0.25h-1zM435.5 316.25h0.5v0.25h-0.5zM441.25 316.25h0.25v0.25h-0.25zM430.5 316.5h0.75v0.25h-0.75zM432.5 316.5h0.25v0.25h-0.25zM434.25 316.5h0.75v0.25h-0.75zM435.5 316.5h0.5v0.25h-0.5zM430.5 316.75h0.75v0.25h-0.75zM432.5 316.75h0.25v0.25h-0.25zM434.25 316.75h0.75v0.25h-0.75zM435.5 316.75h0.75v0.25h-0.75zM430.5 317h0.75v0.25h-0.75zM432.5 317h0.25v0.25h-0.25zM434.25 317h0.75v0.25h-0.75zM435.5 317h0.75v0.25h-0.75zM438.5 317h0.5v0.25h-0.5zM430.5 317.25h0.5v0.25h-0.5zM432.25 317.25h0.5v0.25h-0.5zM434.25 317.25h1v0.25h-1zM435.5 317.25h0.75v0.25h-0.75zM438.5 317.25h0.5v0.25h-0.5zM430.5 317.5h0.5v0.25h-0.5zM432.25 317.5h0.5v0.25h-0.5zM434.25 317.5h1v0.25h-1zM435.5 317.5h0.75v0.25h-0.75zM438.5 317.5h0.75v0.25h-0.75zM430.75 317.75h0.25v0.25h-0.25zM432.25 317.75h0.5v0.25h-0.5zM434.25 317.75h1v0.25h-1zM435.5 317.75h0.75v0.25h-0.75zM438.75 317.75h0.5v0.25h-0.5zM432.25 318h0.5v0.25h-0.5zM434.25 318h1v0.25h-1zM435.5 318h0.75v0.25h-0.75zM438.75 318h0.5v0.25h-0.5zM432.25 318.25h0.5v0.25h-0.5zM434.25 318.25h1v0.25h-1zM435.5 318.25h0.75v0.25h-0.75zM438.75 318.25h0.5v0.25h-0.5zM432.25 318.5h0.5v0.25h-0.5zM434.5 318.5h1.75v0.25h-1.75zM438.75 318.5h0.75v0.25h-0.75zM432.5 318.75h0.25v0.25h-0.25zM434.5 318.75h1.75v0.25h-1.75zM438.75 318.75h0.75v0.25h-0.75zM434.5 319h1.75v0.25h-1.75zM438.75 319h1v0.25h-1zM440.5 319h0.25v0.25h-0.25zM429 319.25h0.25v0.25h-0.25zM434.5 319.25h1.75v0.25h-1.75zM439 319.25h1.75v0.25h-1.75zM429 319.5h0.25v0.25h-0.25zM433.5 319.5h0.75v0.25h-0.75zM434.75 319.5h1.75v0.25h-1.75zM439 319.5h1.75v0.25h-1.75zM429 319.75h0.25v0.25h-0.25zM433.25 319.75h1v0.25h-1zM434.75 319.75h1.75v0.25h-1.75zM439 319.75h1.75v0.25h-1.75zM429 320h0.25v0.25h-0.25zM433.25 320h1v0.25h-1zM435.25 320h1.25v0.25h-1.25zM439 320h1.75v0.25h-1.75zM429 320.25h0.25v0.25h-0.25zM433 320.25h1.25v0.25h-1.25zM435.5 320.25h1v0.25h-1zM439.25 320.25h1.25v0.25h-1.25zM429 320.5h0.25v0.25h-0.25zM433 320.5h1.25v0.25h-1.25zM435.5 320.5h1v0.25h-1zM437 320.5h0.5v0.25h-0.5zM433.25 320.75h1v0.25h-1zM435.75 320.75h0.75v0.25h-0.75zM437 320.75h0.5v0.25h-0.5zM433.25 321h1v0.25h-1zM435.75 321h0.75v0.25h-0.75zM436.75 321h1v0.25h-1zM433.25 321.25h1v0.25h-1zM436 321.25h0.5v0.25h-0.5zM436.75 321.25h1.25v0.25h-1.25zM433.25 321.5h0.75v0.25h-0.75zM436 321.5h0.5v0.25h-0.5zM436.75 321.5h1.25v0.25h-1.25zM433.5 321.75h0.5v0.25h-0.5zM436 321.75h0.25v0.25h-0.25zM436.75 321.75h1.25v0.25h-1.25zM433.5 322h0.5v0.25h-0.5zM437 322h1v0.25h-1zM433.5 322.25h0.5v0.25h-0.5zM435 322.25h0.25v0.25h-0.25zM437 322.25h1v0.25h-1zM433.5 322.5h0.5v0.25h-0.5zM434.75 322.5h0.5v0.25h-0.5zM437 322.5h1v0.25h-1zM433.75 322.75h0.25v0.25h-0.25zM434.75 322.75h0.5v0.25h-0.5zM437.25 322.75h0.75v0.25h-0.75zM433.75 323h0.25v0.25h-0.25zM434.75 323h0.5v0.25h-0.5zM437.5 323h0.5v0.25h-0.5zM433.75 323.25h0.25v0.25h-0.25zM434.75 323.25h0.5v0.25h-0.5zM437.5 323.25h0.5v0.25h-0.5zM433.75 323.5h0.25v0.25h-0.25zM434.75 323.5h0.5v0.25h-0.5zM437.5 323.5h0.5v0.25h-0.5zM433.75 323.75h0.25v0.25h-0.25zM437.5 323.75h0.5v0.25h-0.5zM433.75 324h0.5v0.25h-0.5zM437.5 324h0.75v0.25h-0.75zM444.75 324h0.25v0.25h-0.25zM433.75 324.25h0.5v0.25h-0.5zM437.5 324.25h0.75v0.25h-0.75zM444.75 324.25h0.25v0.25h-0.25zM425.75 324.5h0.5v0.25h-0.5zM433.75 324.5h0.75v0.25h-0.75zM437.5 324.5h1v0.25h-1zM440.5 324.5h0.25v0.25h-0.25zM444.75 324.5h0.25v0.25h-0.25zM425.75 324.75h0.5v0.25h-0.5zM433.75 324.75h1.75v0.25h-1.75zM437.5 324.75h1.25v0.25h-1.25zM440.25 324.75h0.5v0.25h-0.5zM444.75 324.75h0.25v0.25h-0.25zM426 325h0.25v0.25h-0.25zM433.75 325h1.75v0.25h-1.75zM437.5 325h1.5v0.25h-1.5zM440.25 325h0.5v0.25h-0.5zM444.75 325h0.25v0.25h-0.25zM433.75 325.25h2v0.25h-2zM437.5 325.25h1.5v0.25h-1.5zM440.25 325.25h0.5v0.25h-0.5zM444.75 325.25h0.25v0.25h-0.25zM433.75 325.5h2.5v0.25h-2.5zM437.75 325.5h1.25v0.25h-1.25zM440.25 325.5h0.5v0.25h-0.5zM433.75 325.75h2.75v0.25h-2.75zM438 325.75h1v0.25h-1zM439.5 325.75h0.25v0.25h-0.25zM440.5 325.75h0.25v0.25h-0.25zM433.75 326h1.25v0.25h-1.25zM435.5 326h1v0.25h-1zM438 326h1v0.25h-1zM439.5 326h0.25v0.25h-0.25zM433.5 326.25h1.25v0.25h-1.25zM435.5 326.25h1v0.25h-1zM438.25 326.25h0.5v0.25h-0.5zM433.5 326.5h1.25v0.25h-1.25zM435.5 326.5h1v0.25h-1zM433 326.75h1.5v0.25h-1.5zM435.5 326.75h0.75v0.25h-0.75zM432.75 327h1.75v0.25h-1.75zM435.5 327h0.75v0.25h-0.75zM432.5 327.25h2v0.25h-2zM435.5 327.25h0.75v0.25h-0.75zM432.5 327.5h1v0.25h-1zM434 327.5h0.25v0.25h-0.25zM435.5 327.5h0.75v0.25h-0.75zM441.25 327.5h0.25v0.25h-0.25zM432.25 327.75h1.25v0.25h-1.25zM434 327.75h0.25v0.25h-0.25zM435.5 327.75h0.5v0.25h-0.5zM441.25 327.75h0.25v0.25h-0.25zM432.25 328h1.25v0.25h-1.25zM434 328h0.25v0.25h-0.25zM435.5 328h0.5v0.25h-0.5zM441.25 328h0.25v0.25h-0.25zM432.25 328.25h1.25v0.25h-1.25zM434 328.25h0.25v0.25h-0.25zM435.5 328.25h0.5v0.25h-0.5zM432.25 328.5h1.25v0.25h-1.25zM434 328.5h0.25v0.25h-0.25zM435.5 328.5h0.5v0.25h-0.5zM432.25 328.75h1v0.25h-1zM434 328.75h0.25v0.25h-0.25zM435.5 328.75h0.5v0.25h-0.5zM432.25 329h0.5v0.25h-0.5zM434 329h0.25v0.25h-0.25zM435.25 329h0.75v0.25h-0.75zM432.5 329.25h0.25v0.25h-0.25zM434 329.25h0.25v0.25h-0.25zM435.25 329.25h0.75v0.25h-0.75zM430.5 329.5h0.25v0.25h-0.25zM435.25 329.5h1v0.25h-1zM438.25 329.5h0.5v0.25h-0.5zM430.5 329.75h0.25v0.25h-0.25zM435 329.75h1.25v0.25h-1.25zM438.25 329.75h0.5v0.25h-0.5zM429 330h0.25v0.25h-0.25zM430.5 330h0.25v0.25h-0.25zM435 330h1.25v0.25h-1.25zM438.25 330h0.5v0.25h-0.5zM440.5 330h0.25v0.25h-0.25zM430.5 330.25h0.25v0.25h-0.25zM435.5 330.25h0.75v0.25h-0.75zM438.25 330.25h0.75v0.25h-0.75zM440.5 330.25h0.25v0.25h-0.25zM430.5 330.5h0.25v0.25h-0.25zM435.5 330.5h0.75v0.25h-0.75zM438.25 330.5h0.75v0.25h-0.75zM440.25 330.5h0.5v0.25h-0.5zM435.75 330.75h0.5v0.25h-0.5zM438.25 330.75h0.75v0.25h-0.75zM440.25 330.75h0.5v0.25h-0.5zM435.75 331h0.25v0.25h-0.25zM438.25 331h0.75v0.25h-0.75zM440.25 331h0.5v0.25h-0.5zM438.5 331.25h0.5v0.25h-0.5zM440.25 331.25h0.5v0.25h-0.5zM436.75 331.5h0.5v0.25h-0.5zM438.5 331.5h0.5v0.25h-0.5zM440.5 331.5h0.25v0.25h-0.25zM436.75 331.75h0.5v0.25h-0.5zM438.75 331.75h0.25v0.25h-0.25zM435.5 332h0.25v0.25h-0.25zM436.75 332h0.5v0.25h-0.5zM432.5 332.25h0.5v0.25h-0.5zM435.25 332.25h0.75v0.25h-0.75zM436.5 332.25h0.75v0.25h-0.75zM441.75 332.25h0.5v0.25h-0.5zM432.5 332.5h0.5v0.25h-0.5zM435.25 332.5h0.75v0.25h-0.75zM436.5 332.5h0.75v0.25h-0.75zM441.25 332.5h0.25v0.25h-0.25zM441.75 332.5h0.5v0.25h-0.5zM430.75 332.75h0.5v0.25h-0.5zM432.5 332.75h0.5v0.25h-0.5zM435.25 332.75h0.75v0.25h-0.75zM436.5 332.75h0.75v0.25h-0.75zM441 332.75h1.25v0.25h-1.25zM430.75 333h0.5v0.25h-0.5zM432.25 333h0.75v0.25h-0.75zM435.25 333h0.75v0.25h-0.75zM436.75 333h0.5v0.25h-0.5zM441 333h1.25v0.25h-1.25zM430.75 333.25h0.5v0.25h-0.5zM432.25 333.25h0.75v0.25h-0.75zM435.25 333.25h0.75v0.25h-0.75zM436.75 333.25h0.25v0.25h-0.25zM441 333.25h1.25v0.25h-1.25zM430.75 333.5h0.75v0.25h-0.75zM432.25 333.5h0.75v0.25h-0.75zM435.5 333.5h0.5v0.25h-0.5zM441 333.5h1.25v0.25h-1.25zM426.75 333.75h0.5v0.25h-0.5zM430.75 333.75h0.75v0.25h-0.75zM432.25 333.75h0.75v0.25h-0.75zM439.5 333.75h0.5v0.25h-0.5zM440.75 333.75h1.5v0.25h-1.5zM426.75 334h0.5v0.25h-0.5zM430.75 334h0.75v0.25h-0.75zM432.25 334h0.75v0.25h-0.75zM439.5 334h0.75v0.25h-0.75zM440.75 334h1.5v0.25h-1.5zM426.75 334.25h0.5v0.25h-0.5zM430.75 334.25h0.75v0.25h-0.75zM432.25 334.25h0.75v0.25h-0.75zM439.5 334.25h0.75v0.25h-0.75zM440.75 334.25h1.5v0.25h-1.5zM426.75 334.5h0.5v0.25h-0.5zM430.75 334.5h0.75v0.25h-0.75zM432.25 334.5h0.75v0.25h-0.75zM439.5 334.5h0.75v0.25h-0.75zM440.75 334.5h1.5v0.25h-1.5zM426.75 334.75h0.5v0.25h-0.5zM430.75 334.75h0.75v0.25h-0.75zM432.25 334.75h0.75v0.25h-0.75zM439.5 334.75h1v0.25h-1zM440.75 334.75h1.5v0.25h-1.5zM426.75 335h0.25v0.25h-0.25zM431 335h0.5v0.25h-0.5zM432.5 335h0.25v0.25h-0.25zM434.25 335h0.5v0.25h-0.5zM439.5 335h1v0.25h-1zM441 335h1v0.25h-1zM431 335.25h0.5v0.25h-0.5zM432.5 335.25h0.25v0.25h-0.25zM434.25 335.25h0.5v0.25h-0.5zM438.75 335.25h0.25v0.25h-0.25zM439.5 335.25h1v0.25h-1zM441 335.25h1v0.25h-1zM431 335.5h0.5v0.25h-0.5zM432.5 335.5h0.25v0.25h-0.25zM434 335.5h0.75v0.25h-0.75zM436.25 335.5h0.25v0.25h-0.25zM437.5 335.5h0.25v0.25h-0.25zM438.75 335.5h0.25v0.25h-0.25zM439.75 335.5h0.75v0.25h-0.75zM441 335.5h1v0.25h-1zM431 335.75h0.5v0.25h-0.5zM432.5 335.75h0.25v0.25h-0.25zM434 335.75h1v0.25h-1zM436 335.75h0.5v0.25h-0.5zM437.25 335.75h0.5v0.25h-0.5zM439.75 335.75h0.75v0.25h-0.75zM441 335.75h1v0.25h-1zM430.75 336h0.75v0.25h-0.75zM432.5 336h0.25v0.25h-0.25zM434 336h1v0.25h-1zM436 336h0.75v0.25h-0.75zM437.25 336h0.75v0.25h-0.75zM441 336h1v0.25h-1zM430.75 336.25h0.75v0.25h-0.75zM434 336.25h1v0.25h-1zM435.75 336.25h1v0.25h-1zM437 336.25h1v0.25h-1zM441 336.25h1v0.25h-1zM430.75 336.5h0.75v0.25h-0.75zM432.5 336.5h0.25v0.25h-0.25zM434 336.5h1.25v0.25h-1.25zM435.75 336.5h1v0.25h-1zM437 336.5h1.25v0.25h-1.25zM441 336.5h1v0.25h-1zM431 336.75h0.5v0.25h-0.5zM432.5 336.75h0.25v0.25h-0.25zM434 336.75h1.25v0.25h-1.25zM435.75 336.75h1v0.25h-1zM437 336.75h1.25v0.25h-1.25zM441 336.75h1v0.25h-1zM431 337h0.5v0.25h-0.5zM432.5 337h0.25v0.25h-0.25zM434 337h1.25v0.25h-1.25zM435.5 337h1v0.25h-1zM437 337h1.25v0.25h-1.25zM441 337h1v0.25h-1zM426.5 337.25h0.25v0.25h-0.25zM431 337.25h0.5v0.25h-0.5zM432.5 337.25h0.25v0.25h-0.25zM434.25 337.25h1v0.25h-1zM435.5 337.25h1v0.25h-1zM437 337.25h1.25v0.25h-1.25zM441 337.25h0.75v0.25h-0.75zM426.5 337.5h0.25v0.25h-0.25zM431 337.5h0.25v0.25h-0.25zM434.25 337.5h2v0.25h-2zM437 337.5h1.25v0.25h-1.25zM441 337.5h0.75v0.25h-0.75zM426.5 337.75h0.25v0.25h-0.25zM431 337.75h0.25v0.25h-0.25zM434.5 337.75h0.5v0.25h-0.5zM435.25 337.75h0.75v0.25h-0.75zM437 337.75h1v0.25h-1zM441 337.75h0.75v0.25h-0.75zM426.5 338h0.25v0.25h-0.25zM434.5 338h0.5v0.25h-0.5zM435.5 338h0.25v0.25h-0.25zM437 338h1v0.25h-1zM441 338h0.75v0.25h-0.75zM435.5 338.25h0.25v0.25h-0.25zM437 338.25h0.75v0.25h-0.75zM441 338.25h0.5v0.25h-0.5zM437 338.5h0.75v0.25h-0.75zM441 338.5h0.5v0.25h-0.5zM437 338.75h0.75v0.25h-0.75zM441.25 338.75h0.25v0.25h-0.25zM430.5 339h0.5v0.25h-0.5zM437 339h0.75v0.25h-0.75zM441.25 339h0.25v0.25h-0.25zM430.25 339.25h0.75v0.25h-0.75zM433 339.25h0.5v0.25h-0.5zM437 339.25h0.75v0.25h-0.75zM430.25 339.5h1v0.25h-1zM432.75 339.5h1.25v0.25h-1.25zM437 339.5h0.75v0.25h-0.75zM430.25 339.75h1v0.25h-1zM432.5 339.75h1.75v0.25h-1.75zM437 339.75h0.75v0.25h-0.75zM430.25 340h1v0.25h-1zM432.5 340h1.75v0.25h-1.75zM437 340h1v0.25h-1zM430.25 340.25h1v0.25h-1zM432.5 340.25h1.75v0.25h-1.75zM437 340.25h1v0.25h-1zM430.25 340.5h1v0.25h-1zM432.5 340.5h1v0.25h-1zM433.75 340.5h0.5v0.25h-0.5zM437 340.5h1v0.25h-1zM430.25 340.75h1v0.25h-1zM432.5 340.75h1v0.25h-1zM437 340.75h0.75v0.25h-0.75zM430.25 341h1v0.25h-1zM432.5 341h0.75v0.25h-0.75zM437 341h0.75v0.25h-0.75zM430.25 341.25h1v0.25h-1zM432.5 341.25h0.75v0.25h-0.75zM436.75 341.25h1v0.25h-1zM430.25 341.5h1v0.25h-1zM432.5 341.5h0.75v0.25h-0.75zM436.75 341.5h0.75v0.25h-0.75zM430.25 341.75h1.25v0.25h-1.25zM432.5 341.75h0.75v0.25h-0.75zM436.75 341.75h0.5v0.25h-0.5zM438.5 341.75h0.25v0.25h-0.25zM430.5 342h1v0.25h-1zM432.5 342h0.75v0.25h-0.75zM436.75 342h0.5v0.25h-0.5zM438.5 342h0.25v0.25h-0.25zM430.5 342.25h1.25v0.25h-1.25zM432.5 342.25h1v0.25h-1zM435.75 342.25h0.25v0.25h-0.25zM436.5 342.25h0.25v0.25h-0.25zM426.25 342.5h0.25v0.25h-0.25zM430.5 342.5h1.25v0.25h-1.25zM432.5 342.5h1v0.25h-1zM435.5 342.5h0.5v0.25h-0.5zM436.5 342.5h0.25v0.25h-0.25zM426.25 342.75h0.25v0.25h-0.25zM430.5 342.75h1.25v0.25h-1.25zM432.5 342.75h1v0.25h-1zM435.5 342.75h1.25v0.25h-1.25zM426.25 343h0.5v0.25h-0.5zM430.5 343h1.25v0.25h-1.25zM432.75 343h0.75v0.25h-0.75zM435.5 343h1v0.25h-1zM438.25 343h0.25v0.25h-0.25zM440.75 343h0.25v0.25h-0.25zM442.5 343h0.25v0.25h-0.25zM426.25 343.25h0.5v0.25h-0.5zM430.5 343.25h1.25v0.25h-1.25zM432.75 343.25h0.75v0.25h-0.75zM435.5 343.25h1v0.25h-1zM438 343.25h0.5v0.25h-0.5zM440.5 343.25h0.5v0.25h-0.5zM442.25 343.25h0.5v0.25h-0.5zM424.25 343.5h0.5v0.25h-0.5zM426.25 343.5h0.5v0.25h-0.5zM430.5 343.5h1.25v0.25h-1.25zM432.75 343.5h0.75v0.25h-0.75zM435.5 343.5h0.75v0.25h-0.75zM438 343.5h0.5v0.25h-0.5zM440.5 343.5h0.5v0.25h-0.5zM442.25 343.5h0.5v0.25h-0.5zM424.25 343.75h0.5v0.25h-0.5zM426.25 343.75h0.5v0.25h-0.5zM430.5 343.75h1.25v0.25h-1.25zM432.75 343.75h0.5v0.25h-0.5zM435.5 343.75h0.75v0.25h-0.75zM438 343.75h0.5v0.25h-0.5zM440.5 343.75h0.75v0.25h-0.75zM442.25 343.75h0.5v0.25h-0.5zM424.25 344h0.5v0.25h-0.5zM426.25 344h0.5v0.25h-0.5zM430.75 344h0.75v0.25h-0.75zM432.75 344h0.5v0.25h-0.5zM435.5 344h0.75v0.25h-0.75zM438 344h0.5v0.25h-0.5zM440.5 344h0.75v0.25h-0.75zM442.25 344h0.5v0.25h-0.5zM424.25 344.25h0.5v0.25h-0.5zM426.25 344.25h0.5v0.25h-0.5zM430.75 344.25h0.5v0.25h-0.5zM432.75 344.25h0.5v0.25h-0.5zM435.5 344.25h0.75v0.25h-0.75zM438 344.25h0.5v0.25h-0.5zM440.75 344.25h0.25v0.25h-0.25zM442.5 344.25h0.25v0.25h-0.25zM426.25 344.5h0.5v0.25h-0.5zM430.75 344.5h0.5v0.25h-0.5zM432.75 344.5h0.5v0.25h-0.5zM435.25 344.5h1v0.25h-1zM438 344.5h0.5v0.25h-0.5zM442.5 344.5h0.25v0.25h-0.25zM426.25 344.75h0.5v0.25h-0.5zM432.75 344.75h0.5v0.25h-0.5zM435.25 344.75h1v0.25h-1zM438 344.75h0.5v0.25h-0.5zM426.5 345h0.25v0.25h-0.25zM433 345h0.25v0.25h-0.25zM435.25 345h1.25v0.25h-1.25zM438 345h0.5v0.25h-0.5zM425.25 345.25h0.25v0.25h-0.25zM426.5 345.25h0.25v0.25h-0.25zM433 345.25h0.25v0.25h-0.25zM435.25 345.25h1.25v0.25h-1.25zM438 345.25h0.5v0.25h-0.5zM425.25 345.5h0.25v0.25h-0.25zM435.25 345.5h1.25v0.25h-1.25zM438 345.5h0.75v0.25h-0.75zM425.25 345.75h0.5v0.25h-0.5zM427.75 345.75h0.25v0.25h-0.25zM435.25 345.75h1.25v0.25h-1.25zM437.75 345.75h1v0.25h-1zM425.25 346h0.5v0.25h-0.5zM427.5 346h0.5v0.25h-0.5zM430.5 346h0.25v0.25h-0.25zM435.5 346h1v0.25h-1zM437.75 346h1.25v0.25h-1.25zM425.25 346.25h0.75v0.25h-0.75zM427.5 346.25h0.75v0.25h-0.75zM430.5 346.25h0.25v0.25h-0.25zM433 346.25h0.25v0.25h-0.25zM435.5 346.25h0.25v0.25h-0.25zM436.25 346.25h0.25v0.25h-0.25zM437.5 346.25h1.5v0.25h-1.5zM425.25 346.5h0.75v0.25h-0.75zM427.5 346.5h0.75v0.25h-0.75zM430.25 346.5h0.75v0.25h-0.75zM433 346.5h0.5v0.25h-0.5zM437.25 346.5h2v0.25h-2zM425.25 346.75h0.75v0.25h-0.75zM427.5 346.75h0.75v0.25h-0.75zM430.25 346.75h0.75v0.25h-0.75zM433 346.75h0.5v0.25h-0.5zM437.25 346.75h2v0.25h-2zM425.5 347h0.5v0.25h-0.5zM427.5 347h1v0.25h-1zM430.25 347h0.75v0.25h-0.75zM433 347h0.75v0.25h-0.75zM437.25 347h2.25v0.25h-2.25zM425.5 347.25h0.25v0.25h-0.25zM427.5 347.25h1.25v0.25h-1.25zM430.25 347.25h0.75v0.25h-0.75zM433 347.25h0.75v0.25h-0.75zM436.5 347.25h3.25v0.25h-3.25zM427.5 347.5h1.5v0.25h-1.5zM430.25 347.5h0.5v0.25h-0.5zM433 347.5h1v0.25h-1zM436.5 347.5h3.25v0.25h-3.25zM427.75 347.75h1.25v0.25h-1.25zM430.25 347.75h0.5v0.25h-0.5zM433 347.75h1v0.25h-1zM436.5 347.75h3.5v0.25h-3.5zM441.75 347.75h0.25v0.25h-0.25zM427.75 348h1.25v0.25h-1.25zM430.25 348h0.5v0.25h-0.5zM433 348h1v0.25h-1zM436.5 348h3.5v0.25h-3.5zM441.75 348h0.25v0.25h-0.25zM427.75 348.25h1.25v0.25h-1.25zM430.25 348.25h0.5v0.25h-0.5zM433 348.25h1v0.25h-1zM436.5 348.25h3.75v0.25h-3.75zM441.75 348.25h0.25v0.25h-0.25zM428 348.5h1v0.25h-1zM430.5 348.5h0.25v0.25h-0.25zM433.25 348.5h1v0.25h-1zM436.5 348.5h0.75v0.25h-0.75zM437.5 348.5h2.75v0.25h-2.75zM441.75 348.5h0.25v0.25h-0.25zM428 348.75h0.25v0.25h-0.25zM428.5 348.75h0.5v0.25h-0.5zM433.25 348.75h1v0.25h-1zM435.25 348.75h0.25v0.25h-0.25zM436.25 348.75h0.75v0.25h-0.75zM437.5 348.75h2.75v0.25h-2.75zM441.75 348.75h0.25v0.25h-0.25zM433.5 349h0.75v0.25h-0.75zM435.25 349h1.75v0.25h-1.75zM437.75 349h2.5v0.25h-2.5zM441.75 349h0.5v0.25h-0.5zM433.5 349.25h0.5v0.25h-0.5zM435 349.25h2v0.25h-2zM437.75 349.25h0.75v0.25h-0.75zM438.75 349.25h1.5v0.25h-1.5zM442 349.25h0.25v0.25h-0.25zM433.75 349.5h0.25v0.25h-0.25zM435 349.5h2v0.25h-2zM437.75 349.5h0.75v0.25h-0.75zM439 349.5h1.25v0.25h-1.25zM442 349.5h0.25v0.25h-0.25zM443.75 349.5h0.25v0.25h-0.25zM435 349.75h2v0.25h-2zM438 349.75h0.25v0.25h-0.25zM439 349.75h1.25v0.25h-1.25zM442 349.75h0.5v0.25h-0.5zM443.75 349.75h0.25v0.25h-0.25zM435 350h2v0.25h-2zM439.25 350h0.75v0.25h-0.75zM442 350h0.5v0.25h-0.5zM443.75 350h0.25v0.25h-0.25zM435 350.25h2v0.25h-2zM439.25 350.25h0.75v0.25h-0.75zM442.25 350.25h0.25v0.25h-0.25zM432.5 350.5h0.25v0.25h-0.25zM435 350.5h2v0.25h-2zM439.5 350.5h0.25v0.25h-0.25zM432.25 350.75h0.5v0.25h-0.5zM435 350.75h2.25v0.25h-2.25zM432.25 351h0.5v0.25h-0.5zM435 351h1.25v0.25h-1.25zM436.75 351h0.75v0.25h-0.75zM427.5 351.25h0.25v0.25h-0.25zM430.5 351.25h0.5v0.25h-0.5zM432 351.25h0.75v0.25h-0.75zM435 351.25h1v0.25h-1zM436.75 351.25h1v0.25h-1zM427.5 351.5h0.25v0.25h-0.25zM430.5 351.5h1v0.25h-1zM432 351.5h0.75v0.25h-0.75zM435 351.5h1v0.25h-1zM436.75 351.5h1v0.25h-1zM438.25 351.5h0.5v0.25h-0.5zM427.5 351.75h0.25v0.25h-0.25zM430.25 351.75h1.5v0.25h-1.5zM432 351.75h0.75v0.25h-0.75zM433.5 351.75h0.25v0.25h-0.25zM434.75 351.75h1v0.25h-1zM436.75 351.75h1v0.25h-1zM438.25 351.75h0.75v0.25h-0.75zM427.5 352h0.25v0.25h-0.25zM430.25 352h1.25v0.25h-1.25zM432 352h0.75v0.25h-0.75zM433.5 352h0.25v0.25h-0.25zM434.75 352h1v0.25h-1zM436.75 352h1v0.25h-1zM438.25 352h1v0.25h-1zM430.25 352.25h1.25v0.25h-1.25zM432 352.25h0.75v0.25h-0.75zM433.5 352.25h0.5v0.25h-0.5zM434.75 352.25h1v0.25h-1zM436.75 352.25h1v0.25h-1zM438.25 352.25h1.25v0.25h-1.25zM430.25 352.5h1v0.25h-1zM432 352.5h0.75v0.25h-0.75zM433.25 352.5h0.75v0.25h-0.75zM434.75 352.5h0.75v0.25h-0.75zM437 352.5h0.5v0.25h-0.5zM438.25 352.5h1.25v0.25h-1.25zM430.5 352.75h0.5v0.25h-0.5zM432 352.75h0.75v0.25h-0.75zM433.25 352.75h0.75v0.25h-0.75zM434.75 352.75h0.75v0.25h-0.75zM437 352.75h0.5v0.25h-0.5zM438.25 352.75h1.25v0.25h-1.25zM432.25 353h0.5v0.25h-0.5zM433.25 353h0.75v0.25h-0.75zM435 353h0.5v0.25h-0.5zM437 353h0.5v0.25h-0.5zM438.25 353h1.25v0.25h-1.25zM440.75 353h0.5v0.25h-0.5zM432.25 353.25h1.75v0.25h-1.75zM435 353.25h0.5v0.25h-0.5zM437 353.25h0.5v0.25h-0.5zM438.25 353.25h1.25v0.25h-1.25zM440.75 353.25h0.5v0.25h-0.5zM432.25 353.5h1.75v0.25h-1.75zM435 353.5h0.25v0.25h-0.25zM437.25 353.5h0.25v0.25h-0.25zM438.25 353.5h1.25v0.25h-1.25zM440.75 353.5h0.75v0.25h-0.75zM432.5 353.75h1.5v0.25h-1.5zM435 353.75h0.25v0.25h-0.25zM438.25 353.75h1.25v0.25h-1.25zM440.5 353.75h1v0.25h-1zM432.5 354h1.5v0.25h-1.5zM438.25 354h1.25v0.25h-1.25zM440.5 354h1v0.25h-1zM432.5 354.25h1.5v0.25h-1.5zM438 354.25h1.25v0.25h-1.25zM440.5 354.25h1v0.25h-1zM432.5 354.5h1.5v0.25h-1.5zM438 354.5h1.25v0.25h-1.25zM441.25 354.5h0.25v0.25h-0.25zM432.5 354.75h1.25v0.25h-1.25zM438 354.75h1.25v0.25h-1.25zM432.5 355h1.25v0.25h-1.25zM438 355h1v0.25h-1zM432.5 355.25h1.25v0.25h-1.25zM438 355.25h1v0.25h-1zM432.5 355.5h1v0.25h-1zM434.5 355.5h0.5v0.25h-0.5zM438 355.5h1v0.25h-1zM432.5 355.75h1v0.25h-1zM434.25 355.75h0.75v0.25h-0.75zM438 355.75h1v0.25h-1zM440.25 355.75h0.25v0.25h-0.25zM432.5 356h1v0.25h-1zM434.25 356h0.75v0.25h-0.75zM438 356h1v0.25h-1zM440 356h0.5v0.25h-0.5zM432.5 356.25h0.75v0.25h-0.75zM434 356.25h1v0.25h-1zM438.25 356.25h0.75v0.25h-0.75zM440 356.25h0.75v0.25h-0.75zM432.5 356.5h0.5v0.25h-0.5zM434 356.5h1v0.25h-1zM438.25 356.5h0.75v0.25h-0.75zM440 356.5h0.75v0.25h-0.75zM432.5 356.75h0.25v0.25h-0.25zM434 356.75h1v0.25h-1zM438.25 356.75h0.75v0.25h-0.75zM440 356.75h0.75v0.25h-0.75zM434 357h1v0.25h-1zM438.5 357h0.5v0.25h-0.5zM440 357h0.75v0.25h-0.75zM434 357.25h1v0.25h-1zM438.5 357.25h0.5v0.25h-0.5zM440 357.25h1v0.25h-1zM434 357.5h1v0.25h-1zM438.75 357.5h0.25v0.25h-0.25zM440 357.5h1v0.25h-1zM434 357.75h1v0.25h-1zM440 357.75h1v0.25h-1zM442.75 357.75h0.25v0.25h-0.25zM434.25 358h0.75v0.25h-0.75zM440 358h1v0.25h-1zM442.75 358h0.25v0.25h-0.25zM434.25 358.25h0.75v0.25h-0.75zM435.75 358.25h0.5v0.25h-0.5zM440 358.25h1.25v0.25h-1.25zM442.5 358.25h0.5v0.25h-0.5zM434.25 358.5h0.75v0.25h-0.75zM435.5 358.5h1v0.25h-1zM440.25 358.5h1v0.25h-1zM442.5 358.5h0.75v0.25h-0.75zM433.25 358.75h0.25v0.25h-0.25zM434.25 358.75h0.75v0.25h-0.75zM435.5 358.75h1v0.25h-1zM440.25 358.75h1v0.25h-1zM442.5 358.75h0.75v0.25h-0.75zM433.25 359h0.25v0.25h-0.25zM434.25 359h0.75v0.25h-0.75zM435.5 359h1v0.25h-1zM440.5 359h0.75v0.25h-0.75zM442.5 359h0.75v0.25h-0.75zM433.25 359.25h0.25v0.25h-0.25zM434.25 359.25h0.5v0.25h-0.5zM435.5 359.25h1v0.25h-1zM440.5 359.25h0.75v0.25h-0.75zM442.5 359.25h0.75v0.25h-0.75zM433.25 359.5h0.5v0.25h-0.5zM434.25 359.5h0.5v0.25h-0.5zM435.5 359.5h1v0.25h-1zM442.5 359.5h0.5v0.25h-0.5zM433.25 359.75h0.5v0.25h-0.5zM434.25 359.75h0.5v0.25h-0.5zM435.5 359.75h1.25v0.25h-1.25zM442.5 359.75h0.5v0.25h-0.5zM433 360h0.75v0.25h-0.75zM434.25 360h0.25v0.25h-0.25zM435.5 360h1.25v0.25h-1.25zM442.5 360h0.5v0.25h-0.5zM433 360.25h1.5v0.25h-1.5zM435.5 360.25h1v0.25h-1zM442.75 360.25h0.25v0.25h-0.25zM432.5 360.5h2v0.25h-2zM435.75 360.5h0.75v0.25h-0.75zM432.5 360.75h2v0.25h-2zM435.75 360.75h0.75v0.25h-0.75zM440.5 360.75h0.25v0.25h-0.25zM441 360.75h0.5v0.25h-0.5zM432.5 361h2v0.25h-2zM435.75 361h0.75v0.25h-0.75zM440.25 361h1.25v0.25h-1.25zM432.5 361.25h0.5v0.25h-0.5zM433.5 361.25h1v0.25h-1zM436 361.25h0.5v0.25h-0.5zM440.25 361.25h1.25v0.25h-1.25zM432.5 361.5h0.25v0.25h-0.25zM433.75 361.5h0.75v0.25h-0.75zM436.25 361.5h0.25v0.25h-0.25zM440.25 361.5h1.25v0.25h-1.25zM432.5 361.75h0.25v0.25h-0.25zM433.75 361.75h1v0.25h-1zM440 361.75h1.75v0.25h-1.75zM433.75 362h1v0.25h-1zM439.75 362h2v0.25h-2zM433.75 362.25h1.5v0.25h-1.5zM438.75 362.25h0.25v0.25h-0.25zM439.25 362.25h2.25v0.25h-2.25zM433.75 362.5h1.5v0.25h-1.5zM438.5 362.5h3v0.25h-3zM433.75 362.75h1.5v0.25h-1.5zM438.5 362.75h2.25v0.25h-2.25zM433.75 363h1.5v0.25h-1.5zM438.5 363h2v0.25h-2zM433.75 363.25h1.5v0.25h-1.5zM438.5 363.25h1.75v0.25h-1.75zM433.75 363.5h1.5v0.25h-1.5zM438.5 363.5h0.5v0.25h-0.5zM439.25 363.5h1v0.25h-1zM432.5 363.75h0.25v0.25h-0.25zM433.75 363.75h1.25v0.25h-1.25zM437.75 363.75h0.25v0.25h-0.25zM438.75 363.75h0.25v0.25h-0.25zM439.5 363.75h0.75v0.25h-0.75zM432.25 364h0.5v0.25h-0.5zM433.75 364h1.25v0.25h-1.25zM437.75 364h0.25v0.25h-0.25zM439.5 364h0.75v0.25h-0.75zM432.25 364.25h0.5v0.25h-0.5zM433.75 364.25h1.25v0.25h-1.25zM437.75 364.25h0.25v0.25h-0.25zM438.75 364.25h0.25v0.25h-0.25zM439.5 364.25h1v0.25h-1zM432.25 364.5h0.5v0.25h-0.5zM433.75 364.5h1.25v0.25h-1.25zM437.75 364.5h0.25v0.25h-0.25zM438.75 364.5h0.25v0.25h-0.25zM439.5 364.5h1v0.25h-1zM432.25 364.75h0.5v0.25h-0.5zM433.75 364.75h1v0.25h-1zM437.75 364.75h0.5v0.25h-0.5zM438.5 364.75h0.75v0.25h-0.75zM439.5 364.75h1v0.25h-1zM432.25 365h0.5v0.25h-0.5zM433.75 365h1v0.25h-1zM436.25 365h0.25v0.25h-0.25zM437.75 365h1.5v0.25h-1.5zM439.5 365h1.25v0.25h-1.25zM432.25 365.25h0.5v0.25h-0.5zM433.75 365.25h1v0.25h-1zM436.25 365.25h0.25v0.25h-0.25zM437.75 365.25h1.5v0.25h-1.5zM439.5 365.25h1.25v0.25h-1.25zM432.25 365.5h0.5v0.25h-0.5zM433.75 365.5h1v0.25h-1zM436 365.5h0.75v0.25h-0.75zM437.75 365.5h1.5v0.25h-1.5zM439.75 365.5h1.5v0.25h-1.5zM432.5 365.75h0.25v0.25h-0.25zM433.75 365.75h1v0.25h-1zM436 365.75h1.25v0.25h-1.25zM437.75 365.75h1.5v0.25h-1.5zM439.75 365.75h1.5v0.25h-1.5zM432.5 366h0.25v0.25h-0.25zM433.75 366h1v0.25h-1zM436 366h1.25v0.25h-1.25zM437.75 366h1.5v0.25h-1.5zM439.75 366h1.75v0.25h-1.75zM432.5 366.25h0.25v0.25h-0.25zM433.5 366.25h1.25v0.25h-1.25zM436 366.25h1.25v0.25h-1.25zM437.75 366.25h1.5v0.25h-1.5zM439.75 366.25h1.75v0.25h-1.75zM443.5 366.25h0.5v0.25h-0.5zM432.5 366.5h0.25v0.25h-0.25zM433.5 366.5h1.25v0.25h-1.25zM436.25 366.5h1v0.25h-1zM437.5 366.5h1.75v0.25h-1.75zM439.75 366.5h1.75v0.25h-1.75zM443.5 366.5h0.5v0.25h-0.5zM433.5 366.75h1.25v0.25h-1.25zM436.25 366.75h1v0.25h-1zM437.5 366.75h1.75v0.25h-1.75zM440 366.75h1.5v0.25h-1.5zM443.5 366.75h0.75v0.25h-0.75zM433.5 367h1.25v0.25h-1.25zM436.25 367h0.75v0.25h-0.75zM437.5 367h1.75v0.25h-1.75zM440 367h0.5v0.25h-0.5zM440.75 367h0.75v0.25h-0.75zM443.5 367h0.75v0.25h-0.75zM433.75 367.25h0.25v0.25h-0.25zM434.5 367.25h0.25v0.25h-0.25zM437.75 367.25h1.5v0.25h-1.5zM440 367.25h0.5v0.25h-0.5zM440.75 367.25h0.75v0.25h-0.75zM443.5 367.25h0.75v0.25h-0.75zM437.75 367.5h1.5v0.25h-1.5zM440 367.5h0.5v0.25h-0.5zM440.75 367.5h0.75v0.25h-0.75zM443.5 367.5h0.75v0.25h-0.75zM438 367.75h1v0.25h-1zM440 367.75h0.5v0.25h-0.5zM440.75 367.75h0.75v0.25h-0.75zM443.5 367.75h0.5v0.25h-0.5zM438.25 368h0.75v0.25h-0.75zM440 368h0.5v0.25h-0.5zM440.75 368h0.75v0.25h-0.75zM443.75 368h0.25v0.25h-0.25zM440 368.25h0.5v0.25h-0.5zM440.75 368.25h0.75v0.25h-0.75zM440 368.5h0.5v0.25h-0.5zM440.75 368.5h0.75v0.25h-0.75zM436.25 368.75h0.25v0.25h-0.25zM440 368.75h0.5v0.25h-0.5zM440.75 368.75h0.75v0.25h-0.75zM436 369h0.75v0.25h-0.75zM440 369h1.5v0.25h-1.5zM436 369.25h0.75v0.25h-0.75zM440 369.25h1.5v0.25h-1.5zM435.75 369.5h1v0.25h-1zM440 369.5h1.5v0.25h-1.5zM445 369.5h0.25v0.25h-0.25zM435.75 369.75h1v0.25h-1zM440 369.75h1v0.25h-1zM441.25 369.75h0.25v0.25h-0.25zM445 369.75h0.25v0.25h-0.25zM435.75 370h1v0.25h-1zM440 370h0.75v0.25h-0.75zM435.75 370.25h1v0.25h-1zM437 370.25h0.5v0.25h-0.5zM440 370.25h0.75v0.25h-0.75zM435.75 370.5h1v0.25h-1zM437 370.5h0.25v0.25h-0.25zM440 370.5h0.75v0.25h-0.75zM435.75 370.75h1v0.25h-1zM440 370.75h0.75v0.25h-0.75zM435.75 371h0.75v0.25h-0.75zM440 371h0.75v0.25h-0.75zM435.75 371.25h0.75v0.25h-0.75zM440 371.25h0.75v0.25h-0.75zM435.75 371.5h0.75v0.25h-0.75zM440.25 371.5h0.5v0.25h-0.5zM436 371.75h0.25v0.25h-0.25zM439 371.75h0.25v0.25h-0.25zM440.25 371.75h0.5v0.25h-0.5zM434 372h0.25v0.25h-0.25zM439 372h0.25v0.25h-0.25zM440.25 372h0.5v0.25h-0.5zM434 372.25h0.25v0.25h-0.25zM437 372.25h0.25v0.25h-0.25zM439 372.25h0.25v0.25h-0.25zM440.25 372.25h0.5v0.25h-0.5zM434 372.5h0.25v0.25h-0.25zM436.75 372.5h0.5v0.25h-0.5zM439 372.5h0.25v0.25h-0.25zM440.5 372.5h0.25v0.25h-0.25zM432.75 372.75h0.75v0.25h-0.75zM433.75 372.75h0.25v0.25h-0.25zM436.75 372.75h0.5v0.25h-0.5zM439 372.75h0.25v0.25h-0.25zM440.5 372.75h0.25v0.25h-0.25zM432.75 373h1.25v0.25h-1.25zM436.75 373h0.5v0.25h-0.5zM439 373h0.25v0.25h-0.25zM432.75 373.25h1.25v0.25h-1.25zM436.75 373.25h0.5v0.25h-0.5zM439 373.25h0.25v0.25h-0.25zM432.75 373.5h1.25v0.25h-1.25zM436.75 373.5h0.5v0.25h-0.5zM439 373.5h0.25v0.25h-0.25zM432.75 373.75h1.25v0.25h-1.25zM436.75 373.75h0.5v0.25h-0.5zM439 373.75h0.25v0.25h-0.25zM432.75 374h1.25v0.25h-1.25zM437 374h0.25v0.25h-0.25zM439 374h0.25v0.25h-0.25zM432.75 374.25h1.25v0.25h-1.25zM438.75 374.25h0.5v0.25h-0.5zM433 374.5h1v0.25h-1zM438.75 374.5h0.75v0.25h-0.75zM441.25 374.5h0.25v0.25h-0.25zM433 374.75h0.75v0.25h-0.75zM438.5 374.75h1v0.25h-1zM441.25 374.75h0.25v0.25h-0.25zM433 375h0.75v0.25h-0.75zM438.5 375h1v0.25h-1zM441 375h0.5v0.25h-0.5zM430.75 375.25h0.25v0.25h-0.25zM433 375.25h0.75v0.25h-0.75zM438.5 375.25h1v0.25h-1zM441 375.25h0.5v0.25h-0.5zM430.5 375.5h1v0.25h-1zM433 375.5h0.75v0.25h-0.75zM438.5 375.5h1v0.25h-1zM441 375.5h0.5v0.25h-0.5zM430.5 375.75h1.25v0.25h-1.25zM433 375.75h0.75v0.25h-0.75zM438.5 375.75h1v0.25h-1zM440.75 375.75h0.75v0.25h-0.75zM430.5 376h1.25v0.25h-1.25zM433 376h0.75v0.25h-0.75zM438.5 376h1v0.25h-1zM440.75 376h0.5v0.25h-0.5zM430.5 376.25h1.25v0.25h-1.25zM433 376.25h0.75v0.25h-0.75zM438.75 376.25h0.75v0.25h-0.75zM440.75 376.25h0.5v0.25h-0.5zM430.5 376.5h1.5v0.25h-1.5zM433 376.5h0.75v0.25h-0.75zM437.5 376.5h0.25v0.25h-0.25zM438.75 376.5h0.75v0.25h-0.75zM440.75 376.5h0.5v0.25h-0.5zM430.5 376.75h1.5v0.25h-1.5zM433 376.75h0.5v0.25h-0.5zM434.25 376.75h0.25v0.25h-0.25zM437 376.75h0.75v0.25h-0.75zM438.75 376.75h0.75v0.25h-0.75zM440.75 376.75h0.25v0.25h-0.25zM430.5 377h1.5v0.25h-1.5zM433 377h0.5v0.25h-0.5zM434.25 377h0.25v0.25h-0.25zM437 377h0.75v0.25h-0.75zM438.75 377h0.75v0.25h-0.75zM440.75 377h0.25v0.25h-0.25zM430.5 377.25h1.5v0.25h-1.5zM433 377.25h0.25v0.25h-0.25zM434.25 377.25h0.25v0.25h-0.25zM436.75 377.25h1v0.25h-1zM438.75 377.25h0.75v0.25h-0.75zM430.5 377.5h1.5v0.25h-1.5zM434.25 377.5h0.25v0.25h-0.25zM436.75 377.5h1v0.25h-1zM438.75 377.5h0.75v0.25h-0.75zM430.5 377.75h1.5v0.25h-1.5zM434.25 377.75h0.25v0.25h-0.25zM436.75 377.75h1.25v0.25h-1.25zM438.75 377.75h0.75v0.25h-0.75zM430.5 378h1.25v0.25h-1.25zM434.25 378h0.25v0.25h-0.25zM436.75 378h1.25v0.25h-1.25zM438.75 378h1v0.25h-1zM431 378.25h0.75v0.25h-0.75zM434.25 378.25h0.25v0.25h-0.25zM436.75 378.25h1.25v0.25h-1.25zM438.75 378.25h1v0.25h-1zM431.25 378.5h0.5v0.25h-0.5zM434 378.5h0.5v0.25h-0.5zM436.75 378.5h1v0.25h-1zM438.75 378.5h1v0.25h-1zM429.25 378.75h0.5v0.25h-0.5zM431.25 378.75h0.5v0.25h-0.5zM434 378.75h0.5v0.25h-0.5zM436.75 378.75h1v0.25h-1zM438.75 378.75h1v0.25h-1zM440.25 378.75h0.25v0.25h-0.25zM429.25 379h0.5v0.25h-0.5zM431.25 379h0.25v0.25h-0.25zM434 379h0.5v0.25h-0.5zM436.5 379h1.25v0.25h-1.25zM438.75 379h1.75v0.25h-1.75zM429.25 379.25h0.5v0.25h-0.5zM433.75 379.25h0.75v0.25h-0.75zM436.5 379.25h1v0.25h-1zM438.75 379.25h1.75v0.25h-1.75zM429.25 379.5h0.5v0.25h-0.5zM433.75 379.5h0.75v0.25h-0.75zM435.25 379.5h0.25v0.25h-0.25zM436.5 379.5h1v0.25h-1zM438.75 379.5h1.75v0.25h-1.75zM429.25 379.75h0.5v0.25h-0.5zM430.25 379.75h0.25v0.25h-0.25zM433.75 379.75h0.75v0.25h-0.75zM435.25 379.75h0.5v0.25h-0.5zM436.25 379.75h1.25v0.25h-1.25zM438.75 379.75h1.25v0.25h-1.25zM440.25 379.75h0.25v0.25h-0.25zM429.25 380h0.5v0.25h-0.5zM430.25 380h0.25v0.25h-0.25zM433.75 380h0.75v0.25h-0.75zM435.25 380h0.5v0.25h-0.5zM436.25 380h1.25v0.25h-1.25zM438.75 380h1.25v0.25h-1.25zM440.25 380h0.25v0.25h-0.25zM442.5 380h0.25v0.25h-0.25zM429.25 380.25h0.5v0.25h-0.5zM430.25 380.25h0.25v0.25h-0.25zM433.5 380.25h1v0.25h-1zM435.25 380.25h2v0.25h-2zM439.25 380.25h0.5v0.25h-0.5zM440.25 380.25h0.25v0.25h-0.25zM442.5 380.25h0.25v0.25h-0.25zM429.25 380.5h0.5v0.25h-0.5zM430.25 380.5h0.25v0.25h-0.25zM433.5 380.5h1v0.25h-1zM435.25 380.5h2v0.25h-2zM439.25 380.5h0.5v0.25h-0.5zM440.25 380.5h0.5v0.25h-0.5zM442.5 380.5h0.5v0.25h-0.5zM429.25 380.75h0.5v0.25h-0.5zM430.25 380.75h0.25v0.25h-0.25zM433.5 380.75h1v0.25h-1zM435.25 380.75h2v0.25h-2zM439.5 380.75h0.25v0.25h-0.25zM440.25 380.75h0.5v0.25h-0.5zM442.5 380.75h0.5v0.25h-0.5zM429.25 381h0.5v0.25h-0.5zM433.5 381h1v0.25h-1zM435.25 381h2v0.25h-2zM439.5 381h0.5v0.25h-0.5zM440.25 381h0.5v0.25h-0.5zM442.5 381h0.5v0.25h-0.5zM429.25 381.25h0.25v0.25h-0.25zM433.5 381.25h1v0.25h-1zM435.25 381.25h2v0.25h-2zM439.5 381.25h0.25v0.25h-0.25zM440.25 381.25h0.5v0.25h-0.5zM442.5 381.25h0.25v0.25h-0.25zM429.25 381.5h0.25v0.25h-0.25zM433.5 381.5h1v0.25h-1zM435.25 381.5h2v0.25h-2zM439.5 381.5h0.25v0.25h-0.25zM440.25 381.5h0.5v0.25h-0.5zM442.5 381.5h0.25v0.25h-0.25zM433.5 381.75h1.25v0.25h-1.25zM435.25 381.75h2v0.25h-2zM437.5 381.75h0.5v0.25h-0.5zM439.5 381.75h0.25v0.25h-0.25zM440 381.75h0.75v0.25h-0.75zM433.5 382h1.25v0.25h-1.25zM435.25 382h2v0.25h-2zM437.5 382h0.75v0.25h-0.75zM440 382h0.75v0.25h-0.75zM433.5 382.25h1.5v0.25h-1.5zM435.5 382.25h1.75v0.25h-1.75zM437.5 382.25h0.75v0.25h-0.75zM440 382.25h1v0.25h-1zM433.5 382.5h1.5v0.25h-1.5zM435.5 382.5h1.5v0.25h-1.5zM437.5 382.5h0.75v0.25h-0.75zM440 382.5h1v0.25h-1zM430 382.75h0.25v0.25h-0.25zM433.5 382.75h1.5v0.25h-1.5zM435.5 382.75h1.5v0.25h-1.5zM437.5 382.75h0.75v0.25h-0.75zM440 382.75h1v0.25h-1zM430 383h0.25v0.25h-0.25zM433.5 383h1.75v0.25h-1.75zM435.5 383h0.25v0.25h-0.25zM436.25 383h0.75v0.25h-0.75zM437.75 383h0.5v0.25h-0.5zM440 383h1v0.25h-1zM430 383.25h0.25v0.25h-0.25zM433.5 383.25h1.75v0.25h-1.75zM435.5 383.25h0.25v0.25h-0.25zM436.25 383.25h0.5v0.25h-0.5zM437.75 383.25h0.5v0.25h-0.5zM440 383.25h0.75v0.25h-0.75zM426.75 383.5h0.25v0.25h-0.25zM430 383.5h0.25v0.25h-0.25zM433.5 383.5h2.25v0.25h-2.25zM436.5 383.5h0.25v0.25h-0.25zM437.75 383.5h0.5v0.25h-0.5zM440 383.5h0.75v0.25h-0.75zM426.75 383.75h0.5v0.25h-0.5zM430 383.75h0.25v0.25h-0.25zM433.5 383.75h2.25v0.25h-2.25zM437.75 383.75h0.5v0.25h-0.5zM440 383.75h0.75v0.25h-0.75zM426.75 384h0.5v0.25h-0.5zM430 384h0.25v0.25h-0.25zM433.75 384h2v0.25h-2zM437.75 384h0.5v0.25h-0.5zM440 384h0.75v0.25h-0.75zM426.75 384.25h0.5v0.25h-0.5zM433.75 384.25h2v0.25h-2zM437.75 384.25h0.5v0.25h-0.5zM440.25 384.25h0.25v0.25h-0.25zM427 384.5h0.25v0.25h-0.25zM433.5 384.5h2.25v0.25h-2.25zM437.75 384.5h0.75v0.25h-0.75zM428.75 384.75h0.25v0.25h-0.25zM433.75 384.75h1.75v0.25h-1.75zM437.75 384.75h0.75v0.25h-0.75zM428.75 385h0.25v0.25h-0.25zM433.75 385h1.5v0.25h-1.5zM437.75 385h0.75v0.25h-0.75zM428.5 385.25h0.75v0.25h-0.75zM433.75 385.25h1.25v0.25h-1.25zM437.75 385.25h0.75v0.25h-0.75zM428.5 385.5h0.75v0.25h-0.75zM433.75 385.5h0.25v0.25h-0.25zM437.75 385.5h0.75v0.25h-0.75zM443.5 385.5h0.5v0.25h-0.5zM428.5 385.75h0.75v0.25h-0.75zM433.75 385.75h0.25v0.25h-0.25zM437.75 385.75h0.5v0.25h-0.5zM443.5 385.75h0.5v0.25h-0.5zM428.5 386h0.75v0.25h-0.75zM440.75 386h0.25v0.25h-0.25zM443.25 386h0.75v0.25h-0.75zM428.5 386.25h0.75v0.25h-0.75zM440.5 386.25h0.75v0.25h-0.75zM443.25 386.25h0.75v0.25h-0.75zM428.5 386.5h0.75v0.25h-0.75zM440.5 386.5h0.75v0.25h-0.75zM443 386.5h1v0.25h-1zM428.5 386.75h0.75v0.25h-0.75zM440.5 386.75h1v0.25h-1zM443 386.75h1v0.25h-1zM428.5 387h0.75v0.25h-0.75zM433.5 387h0.25v0.25h-0.25zM440.5 387h1v0.25h-1zM443 387h1v0.25h-1zM428.5 387.25h0.75v0.25h-0.75zM433.5 387.25h0.25v0.25h-0.25zM440.5 387.25h1v0.25h-1zM443 387.25h1v0.25h-1zM428.5 387.5h0.5v0.25h-0.5zM433.5 387.5h0.25v0.25h-0.25zM440.5 387.5h1v0.25h-1zM443.25 387.5h0.75v0.25h-0.75zM428.75 387.75h0.25v0.25h-0.25zM433.5 387.75h0.25v0.25h-0.25zM440.5 387.75h1v0.25h-1zM425.75 388h0.25v0.25h-0.25zM433.25 388h0.5v0.25h-0.5zM440.5 388h0.75v0.25h-0.75zM425.75 388.25h0.25v0.25h-0.25zM433.25 388.25h0.5v0.25h-0.5zM440.75 388.25h0.5v0.25h-0.5zM425.75 388.5h0.25v0.25h-0.25zM433.25 388.5h0.25v0.25h-0.25zM425.75 388.75h0.25v0.25h-0.25zM433.25 388.75h0.25v0.25h-0.25zM434.25 388.75h0.25v0.25h-0.25zM438.75 388.75h0.25v0.25h-0.25zM425.75 389h0.25v0.25h-0.25zM434 389h0.75v0.25h-0.75zM436.5 389h0.25v0.25h-0.25zM438.75 389h0.5v0.25h-0.5zM425.75 389.25h0.5v0.25h-0.5zM434 389.25h0.75v0.25h-0.75zM436.5 389.25h0.25v0.25h-0.25zM438.75 389.25h0.5v0.25h-0.5zM425.75 389.5h0.5v0.25h-0.5zM434 389.5h0.75v0.25h-0.75zM436.5 389.5h0.25v0.25h-0.25zM438.75 389.5h0.5v0.25h-0.5zM434 389.75h0.75v0.25h-0.75zM438.75 389.75h0.5v0.25h-0.5zM434 390h0.75v0.25h-0.75zM434.25 390.25h0.25v0.25h-0.25zM431 391h0.25v0.25h-0.25zM431 391.25h0.25v0.25h-0.25zM431 391.5h0.25v0.25h-0.25zM431 391.75h0.5v0.25h-0.5zM431 392h0.5v0.25h-0.5zM436.5 392h0.25v0.25h-0.25zM431 392.25h0.5v0.25h-0.5zM436.25 392.25h0.75v0.25h-0.75zM429.5 392.5h0.5v0.25h-0.5zM431 392.5h0.5v0.25h-0.5zM436.25 392.5h0.75v0.25h-0.75zM439.25 392.5h0.25v0.25h-0.25zM429.5 392.75h0.75v0.25h-0.75zM431.25 392.75h0.25v0.25h-0.25zM436.25 392.75h0.75v0.25h-0.75zM439.25 392.75h0.25v0.25h-0.25zM429.5 393h0.75v0.25h-0.75zM431.25 393h0.25v0.25h-0.25zM436.25 393h0.75v0.25h-0.75zM439.25 393h0.25v0.25h-0.25zM429.5 393.25h0.75v0.25h-0.75zM433.75 393.25h0.25v0.25h-0.25zM436.25 393.25h0.75v0.25h-0.75zM439 393.25h0.5v0.25h-0.5zM429.5 393.5h0.75v0.25h-0.75zM433.75 393.5h0.25v0.25h-0.25zM436.25 393.5h1v0.25h-1zM439 393.5h0.5v0.25h-0.5zM429.5 393.75h0.75v0.25h-0.75zM433.5 393.75h0.5v0.25h-0.5zM436.25 393.75h1v0.25h-1zM439 393.75h0.5v0.25h-0.5zM429.5 394h0.75v0.25h-0.75zM433.5 394h0.5v0.25h-0.5zM436.25 394h1.5v0.25h-1.5zM439 394h0.5v0.25h-0.5zM440.5 394h0.25v0.25h-0.25zM429.5 394.25h0.5v0.25h-0.5zM433.5 394.25h0.5v0.25h-0.5zM436.25 394.25h1.75v0.25h-1.75zM439 394.25h0.5v0.25h-0.5zM440.5 394.25h0.5v0.25h-0.5zM429.5 394.5h0.5v0.25h-0.5zM433.5 394.5h0.75v0.25h-0.75zM436.25 394.5h1.75v0.25h-1.75zM439 394.5h0.25v0.25h-0.25zM440.5 394.5h0.75v0.25h-0.75zM433.5 394.75h0.75v0.25h-0.75zM436 394.75h2.25v0.25h-2.25zM440.25 394.75h1.25v0.25h-1.25zM433.5 395h0.75v0.25h-0.75zM435.75 395h2.5v0.25h-2.5zM440.25 395h1.25v0.25h-1.25zM433.5 395.25h0.75v0.25h-0.75zM435.5 395.25h2.75v0.25h-2.75zM440.25 395.25h1.25v0.25h-1.25zM432.5 395.5h0.5v0.25h-0.5zM433.5 395.5h0.75v0.25h-0.75zM435.5 395.5h3v0.25h-3zM440.25 395.5h1.25v0.25h-1.25zM432.5 395.75h0.5v0.25h-0.5zM433.5 395.75h0.75v0.25h-0.75zM435.5 395.75h3v0.25h-3zM440.25 395.75h1.25v0.25h-1.25zM432.5 396h1.75v0.25h-1.75zM435.5 396h3v0.25h-3zM440.25 396h1v0.25h-1zM432.5 396.25h1.75v0.25h-1.75zM435.5 396.25h3.25v0.25h-3.25zM440.5 396.25h0.5v0.25h-0.5zM432.5 396.5h1.75v0.25h-1.75zM435.5 396.5h3.5v0.25h-3.5zM440.5 396.5h0.5v0.25h-0.5zM432.5 396.75h1.75v0.25h-1.75zM435.75 396.75h3.25v0.25h-3.25zM440.5 396.75h0.5v0.25h-0.5zM432.5 397h1.75v0.25h-1.75zM435.75 397h3.25v0.25h-3.25zM432.5 397.25h1.75v0.25h-1.75zM435.75 397.25h3.5v0.25h-3.5zM432.5 397.5h1.75v0.25h-1.75zM436 397.5h2v0.25h-2zM438.25 397.5h0.75v0.25h-0.75zM432.5 397.75h1.75v0.25h-1.75zM436 397.75h1.75v0.25h-1.75zM438.25 397.75h0.75v0.25h-0.75zM432.5 398h1.75v0.25h-1.75zM436.25 398h1.5v0.25h-1.5zM438.25 398h0.75v0.25h-0.75zM432.5 398.25h0.75v0.25h-0.75zM433.75 398.25h0.5v0.25h-0.5zM436.5 398.25h0.25v0.25h-0.25zM437 398.25h0.75v0.25h-0.75zM438.25 398.25h0.75v0.25h-0.75zM439.75 398.25h0.25v0.25h-0.25zM432.5 398.5h0.75v0.25h-0.75zM434 398.5h0.25v0.25h-0.25zM437.25 398.5h0.5v0.25h-0.5zM438.25 398.5h0.75v0.25h-0.75zM439.75 398.5h0.5v0.25h-0.5zM432.5 398.75h0.5v0.25h-0.5zM437.25 398.75h0.5v0.25h-0.5zM438.25 398.75h0.75v0.25h-0.75zM439.5 398.75h0.75v0.25h-0.75zM432.5 399h0.75v0.25h-0.75zM437.25 399h0.5v0.25h-0.5zM438.25 399h0.5v0.25h-0.5zM439.5 399h0.75v0.25h-0.75zM432.5 399.25h0.75v0.25h-0.75zM437.25 399.25h0.75v0.25h-0.75zM438.25 399.25h0.5v0.25h-0.5zM439.5 399.25h0.75v0.25h-0.75zM432.5 399.5h0.75v0.25h-0.75zM437.25 399.5h0.75v0.25h-0.75zM438.5 399.5h0.25v0.25h-0.25zM439.25 399.5h1v0.25h-1zM428.75 399.75h0.25v0.25h-0.25zM432.5 399.75h0.75v0.25h-0.75zM437.5 399.75h0.5v0.25h-0.5zM439.25 399.75h1.25v0.25h-1.25zM428.75 400h0.25v0.25h-0.25zM429.75 400h0.25v0.25h-0.25zM432.5 400h0.75v0.25h-0.75zM437.5 400h0.5v0.25h-0.5zM439.25 400h1.25v0.25h-1.25zM428.75 400.25h0.25v0.25h-0.25zM429.75 400.25h0.25v0.25h-0.25zM432.5 400.25h0.75v0.25h-0.75zM439.25 400.25h1.25v0.25h-1.25zM428.75 400.5h0.25v0.25h-0.25zM429.75 400.5h0.25v0.25h-0.25zM432.75 400.5h0.5v0.25h-0.5zM439.25 400.5h0.25v0.25h-0.25zM429.75 400.75h0.25v0.25h-0.25zM432.75 400.75h0.5v0.25h-0.5zM439.25 400.75h0.25v0.25h-0.25zM440.75 400.75h0.25v0.25h-0.25zM429.75 401h0.25v0.25h-0.25zM440.75 401h0.25v0.25h-0.25zM429.75 401.25h0.25v0.25h-0.25zM440.75 401.25h0.25v0.25h-0.25zM429.75 401.5h0.25v0.25h-0.25zM440.75 401.5h0.25v0.25h-0.25z"/>
<path d="M284,359.2 L446,359.2" stroke="#BFBF00" stroke-width="1.8" stroke-dasharray="6.1 1.5 3.2 1.46" fill="none"/>
<path d="M282.6,266.8 L447,266.8 L447,410.8 L282.6,410.8 Z" fill="none" stroke="#000" stroke-width="1.5"/>
<path d="M282.6,336.1 L285.2,336.1 M282.6,405.5 L285.2,405.5 M364.8,266.8 L364.8,269.3 M364.8,410.8 L364.8,408.3" stroke="#000" stroke-width="1.5" fill="none"/>
<g font-family="Liberation Serif" font-size="17.5" fill="#000" text-anchor="end"><text x="276.6" y="272">3</text><text x="276.4" y="340.6">1.5</text><text x="276.6" y="409.6">0</text></g>
<g font-family="Liberation Serif" font-size="17.5" fill="#000" text-anchor="middle"><text x="284.1" y="431.2">8</text><text x="364.8" y="431.2">10</text><text x="445.5" y="431.2">12</text></g>
<text font-family="Liberation Serif" font-size="19.5" letter-spacing="-0.6" font-style="italic" x="364.8" y="257.4" text-anchor="middle"><tspan font-style="normal" font-size="21">(</tspan>c<tspan font-style="normal" font-size="21">)</tspan></text>
<path d="M360.35,448.00 C361.10,446.60 361.80,445.90 363.00,445.85 L369.55,445.85" fill="none" stroke="#000" stroke-width="1.35"/><path d="M365.70,446.00 L364.00,451.70 C363.80,452.50 363.60,452.90 363.30,453.10" fill="none" stroke="#000" stroke-width="1.75" stroke-linecap="round"/>
<g transform="translate(238.7,338.35) rotate(-90) scale(1.0)" fill="none" stroke="#000" stroke-linecap="round"><path d="M-4.4,-6.0 C-3.8,-7.6 -2.5,-8.4 -1.7,-7.7 C-1.1,-7.1 -1.5,-5.6 -2.1,-4.0 C-2.7,-2.4 -2.9,-0.8 -1.6,-0.2 C-0.3,0.3 1.3,-0.9 2.1,-2.4" stroke-width="1.15"/><path d="M3.9,-8.0 L2.0,-1.2 C1.4,1.4 -0.2,3.6 -2.2,3.6 C-3.1,3.6 -3.7,3.1 -3.5,2.5" stroke-width="1.25"/></g>
<path d="M556.6,363.2 C556.6,361.8 556.9,360.6 557.6,359.0 C558.4,357.4 558.3,356.5 561.1,353.9 C563.9,351.3 569.5,346.5 574.3,343.3 C579.1,340.1 584.9,337.4 590.1,334.6 C595.3,331.8 602.9,327.9 605.4,326.5" fill="none" stroke="#A2142F" stroke-width="2"/>
<path d="M556.6,363.2 C556.6,364.6 556.9,365.9 557.6,367.4 C558.4,368.9 558.3,370.2 561.1,372.4 C563.9,374.5 569.5,378.1 574.3,380.3 C579.1,382.5 584.9,383.9 590.1,385.6 C595.3,387.4 602.9,389.9 605.4,390.8" fill="none" stroke="#A2142F" stroke-width="2"/>
<path d="M605.4,326.5 C605.4,324.6 609.3,322.9 612.3,320.9 C615.2,318.9 619.2,316.9 623.1,314.7 C627.0,312.5 631.6,310.0 635.5,307.8 C639.4,305.6 643.1,303.3 646.2,301.6 C649.3,299.9 650.8,299.2 653.9,297.7 C657.0,296.1 660.7,294.3 664.7,292.3 C668.7,290.3 675.8,286.7 678.0,285.6" fill="none" stroke="#A2142F" stroke-width="2"/>
<path d="M605.4,326.5 C605.4,326.9 607.0,327.5 609.2,327.8 C611.4,328.1 614.9,328.8 618.5,328.3 C622.1,327.8 627.2,326.2 630.8,324.7 C634.4,323.2 637.5,320.8 640.1,319.3 C642.7,317.8 643.9,316.8 646.2,315.5 C648.5,314.2 650.8,313.1 653.9,311.8 C657.0,310.5 661.0,309.0 665.0,307.5 C669.0,306.0 675.8,303.8 678.0,303.0" fill="none" stroke="#A2142F" stroke-width="2"/>
<path d="M605.4,390.8 C605.4,391.0 614.7,390.9 619.5,391.5 C624.3,392.1 628.5,393.0 634.3,394.2 C640.1,395.4 647.2,397.6 654.5,398.9 C661.8,400.2 674.1,401.3 678.0,401.8" fill="none" stroke="#A2142F" stroke-width="2"/>
<path d="M605.4,390.8 C605.4,391.9 616.1,393.1 620.9,394.2 C625.7,395.3 629.8,396.3 634.3,397.5 C638.8,398.7 643.9,400.5 647.7,401.6 C651.5,402.7 652.2,403.4 657.2,404.2 C662.2,405.0 674.5,405.9 678.0,406.3" fill="none" stroke="#A2142F" stroke-width="2"/>
<path d="M516.0,363.2 L556.6,363.2" fill="none" stroke="#A2142F" stroke-width="2"/>
<path d="M644.5,316.5 L648.0,312.0 L652.0,306.5 L656.0,301.5 L659.5,298.0 L664.7,293.2 L678.5,285.8 L678.5,303.0 L668.0,306.5 L660.0,309.5 L653.9,311.8 L648.0,314.5 Z" fill="#A2142F"/>
<path d="M652,400 L678,402 L678,406.5 L657,404.5 Z" fill="#A2142F"/>
<path d="M515.2,266.8 L679,266.8 L679,410.8 L515.2,410.8 Z" fill="none" stroke="#000" stroke-width="1.5"/>
<path d="M515.2,270.8 L517.8,270.8 M515.2,340.3 L517.8,340.3 M597,266.8 L597,269.3 M597,410.8 L597,408.3" stroke="#000" stroke-width="1.5" fill="none"/>
<g font-family="Liberation Serif" font-size="17.5" fill="#000" text-anchor="end"><text x="509" y="276">0.3</text><text x="509" y="346">0.15</text><text x="509" y="415.4">0</text></g>
<g font-family="Liberation Serif" font-size="17.5" fill="#000" text-anchor="middle"><text x="516.1" y="431.2">8</text><text x="597" y="431.2">10</text><text x="677.7" y="431.2">12</text></g>
<text font-family="Liberation Serif" font-size="19.5" letter-spacing="-0.6" font-style="italic" x="597" y="257.4" text-anchor="middle"><tspan font-style="normal" font-size="21">(</tspan>d<tspan font-style="normal" font-size="21">)</tspan></text>
<path d="M592.65,448.00 C593.40,446.60 594.10,445.90 595.30,445.85 L601.85,445.85" fill="none" stroke="#000" stroke-width="1.35"/><path d="M598.00,446.00 L596.30,451.70 C596.10,452.50 595.90,452.90 595.60,453.10" fill="none" stroke="#000" stroke-width="1.75" stroke-linecap="round"/>
<g transform="translate(469.7,338.85) rotate(-90) scale(1.0)" fill="none" stroke="#000" stroke-linecap="round" stroke-linejoin="round"><path d="M-3.4,-5.4 C-3.0,-7.2 -1.8,-8.0 -0.6,-7.4 C0.6,-6.8 1.6,-6.6 2.4,-7.2 C2.9,-7.6 3.2,-8.1 3.3,-8.1 L-3.6,-0.2 M-3.6,-0.2 C-2.8,-1.2 -1.8,-1.2 -0.6,-0.6 C0.6,0.0 1.8,0.3 2.6,-0.8 C2.9,-1.2 3.0,-1.8 3.0,-1.8" stroke-width="1.1"/></g></svg></body></html>
